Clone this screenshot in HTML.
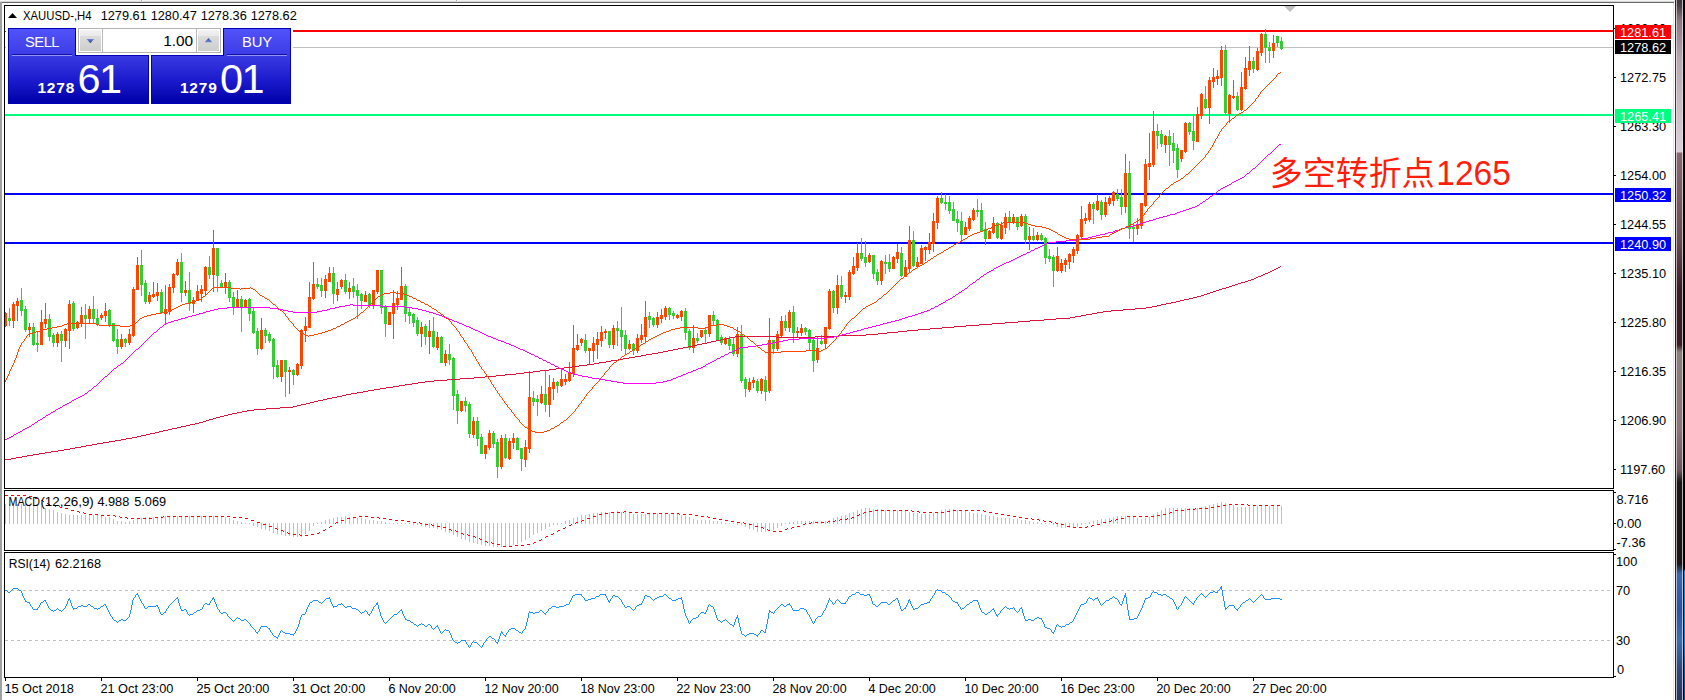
<!DOCTYPE html>
<html lang="zh"><head><meta charset="utf-8"><title>XAUUSD-,H4</title>
<style>html,body{margin:0;padding:0;background:#fff;overflow:hidden}svg{display:block}text{font-family:"Liberation Sans","Noto Sans CJK SC",sans-serif;white-space:pre}</style></head><body>
<svg width="1685" height="700" viewBox="0 0 1685 700">
<defs>
<linearGradient id="gTab" x1="0" y1="0" x2="0" y2="1"><stop offset="0" stop-color="#5252fa"/><stop offset="1" stop-color="#3c3ce6"/></linearGradient>
<linearGradient id="gBox" x1="0" y1="0" x2="0" y2="1"><stop offset="0" stop-color="#3a3ae2"/><stop offset="0.5" stop-color="#1c1cce"/><stop offset="1" stop-color="#0000a8"/></linearGradient>
<linearGradient id="gBtn" x1="0" y1="0" x2="0" y2="1"><stop offset="0" stop-color="#f2f2f2"/><stop offset="0.45" stop-color="#e6e6e6"/><stop offset="0.5" stop-color="#d4d4d4"/><stop offset="1" stop-color="#cdcdcd"/></linearGradient>
<linearGradient id="gFrame" gradientUnits="userSpaceOnUse" x1="0" y1="0" x2="0" y2="700"><stop offset="0.0000" stop-color="#3c363c"/><stop offset="0.0086" stop-color="#4a4046"/><stop offset="0.0286" stop-color="#8a7880"/><stop offset="0.0857" stop-color="#b8a8b0"/><stop offset="0.2171" stop-color="#dcd0d8"/><stop offset="0.2186" stop-color="#886870"/><stop offset="0.3429" stop-color="#6a4a54"/><stop offset="0.4143" stop-color="#3a1c24"/><stop offset="0.4929" stop-color="#3a1c24"/><stop offset="0.5029" stop-color="#8a8078"/><stop offset="0.6143" stop-color="#8c7478"/><stop offset="0.6714" stop-color="#6c585c"/><stop offset="0.6886" stop-color="#1a1618"/><stop offset="0.8057" stop-color="#1a1618"/><stop offset="0.8200" stop-color="#3a68ac"/><stop offset="0.8714" stop-color="#2a52a0"/><stop offset="0.9143" stop-color="#3870b0"/><stop offset="0.9571" stop-color="#2c4878"/><stop offset="1.0000" stop-color="#283860"/></linearGradient>
<linearGradient id="gEdge" gradientUnits="userSpaceOnUse" x1="0" y1="0" x2="0" y2="700"><stop offset="0.8129" stop-color="#000"/><stop offset="0.8157" stop-color="#1e8ce0"/><stop offset="0.92" stop-color="#1e80d0"/><stop offset="0.95" stop-color="#1c5c9c"/><stop offset="1" stop-color="#1c4c84"/></linearGradient>
<linearGradient id="gBtnT" x1="0" y1="0" x2="0" y2="1"><stop offset="0" stop-color="#f3f3f3"/><stop offset="1" stop-color="#e9e9e9"/></linearGradient>
<linearGradient id="gBtnB" x1="0" y1="0" x2="0" y2="1"><stop offset="0" stop-color="#dcdcdc"/><stop offset="1" stop-color="#cecece"/></linearGradient>
<linearGradient id="gArr" x1="0" y1="0" x2="0" y2="1"><stop offset="0" stop-color="#6c84dc"/><stop offset="1" stop-color="#2c3a78"/></linearGradient>
<linearGradient id="gArr2" x1="0" y1="0" x2="0" y2="1"><stop offset="0" stop-color="#3c4c90"/><stop offset="1" stop-color="#6c84dc"/></linearGradient>
<clipPath id="cMain"><rect x="5" y="6" width="1608" height="482"/></clipPath>
<clipPath id="cMacd"><rect x="5" y="491" width="1608" height="59"/></clipPath>
<clipPath id="cRsi"><rect x="5" y="553" width="1608" height="124"/></clipPath>
</defs>
<rect x="0" y="0" width="1685" height="700" fill="#fff" />
<g shape-rendering="crispEdges">
<rect x="0" y="0" width="1675" height="1" fill="#f4f4f4" />
<rect x="0" y="1" width="1675" height="1" fill="#d6d6d6" />
<rect x="0" y="2" width="1674" height="1" fill="#6a6a6a" />
<rect x="141" y="0" width="1" height="1" fill="#a4a4a4" />
<rect x="142" y="0" width="1" height="1" fill="#ffffff" />
<rect x="456" y="0" width="1" height="1" fill="#a4a4a4" />
<rect x="457" y="0" width="1" height="1" fill="#ffffff" />
<rect x="0" y="2" width="2" height="698" fill="#a0a0a0" />
<rect x="1673" y="3" width="1" height="697" fill="#e6e6e6" />
<rect x="1675" y="0" width="10" height="700" fill="url(#gFrame)" />
<rect x="1675" y="0" width="1" height="700" fill="#241c22" opacity="0.85"/>
<rect x="1676" y="0" width="1" height="700" fill="#e8e0e6" opacity="0.7"/>
<rect x="1682" y="0" width="1" height="700" fill="#e8e4ea" opacity="0.75"/>
<rect x="1683" y="0" width="1" height="700" fill="#04060a" />
<rect x="1684" y="0" width="1" height="700" fill="url(#gEdge)" />
</g>
<!--FRAME_DONE-->
<g shape-rendering="crispEdges">
<rect x="4" y="5" width="1610" height="1" fill="#000" />
<rect x="4" y="5" width="1" height="673" fill="#000" />
<rect x="1613" y="5" width="1" height="673" fill="#000" />
<rect x="4" y="488" width="1610" height="1" fill="#000" />
<rect x="4" y="490" width="1610" height="1" fill="#000" />
<rect x="4" y="550" width="1610" height="1" fill="#000" />
<rect x="4" y="552" width="1610" height="1" fill="#000" />
<rect x="4" y="677" width="1610" height="1" fill="#000" />
<rect x="4" y="489" width="1610" height="1" fill="#fff" />
<rect x="4" y="551" width="1610" height="1" fill="#fff" />
</g>
<g shape-rendering="crispEdges">
<rect x="5" y="47" width="1608" height="1" fill="#c0c0c0" />
<rect x="5" y="30" width="1608" height="2" fill="#ff0000" />
<rect x="5" y="114" width="1608" height="2" fill="#00ff7f" />
<rect x="5" y="193" width="1608" height="2" fill="#0000ff" />
<rect x="5" y="242" width="1608" height="2" fill="#0000ff" />
</g>
<g clip-path="url(#cMain)" shape-rendering="crispEdges">
<path d="M9 308h1V326h-1zM8 318h3V321h-3zM21 288h1V316h-1zM20 300h3V311h-3zM25 306h1V332h-1zM24 309h3V330h-3zM33 323h1V346h-1zM32 327h3V345h-3zM37 332h1V352h-1zM36 343h3V345h-3zM49 314h1V341h-1zM48 319h3V337h-3zM53 333h1V347h-1zM52 335h3V343h-3zM61 331h1V362h-1zM60 334h3V341h-3zM73 301h1V331h-1zM72 303h3V329h-3zM85 304h1V339h-1zM84 315h3V319h-3zM93 296h1V324h-1zM92 309h3V319h-3zM97 309h1V326h-1zM96 318h3V324h-3zM109 309h1V327h-1zM108 310h3V326h-3zM113 323h1V342h-1zM112 323h3V341h-3zM117 329h1V354h-1zM116 339h3V347h-3zM125 338h1V347h-1zM124 339h3V343h-3zM141 250h1V296h-1zM140 265h3V285h-3zM145 280h1V304h-1zM144 283h3V302h-3zM161 289h1V314h-1zM160 292h3V313h-3zM181 253h1V302h-1zM180 262h3V293h-3zM189 272h1V311h-1zM188 290h3V304h-3zM209 256h1V279h-1zM208 267h3V275h-3zM217 248h1V292h-1zM216 248h3V276h-3zM221 280h1V288h-1zM220 283h3V288h-3zM229 280h1V302h-1zM228 282h3V298h-3zM233 292h1V315h-1zM232 297h3V308h-3zM241 296h1V332h-1zM240 299h3V307h-3zM249 298h1V321h-1zM248 299h3V314h-3zM253 307h1V334h-1zM252 311h3V333h-3zM257 328h1V355h-1zM256 331h3V349h-3zM265 328h1V343h-1zM264 330h3V336h-3zM269 332h1V343h-1zM268 334h3V341h-3zM273 338h1V379h-1zM272 339h3V367h-3zM277 360h1V378h-1zM276 365h3V377h-3zM285 360h1V397h-1zM284 360h3V372h-3zM293 369h1V385h-1zM292 370h3V375h-3zM317 278h1V289h-1zM316 284h3V287h-3zM321 278h1V297h-1zM320 285h3V291h-3zM333 267h1V304h-1zM332 273h3V294h-3zM345 274h1V294h-1zM344 280h3V292h-3zM353 278h1V298h-1zM352 286h3V292h-3zM357 284h1V319h-1zM356 290h3V296h-3zM361 293h1V309h-1zM360 294h3V301h-3zM369 293h1V308h-1zM368 294h3V306h-3zM381 270h1V314h-1zM380 270h3V308h-3zM385 305h1V337h-1zM384 306h3V324h-3zM405 284h1V322h-1zM404 286h3V314h-3zM409 307h1V324h-1zM408 312h3V316h-3zM413 313h1V327h-1zM412 314h3V323h-3zM417 317h1V336h-1zM416 320h3V334h-3zM425 324h1V345h-1zM424 326h3V337h-3zM433 317h1V348h-1zM432 331h3V347h-3zM441 336h1V363h-1zM440 337h3V363h-3zM449 344h1V365h-1zM448 354h3V360h-3zM453 357h1V410h-1zM452 358h3V396h-3zM457 390h1V424h-1zM456 394h3V411h-3zM465 397h1V412h-1zM464 401h3V406h-3zM469 402h1V438h-1zM468 404h3V434h-3zM477 417h1V446h-1zM476 421h3V439h-3zM481 434h1V454h-1zM480 437h3V454h-3zM493 431h1V448h-1zM492 433h3V444h-3zM497 439h1V478h-1zM496 442h3V467h-3zM505 434h1V459h-1zM504 438h3V458h-3zM517 437h1V450h-1zM516 438h3V450h-3zM521 448h1V471h-1zM520 448h3V459h-3zM533 391h1V406h-1zM532 398h3V402h-3zM537 395h1V416h-1zM536 399h3V402h-3zM545 371h1V412h-1zM544 394h3V405h-3zM557 381h1V393h-1zM556 382h3V386h-3zM585 334h1V353h-1zM584 340h3V351h-3zM609 331h1V348h-1zM608 331h3V345h-3zM617 321h1V346h-1zM616 328h3V331h-3zM621 307h1V351h-1zM620 330h3V337h-3zM625 330h1V354h-1zM624 335h3V349h-3zM633 343h1V355h-1zM632 344h3V351h-3zM649 312h1V328h-1zM648 316h3V320h-3zM653 317h1V327h-1zM652 318h3V325h-3zM669 307h1V320h-1zM668 308h3V315h-3zM673 311h1V319h-1zM672 313h3V316h-3zM685 308h1V340h-1zM684 311h3V333h-3zM689 329h1V350h-1zM688 331h3V348h-3zM697 333h1V343h-1zM696 338h3V341h-3zM705 327h1V343h-1zM704 330h3V334h-3zM713 311h1V326h-1zM712 315h3V321h-3zM717 319h1V341h-1zM716 320h3V340h-3zM721 335h1V345h-1zM720 337h3V343h-3zM729 336h1V350h-1zM728 339h3V346h-3zM733 337h1V356h-1zM732 344h3V354h-3zM741 325h1V383h-1zM740 334h3V381h-3zM745 377h1V397h-1zM744 379h3V389h-3zM757 379h1V393h-1zM756 381h3V391h-3zM765 376h1V401h-1zM764 380h3V392h-3zM773 340h1V354h-1zM772 340h3V349h-3zM785 315h1V331h-1zM784 321h3V328h-3zM793 306h1V343h-1zM792 312h3V333h-3zM805 327h1V335h-1zM804 328h3V332h-3zM809 329h1V350h-1zM808 330h3V343h-3zM813 337h1V372h-1zM812 340h3V361h-3zM821 335h1V345h-1zM820 341h3V344h-3zM833 290h1V313h-1zM832 291h3V308h-3zM841 276h1V299h-1zM840 285h3V297h-3zM861 238h1V261h-1zM860 253h3V259h-3zM865 241h1V267h-1zM864 257h3V263h-3zM873 255h1V279h-1zM872 255h3V274h-3zM877 269h1V285h-1zM876 272h3V281h-3zM885 255h1V274h-1zM884 262h3V264h-3zM889 254h1V272h-1zM888 262h3V269h-3zM901 247h1V277h-1zM900 253h3V276h-3zM913 231h1V267h-1zM912 240h3V266h-3zM941 192h1V204h-1zM940 198h3V203h-3zM945 194h1V210h-1zM944 202h3V204h-3zM949 196h1V214h-1zM948 202h3V211h-3zM953 202h1V221h-1zM952 209h3V221h-3zM957 211h1V232h-1zM956 219h3V223h-3zM961 212h1V242h-1zM960 221h3V235h-3zM977 199h1V217h-1zM976 210h3V212h-3zM981 203h1V232h-1zM980 210h3V231h-3zM985 222h1V245h-1zM984 229h3V239h-3zM997 222h1V239h-1zM996 223h3V238h-3zM1009 211h1V230h-1zM1008 217h3V223h-3zM1017 217h1V230h-1zM1016 217h3V227h-3zM1025 214h1V244h-1zM1024 216h3V240h-3zM1033 228h1V241h-1zM1032 236h3V240h-3zM1041 233h1V241h-1zM1040 235h3V240h-3zM1045 237h1V264h-1zM1044 238h3V258h-3zM1049 249h1V262h-1zM1048 256h3V259h-3zM1053 255h1V287h-1zM1052 257h3V271h-3zM1093 202h1V224h-1zM1092 204h3V209h-3zM1101 200h1V220h-1zM1100 202h3V215h-3zM1117 189h1V201h-1zM1116 194h3V199h-3zM1121 189h1V215h-1zM1120 197h3V207h-3zM1129 161h1V239h-1zM1128 173h3V229h-3zM1133 223h1V242h-1zM1132 227h3V229h-3zM1157 124h1V149h-1zM1156 131h3V136h-3zM1161 130h1V147h-1zM1160 134h3V144h-3zM1169 130h1V166h-1zM1168 136h3V145h-3zM1173 133h1V163h-1zM1172 143h3V151h-3zM1177 144h1V178h-1zM1176 148h3V170h-3zM1189 122h1V135h-1zM1188 123h3V132h-3zM1193 116h1V150h-1zM1192 131h3V141h-3zM1205 86h1V109h-1zM1204 99h3V108h-3zM1225 45h1V115h-1zM1224 50h3V113h-3zM1237 92h1V111h-1zM1236 96h3V110h-3zM1253 57h1V73h-1zM1252 61h3V69h-3zM1265 29h1V63h-1zM1264 34h3V48h-3zM1269 42h1V63h-1zM1268 47h3V51h-3zM1277 36h1V47h-1zM1276 36h3V43h-3zM1281 37h1V50h-1zM1280 41h3V49h-3z" fill="#32cd32"/>
<path d="M5 312h1V327h-1zM4 313h3V326h-3zM13 302h1V328h-1zM12 304h3V321h-3zM17 298h1V321h-1zM16 301h3V306h-3zM29 323h1V337h-1zM28 327h3V330h-3zM41 310h1V345h-1zM40 322h3V345h-3zM45 303h1V328h-1zM44 319h3V324h-3zM57 332h1V347h-1zM56 334h3V343h-3zM65 328h1V347h-1zM64 329h3V341h-3zM69 300h1V349h-1zM68 304h3V331h-3zM77 321h1V329h-1zM76 322h3V328h-3zM81 307h1V327h-1zM80 315h3V324h-3zM89 306h1V324h-1zM88 309h3V319h-3zM101 313h1V320h-1zM100 315h3V318h-3zM105 303h1V322h-1zM104 311h3V316h-3zM121 334h1V349h-1zM120 339h3V347h-3zM129 329h1V345h-1zM128 334h3V343h-3zM133 287h1V337h-1zM132 289h3V336h-3zM137 257h1V290h-1zM136 265h3V290h-3zM149 292h1V304h-1zM148 295h3V302h-3zM153 282h1V298h-1zM152 294h3V297h-3zM157 283h1V301h-1zM156 292h3V296h-3zM165 285h1V325h-1zM164 309h3V314h-3zM169 284h1V315h-1zM168 287h3V312h-3zM173 273h1V293h-1zM172 274h3V288h-3zM177 259h1V276h-1zM176 262h3V275h-3zM185 281h1V296h-1zM184 290h3V293h-3zM193 297h1V313h-1zM192 300h3V304h-3zM197 285h1V301h-1zM196 291h3V301h-3zM201 285h1V302h-1zM200 289h3V294h-3zM205 266h1V296h-1zM204 267h3V291h-3zM213 230h1V292h-1zM212 248h3V275h-3zM225 273h1V294h-1zM224 282h3V288h-3zM237 290h1V308h-1zM236 299h3V308h-3zM245 299h1V308h-1zM244 300h3V308h-3zM261 318h1V350h-1zM260 330h3V349h-3zM281 360h1V382h-1zM280 360h3V377h-3zM289 367h1V394h-1zM288 370h3V372h-3zM297 363h1V376h-1zM296 364h3V375h-3zM301 329h1V369h-1zM300 330h3V366h-3zM305 317h1V342h-1zM304 326h3V331h-3zM309 282h1V328h-1zM308 297h3V328h-3zM313 262h1V300h-1zM312 284h3V299h-3zM325 275h1V298h-1zM324 279h3V291h-3zM329 267h1V282h-1zM328 273h3V282h-3zM337 282h1V301h-1zM336 289h3V295h-3zM341 279h1V289h-1zM340 280h3V287h-3zM349 282h1V299h-1zM348 288h3V292h-3zM365 291h1V302h-1zM364 295h3V302h-3zM373 290h1V309h-1zM372 290h3V306h-3zM377 270h1V294h-1zM376 270h3V292h-3zM389 312h1V325h-1zM388 312h3V325h-3zM393 290h1V339h-1zM392 303h3V314h-3zM397 291h1V310h-1zM396 298h3V305h-3zM401 267h1V300h-1zM400 286h3V300h-3zM421 322h1V347h-1zM420 327h3V334h-3zM429 320h1V354h-1zM428 331h3V337h-3zM437 332h1V350h-1zM436 337h3V348h-3zM445 350h1V366h-1zM444 354h3V363h-3zM461 401h1V412h-1zM460 401h3V411h-3zM473 417h1V438h-1zM472 421h3V435h-3zM485 445h1V459h-1zM484 445h3V454h-3zM489 430h1V450h-1zM488 433h3V448h-3zM501 435h1V469h-1zM500 438h3V467h-3zM509 438h1V460h-1zM508 441h3V459h-3zM513 433h1V449h-1zM512 438h3V443h-3zM525 440h1V467h-1zM524 447h3V460h-3zM529 371h1V453h-1zM528 397h3V449h-3zM541 386h1V404h-1zM540 394h3V403h-3zM549 375h1V417h-1zM548 387h3V405h-3zM553 378h1V400h-1zM552 382h3V389h-3zM561 368h1V387h-1zM560 379h3V386h-3zM565 374h1V385h-1zM564 379h3V382h-3zM569 362h1V382h-1zM568 372h3V381h-3zM573 325h1V377h-1zM572 348h3V374h-3zM577 334h1V351h-1zM576 345h3V350h-3zM581 338h1V346h-1zM580 339h3V343h-3zM589 348h1V365h-1zM588 348h3V351h-3zM593 337h1V362h-1zM592 343h3V351h-3zM597 332h1V359h-1zM596 339h3V345h-3zM601 326h1V347h-1zM600 332h3V341h-3zM605 329h1V339h-1zM604 331h3V333h-3zM613 325h1V349h-1zM612 328h3V345h-3zM629 340h1V350h-1zM628 344h3V349h-3zM637 334h1V353h-1zM636 338h3V351h-3zM641 324h1V343h-1zM640 335h3V340h-3zM645 301h1V342h-1zM644 317h3V337h-3zM657 312h1V328h-1zM656 317h3V325h-3zM661 309h1V323h-1zM660 315h3V319h-3zM665 306h1V320h-1zM664 308h3V317h-3zM677 314h1V319h-1zM676 315h3V318h-3zM681 310h1V321h-1zM680 311h3V317h-3zM693 325h1V353h-1zM692 338h3V348h-3zM701 330h1V338h-1zM700 330h3V337h-3zM709 315h1V337h-1zM708 315h3V334h-3zM725 337h1V345h-1zM724 338h3V344h-3zM737 327h1V357h-1zM736 334h3V354h-3zM749 378h1V392h-1zM748 382h3V390h-3zM753 377h1V388h-1zM752 380h3V383h-3zM761 378h1V394h-1zM760 379h3V391h-3zM769 318h1V393h-1zM768 340h3V391h-3zM777 331h1V351h-1zM776 334h3V349h-3zM781 316h1V338h-1zM780 321h3V336h-3zM789 310h1V332h-1zM788 312h3V328h-3zM797 327h1V338h-1zM796 331h3V333h-3zM801 324h1V336h-1zM800 328h3V333h-3zM817 336h1V363h-1zM816 348h3V360h-3zM825 327h1V348h-1zM824 327h3V344h-3zM829 289h1V330h-1zM828 291h3V329h-3zM837 275h1V314h-1zM836 285h3V308h-3zM845 292h1V303h-1zM844 295h3V297h-3zM849 270h1V300h-1zM848 272h3V297h-3zM853 257h1V275h-1zM852 266h3V274h-3zM857 243h1V271h-1zM856 253h3V268h-3zM869 253h1V263h-1zM868 255h3V262h-3zM881 260h1V285h-1zM880 261h3V281h-3zM893 256h1V269h-1zM892 257h3V269h-3zM897 244h1V263h-1zM896 252h3V259h-3zM905 260h1V277h-1zM904 267h3V277h-3zM909 226h1V272h-1zM908 240h3V269h-3zM917 257h1V268h-1zM916 262h3V267h-3zM921 245h1V264h-1zM920 248h3V264h-3zM925 246h1V261h-1zM924 247h3V250h-3zM929 233h1V254h-1zM928 242h3V250h-3zM933 213h1V252h-1zM932 221h3V244h-3zM937 196h1V229h-1zM936 198h3V223h-3zM965 222h1V235h-1zM964 227h3V235h-3zM969 216h1V231h-1zM968 218h3V229h-3zM973 208h1V221h-1zM972 210h3V220h-3zM989 230h1V239h-1zM988 231h3V239h-3zM993 217h1V234h-1zM992 223h3V233h-3zM1001 222h1V240h-1zM1000 225h3V239h-3zM1005 213h1V234h-1zM1004 217h3V228h-3zM1013 214h1V224h-1zM1012 217h3V223h-3zM1021 214h1V227h-1zM1020 216h3V226h-3zM1029 227h1V250h-1zM1028 236h3V240h-3zM1037 232h1V241h-1zM1036 235h3V240h-3zM1057 247h1V272h-1zM1056 256h3V271h-3zM1061 259h1V273h-1zM1060 263h3V271h-3zM1065 258h1V272h-1zM1064 260h3V265h-3zM1069 253h1V269h-1zM1068 254h3V262h-3zM1073 247h1V263h-1zM1072 249h3V256h-3zM1077 234h1V254h-1zM1076 235h3V251h-3zM1081 206h1V239h-1zM1080 219h3V237h-3zM1085 213h1V224h-1zM1084 218h3V221h-3zM1089 202h1V222h-1zM1088 204h3V220h-3zM1097 194h1V211h-1zM1096 201h3V210h-3zM1105 197h1V217h-1zM1104 202h3V215h-3zM1109 196h1V206h-1zM1108 198h3V204h-3zM1113 191h1V206h-1zM1112 192h3V201h-3zM1125 154h1V213h-1zM1124 173h3V207h-3zM1137 218h1V235h-1zM1136 224h3V229h-3zM1141 203h1V229h-1zM1140 203h3V226h-3zM1145 159h1V207h-1zM1144 164h3V206h-3zM1149 133h1V180h-1zM1148 163h3V167h-3zM1153 111h1V167h-1zM1152 131h3V165h-3zM1165 135h1V153h-1zM1164 136h3V145h-3zM1181 150h1V162h-1zM1180 150h3V159h-3zM1185 122h1V153h-1zM1184 123h3V152h-3zM1197 107h1V142h-1zM1196 114h3V142h-3zM1201 93h1V119h-1zM1200 94h3V116h-3zM1209 77h1V124h-1zM1208 80h3V108h-3zM1213 68h1V88h-1zM1212 77h3V82h-3zM1217 70h1V85h-1zM1216 76h3V79h-3zM1221 46h1V86h-1zM1220 50h3V78h-3zM1229 94h1V123h-1zM1228 95h3V114h-3zM1233 80h1V99h-1zM1232 96h3V98h-3zM1241 72h1V111h-1zM1240 87h3V110h-3zM1245 57h1V90h-1zM1244 68h3V89h-3zM1249 46h1V76h-1zM1248 61h3V70h-3zM1257 48h1V71h-1zM1256 51h3V70h-3zM1261 33h1V56h-1zM1260 34h3V53h-3zM1273 35h1V58h-1zM1272 43h3V51h-3z" fill="#ff4500"/>
<path d="M5 459h1v1h-1zM6 459h1v1h-1zM7 459h1v1h-1zM8 459h1v1h-1zM9 459h1v1h-1zM10 459h1v1h-1zM11 458h1v1h-1zM12 458h1v1h-1zM13 458h1v1h-1zM14 458h1v1h-1zM15 458h1v1h-1zM16 457h1v1h-1zM17 457h1v1h-1zM18 457h1v1h-1zM19 457h1v1h-1zM20 457h1v1h-1zM21 457h1v1h-1zM22 456h1v1h-1zM23 456h1v1h-1zM24 456h1v1h-1zM25 456h1v1h-1zM26 456h1v1h-1zM27 455h1v1h-1zM28 455h1v1h-1zM29 455h1v1h-1zM30 455h1v1h-1zM31 455h1v1h-1zM32 455h1v1h-1zM33 454h1v1h-1zM34 454h1v1h-1zM35 454h1v1h-1zM36 454h1v1h-1zM37 454h1v1h-1zM38 454h1v1h-1zM39 453h1v1h-1zM40 453h1v1h-1zM41 453h1v1h-1zM42 453h1v1h-1zM43 453h1v1h-1zM44 453h1v1h-1zM45 452h1v1h-1zM46 452h1v1h-1zM47 452h1v1h-1zM48 452h1v1h-1zM49 452h1v1h-1zM50 452h1v1h-1zM51 451h1v1h-1zM52 451h1v1h-1zM53 451h1v1h-1zM54 451h1v1h-1zM55 451h1v1h-1zM56 451h1v1h-1zM57 451h1v1h-1zM58 450h1v1h-1zM59 450h1v1h-1zM60 450h1v1h-1zM61 450h1v1h-1zM62 450h1v1h-1zM63 450h1v1h-1zM64 449h1v1h-1zM65 449h1v1h-1zM66 449h1v1h-1zM67 449h1v1h-1zM68 449h1v1h-1zM69 449h1v1h-1zM70 448h1v1h-1zM71 448h1v1h-1zM72 448h1v1h-1zM73 448h1v1h-1zM74 448h1v1h-1zM75 447h1v1h-1zM76 447h1v1h-1zM77 447h1v1h-1zM78 447h1v1h-1zM79 447h1v1h-1zM80 447h1v1h-1zM81 446h1v1h-1zM82 446h1v1h-1zM83 446h1v1h-1zM84 446h1v1h-1zM85 446h1v1h-1zM86 445h1v1h-1zM87 445h1v1h-1zM88 445h1v1h-1zM89 445h1v1h-1zM90 445h1v1h-1zM91 445h1v1h-1zM92 444h1v1h-1zM93 444h1v1h-1zM94 444h1v1h-1zM95 444h1v1h-1zM96 444h1v1h-1zM97 443h1v1h-1zM98 443h1v1h-1zM99 443h1v1h-1zM100 443h1v1h-1zM101 443h1v1h-1zM102 443h1v1h-1zM103 442h1v1h-1zM104 442h1v1h-1zM105 442h1v1h-1zM106 442h1v1h-1zM107 442h1v1h-1zM108 442h1v1h-1zM109 441h1v1h-1zM110 441h1v1h-1zM111 441h1v1h-1zM112 441h1v1h-1zM113 441h1v1h-1zM114 441h1v1h-1zM115 440h1v1h-1zM116 440h1v1h-1zM117 440h1v1h-1zM118 440h1v1h-1zM119 440h1v1h-1zM120 440h1v1h-1zM121 439h1v1h-1zM122 439h1v1h-1zM123 439h1v1h-1zM124 439h1v1h-1zM125 439h1v1h-1zM126 438h1v1h-1zM127 438h1v1h-1zM128 438h1v1h-1zM129 438h1v1h-1zM130 438h1v1h-1zM131 438h1v1h-1zM132 437h1v1h-1zM133 437h1v1h-1zM134 437h1v1h-1zM135 437h1v1h-1zM136 437h1v1h-1zM137 436h1v1h-1zM138 436h1v1h-1zM139 436h1v1h-1zM140 436h1v1h-1zM141 435h1v1h-1zM142 435h1v1h-1zM143 435h1v1h-1zM144 435h1v1h-1zM145 435h1v1h-1zM146 434h1v1h-1zM147 434h1v1h-1zM148 434h1v1h-1zM149 434h1v1h-1zM150 433h1v1h-1zM151 433h1v1h-1zM152 433h1v1h-1zM153 433h1v1h-1zM154 433h1v1h-1zM155 432h1v1h-1zM156 432h1v1h-1zM157 432h1v1h-1zM158 432h1v1h-1zM159 431h1v1h-1zM160 431h1v1h-1zM161 431h1v1h-1zM162 431h1v1h-1zM163 430h1v1h-1zM164 430h1v1h-1zM165 430h1v1h-1zM166 430h1v1h-1zM167 430h1v1h-1zM168 429h1v1h-1zM169 429h1v1h-1zM170 429h1v1h-1zM171 429h1v1h-1zM172 428h1v1h-1zM173 428h1v1h-1zM174 428h1v1h-1zM175 428h1v1h-1zM176 428h1v1h-1zM177 427h1v1h-1zM178 427h1v1h-1zM179 427h1v1h-1zM180 427h1v1h-1zM181 426h1v1h-1zM182 426h1v1h-1zM183 426h1v1h-1zM184 426h1v1h-1zM185 426h1v1h-1zM186 425h1v1h-1zM187 425h1v1h-1zM188 425h1v1h-1zM189 425h1v1h-1zM190 424h1v1h-1zM191 424h1v1h-1zM192 424h1v1h-1zM193 424h1v1h-1zM194 424h1v1h-1zM195 423h1v1h-1zM196 423h1v1h-1zM197 423h1v1h-1zM198 423h1v1h-1zM199 422h1v1h-1zM200 422h1v1h-1zM201 422h1v1h-1zM202 422h1v1h-1zM203 421h1v1h-1zM204 421h1v1h-1zM205 421h1v1h-1zM206 420h1v1h-1zM207 420h1v1h-1zM208 420h1v1h-1zM209 419h1v1h-1zM210 419h1v1h-1zM211 419h1v1h-1zM212 419h1v1h-1zM213 418h1v1h-1zM214 418h1v1h-1zM215 418h1v1h-1zM216 417h1v1h-1zM217 417h1v1h-1zM218 417h1v1h-1zM219 417h1v1h-1zM220 416h1v1h-1zM221 416h1v1h-1zM222 416h1v1h-1zM223 416h1v1h-1zM224 415h1v1h-1zM225 415h1v1h-1zM226 415h1v1h-1zM227 415h1v1h-1zM228 414h1v1h-1zM229 414h1v1h-1zM230 414h1v1h-1zM231 414h1v1h-1zM232 413h1v1h-1zM233 413h1v1h-1zM234 413h1v1h-1zM235 413h1v1h-1zM236 413h1v1h-1zM237 412h1v1h-1zM238 412h1v1h-1zM239 412h1v1h-1zM240 412h1v1h-1zM241 412h1v1h-1zM242 411h1v1h-1zM243 411h1v1h-1zM244 411h1v1h-1zM245 411h1v1h-1zM246 411h1v1h-1zM247 410h1v1h-1zM248 410h1v1h-1zM249 410h1v1h-1zM250 410h1v1h-1zM251 410h1v1h-1zM252 410h1v1h-1zM253 410h1v1h-1zM254 409h1v1h-1zM255 409h1v1h-1zM256 409h1v1h-1zM257 409h1v1h-1zM258 409h1v1h-1zM259 409h1v1h-1zM260 409h1v1h-1zM261 409h1v1h-1zM262 409h1v1h-1zM263 409h1v1h-1zM264 409h1v1h-1zM265 409h1v1h-1zM266 408h1v1h-1zM267 408h1v1h-1zM268 408h1v1h-1zM269 408h1v1h-1zM270 408h1v1h-1zM271 408h1v1h-1zM272 408h1v1h-1zM273 408h1v1h-1zM274 408h1v1h-1zM275 408h1v1h-1zM276 408h1v1h-1zM277 408h1v1h-1zM278 408h1v1h-1zM279 408h1v1h-1zM280 407h1v1h-1zM281 407h1v1h-1zM282 407h1v1h-1zM283 407h1v1h-1zM284 407h1v1h-1zM285 407h1v1h-1zM286 407h1v1h-1zM287 407h1v1h-1zM288 407h1v1h-1zM289 407h1v1h-1zM290 407h1v1h-1zM291 407h1v1h-1zM292 407h1v1h-1zM293 406h1v1h-1zM294 406h1v1h-1zM295 406h1v1h-1zM296 406h1v1h-1zM297 405h1v1h-1zM298 405h1v1h-1zM299 405h1v1h-1zM300 405h1v1h-1zM301 404h1v1h-1zM302 404h1v1h-1zM303 404h1v1h-1zM304 404h1v1h-1zM305 404h1v1h-1zM306 403h1v1h-1zM307 403h1v1h-1zM308 403h1v1h-1zM309 403h1v1h-1zM310 402h1v1h-1zM311 402h1v1h-1zM312 402h1v1h-1zM313 402h1v1h-1zM314 401h1v1h-1zM315 401h1v1h-1zM316 401h1v1h-1zM317 401h1v1h-1zM318 400h1v1h-1zM319 400h1v1h-1zM320 400h1v1h-1zM321 400h1v1h-1zM322 400h1v1h-1zM323 399h1v1h-1zM324 399h1v1h-1zM325 399h1v1h-1zM326 399h1v1h-1zM327 398h1v1h-1zM328 398h1v1h-1zM329 398h1v1h-1zM330 398h1v1h-1zM331 398h1v1h-1zM332 397h1v1h-1zM333 397h1v1h-1zM334 397h1v1h-1zM335 397h1v1h-1zM336 397h1v1h-1zM337 396h1v1h-1zM338 396h1v1h-1zM339 396h1v1h-1zM340 396h1v1h-1zM341 396h1v1h-1zM342 395h1v1h-1zM343 395h1v1h-1zM344 395h1v1h-1zM345 395h1v1h-1zM346 394h1v1h-1zM347 394h1v1h-1zM348 394h1v1h-1zM349 394h1v1h-1zM350 394h1v1h-1zM351 393h1v1h-1zM352 393h1v1h-1zM353 393h1v1h-1zM354 393h1v1h-1zM355 393h1v1h-1zM356 393h1v1h-1zM357 392h1v1h-1zM358 392h1v1h-1zM359 392h1v1h-1zM360 392h1v1h-1zM361 392h1v1h-1zM362 392h1v1h-1zM363 391h1v1h-1zM364 391h1v1h-1zM365 391h1v1h-1zM366 391h1v1h-1zM367 391h1v1h-1zM368 390h1v1h-1zM369 390h1v1h-1zM370 390h1v1h-1zM371 390h1v1h-1zM372 390h1v1h-1zM373 390h1v1h-1zM374 389h1v1h-1zM375 389h1v1h-1zM376 389h1v1h-1zM377 389h1v1h-1zM378 389h1v1h-1zM379 389h1v1h-1zM380 388h1v1h-1zM381 388h1v1h-1zM382 388h1v1h-1zM383 388h1v1h-1zM384 388h1v1h-1zM385 388h1v1h-1zM386 387h1v1h-1zM387 387h1v1h-1zM388 387h1v1h-1zM389 387h1v1h-1zM390 387h1v1h-1zM391 387h1v1h-1zM392 387h1v1h-1zM393 386h1v1h-1zM394 386h1v1h-1zM395 386h1v1h-1zM396 386h1v1h-1zM397 386h1v1h-1zM398 386h1v1h-1zM399 385h1v1h-1zM400 385h1v1h-1zM401 385h1v1h-1zM402 385h1v1h-1zM403 385h1v1h-1zM404 385h1v1h-1zM405 384h1v1h-1zM406 384h1v1h-1zM407 384h1v1h-1zM408 384h1v1h-1zM409 384h1v1h-1zM410 384h1v1h-1zM411 384h1v1h-1zM412 383h1v1h-1zM413 383h1v1h-1zM414 383h1v1h-1zM415 383h1v1h-1zM416 383h1v1h-1zM417 383h1v1h-1zM418 382h1v1h-1zM419 382h1v1h-1zM420 382h1v1h-1zM421 382h1v1h-1zM422 382h1v1h-1zM423 382h1v1h-1zM424 382h1v1h-1zM425 381h1v1h-1zM426 381h1v1h-1zM427 381h1v1h-1zM428 381h1v1h-1zM429 381h1v1h-1zM430 381h1v1h-1zM431 381h1v1h-1zM432 381h1v1h-1zM433 381h1v1h-1zM434 380h1v1h-1zM435 380h1v1h-1zM436 380h1v1h-1zM437 380h1v1h-1zM438 380h1v1h-1zM439 380h1v1h-1zM440 380h1v1h-1zM441 380h1v1h-1zM442 380h1v1h-1zM443 380h1v1h-1zM444 380h1v1h-1zM445 380h1v1h-1zM446 380h1v1h-1zM447 379h1v1h-1zM448 379h1v1h-1zM449 379h1v1h-1zM450 379h1v1h-1zM451 379h1v1h-1zM452 379h1v1h-1zM453 379h1v1h-1zM454 379h1v1h-1zM455 379h1v1h-1zM456 379h1v1h-1zM457 379h1v1h-1zM458 379h1v1h-1zM459 379h1v1h-1zM460 378h1v1h-1zM461 378h1v1h-1zM462 378h1v1h-1zM463 378h1v1h-1zM464 378h1v1h-1zM465 378h1v1h-1zM466 378h1v1h-1zM467 378h1v1h-1zM468 378h1v1h-1zM469 378h1v1h-1zM470 378h1v1h-1zM471 378h1v1h-1zM472 378h1v1h-1zM473 378h1v1h-1zM474 377h1v1h-1zM475 377h1v1h-1zM476 377h1v1h-1zM477 377h1v1h-1zM478 377h1v1h-1zM479 377h1v1h-1zM480 377h1v1h-1zM481 377h1v1h-1zM482 377h1v1h-1zM483 377h1v1h-1zM484 377h1v1h-1zM485 376h1v1h-1zM486 376h1v1h-1zM487 376h1v1h-1zM488 376h1v1h-1zM489 376h1v1h-1zM490 376h1v1h-1zM491 376h1v1h-1zM492 376h1v1h-1zM493 376h1v1h-1zM494 376h1v1h-1zM495 376h1v1h-1zM496 375h1v1h-1zM497 375h1v1h-1zM498 375h1v1h-1zM499 375h1v1h-1zM500 375h1v1h-1zM501 375h1v1h-1zM502 375h1v1h-1zM503 375h1v1h-1zM504 375h1v1h-1zM505 374h1v1h-1zM506 374h1v1h-1zM507 374h1v1h-1zM508 374h1v1h-1zM509 374h1v1h-1zM510 374h1v1h-1zM511 374h1v1h-1zM512 374h1v1h-1zM513 374h1v1h-1zM514 374h1v1h-1zM515 374h1v1h-1zM516 373h1v1h-1zM517 373h1v1h-1zM518 373h1v1h-1zM519 373h1v1h-1zM520 373h1v1h-1zM521 373h1v1h-1zM522 373h1v1h-1zM523 373h1v1h-1zM524 372h1v1h-1zM525 372h1v1h-1zM526 372h1v1h-1zM527 372h1v1h-1zM528 372h1v1h-1zM529 372h1v1h-1zM530 372h1v1h-1zM531 372h1v1h-1zM532 372h1v1h-1zM533 371h1v1h-1zM534 371h1v1h-1zM535 371h1v1h-1zM536 371h1v1h-1zM537 371h1v1h-1zM538 371h1v1h-1zM539 371h1v1h-1zM540 370h1v1h-1zM541 370h1v1h-1zM542 370h1v1h-1zM543 370h1v1h-1zM544 370h1v1h-1zM545 370h1v1h-1zM546 370h1v1h-1zM547 370h1v1h-1zM548 370h1v1h-1zM549 369h1v1h-1zM550 369h1v1h-1zM551 369h1v1h-1zM552 369h1v1h-1zM553 369h1v1h-1zM554 369h1v1h-1zM555 369h1v1h-1zM556 368h1v1h-1zM557 368h1v1h-1zM558 368h1v1h-1zM559 368h1v1h-1zM560 368h1v1h-1zM561 368h1v1h-1zM562 368h1v1h-1zM563 368h1v1h-1zM564 367h1v1h-1zM565 367h1v1h-1zM566 367h1v1h-1zM567 367h1v1h-1zM568 367h1v1h-1zM569 367h1v1h-1zM570 367h1v1h-1zM571 367h1v1h-1zM572 366h1v1h-1zM573 366h1v1h-1zM574 366h1v1h-1zM575 366h1v1h-1zM576 366h1v1h-1zM577 366h1v1h-1zM578 366h1v1h-1zM579 365h1v1h-1zM580 365h1v1h-1zM581 365h1v1h-1zM582 365h1v1h-1zM583 365h1v1h-1zM584 365h1v1h-1zM585 365h1v1h-1zM586 365h1v1h-1zM587 364h1v1h-1zM588 364h1v1h-1zM589 364h1v1h-1zM590 364h1v1h-1zM591 364h1v1h-1zM592 364h1v1h-1zM593 364h1v1h-1zM594 363h1v1h-1zM595 363h1v1h-1zM596 363h1v1h-1zM597 363h1v1h-1zM598 363h1v1h-1zM599 362h1v1h-1zM600 362h1v1h-1zM601 362h1v1h-1zM602 362h1v1h-1zM603 362h1v1h-1zM604 362h1v1h-1zM605 362h1v1h-1zM606 361h1v1h-1zM607 361h1v1h-1zM608 361h1v1h-1zM609 361h1v1h-1zM610 361h1v1h-1zM611 360h1v1h-1zM612 360h1v1h-1zM613 360h1v1h-1zM614 360h1v1h-1zM615 360h1v1h-1zM616 360h1v1h-1zM617 360h1v1h-1zM618 359h1v1h-1zM619 359h1v1h-1zM620 359h1v1h-1zM621 359h1v1h-1zM622 359h1v1h-1zM623 358h1v1h-1zM624 358h1v1h-1zM625 358h1v1h-1zM626 358h1v1h-1zM627 358h1v1h-1zM628 358h1v1h-1zM629 357h1v1h-1zM630 357h1v1h-1zM631 357h1v1h-1zM632 357h1v1h-1zM633 357h1v1h-1zM634 357h1v1h-1zM635 356h1v1h-1zM636 356h1v1h-1zM637 356h1v1h-1zM638 356h1v1h-1zM639 356h1v1h-1zM640 356h1v1h-1zM641 355h1v1h-1zM642 355h1v1h-1zM643 355h1v1h-1zM644 355h1v1h-1zM645 355h1v1h-1zM646 354h1v1h-1zM647 354h1v1h-1zM648 354h1v1h-1zM649 354h1v1h-1zM650 354h1v1h-1zM651 354h1v1h-1zM652 353h1v1h-1zM653 353h1v1h-1zM654 353h1v1h-1zM655 353h1v1h-1zM656 353h1v1h-1zM657 353h1v1h-1zM658 352h1v1h-1zM659 352h1v1h-1zM660 352h1v1h-1zM661 352h1v1h-1zM662 352h1v1h-1zM663 351h1v1h-1zM664 351h1v1h-1zM665 351h1v1h-1zM666 351h1v1h-1zM667 351h1v1h-1zM668 350h1v1h-1zM669 350h1v1h-1zM670 350h1v1h-1zM671 350h1v1h-1zM672 350h1v1h-1zM673 349h1v1h-1zM674 349h1v1h-1zM675 349h1v1h-1zM676 349h1v1h-1zM677 349h1v1h-1zM678 348h1v1h-1zM679 348h1v1h-1zM680 348h1v1h-1zM681 348h1v1h-1zM682 348h1v1h-1zM683 347h1v1h-1zM684 347h1v1h-1zM685 347h1v1h-1zM686 347h1v1h-1zM687 347h1v1h-1zM688 346h1v1h-1zM689 346h1v1h-1zM690 346h1v1h-1zM691 346h1v1h-1zM692 346h1v1h-1zM693 345h1v1h-1zM694 345h1v1h-1zM695 345h1v1h-1zM696 345h1v1h-1zM697 344h1v1h-1zM698 344h1v1h-1zM699 344h1v1h-1zM700 344h1v1h-1zM701 344h1v1h-1zM702 343h1v1h-1zM703 343h1v1h-1zM704 343h1v1h-1zM705 343h1v1h-1zM706 343h1v1h-1zM707 342h1v1h-1zM708 342h1v1h-1zM709 342h1v1h-1zM710 342h1v1h-1zM711 341h1v1h-1zM712 341h1v1h-1zM713 341h1v1h-1zM714 341h1v1h-1zM715 341h1v1h-1zM716 340h1v1h-1zM717 340h1v1h-1zM718 340h1v1h-1zM719 340h1v1h-1zM720 340h1v1h-1zM721 339h1v1h-1zM722 339h1v1h-1zM723 339h1v1h-1zM724 339h1v1h-1zM725 339h1v1h-1zM726 338h1v1h-1zM727 338h1v1h-1zM728 338h1v1h-1zM729 338h1v1h-1zM730 337h1v1h-1zM731 337h1v1h-1zM732 337h1v1h-1zM733 337h1v1h-1zM734 337h1v1h-1zM735 336h1v1h-1zM736 336h1v1h-1zM737 336h1v1h-1zM738 336h1v1h-1zM739 336h1v1h-1zM740 336h1v1h-1zM741 336h1v1h-1zM742 336h1v1h-1zM743 336h1v1h-1zM744 336h1v1h-1zM745 336h1v1h-1zM746 336h1v1h-1zM747 336h1v1h-1zM748 336h1v1h-1zM749 336h1v1h-1zM750 336h1v1h-1zM751 336h1v1h-1zM752 336h1v1h-1zM753 336h1v1h-1zM754 336h1v1h-1zM755 336h1v1h-1zM756 336h1v1h-1zM757 336h1v1h-1zM758 336h1v1h-1zM759 336h1v1h-1zM760 336h1v1h-1zM761 336h1v1h-1zM762 336h1v1h-1zM763 336h1v1h-1zM764 336h1v1h-1zM765 336h1v1h-1zM766 336h1v1h-1zM767 336h1v1h-1zM768 336h1v1h-1zM769 336h1v1h-1zM770 336h1v1h-1zM771 336h1v1h-1zM772 336h1v1h-1zM773 336h1v1h-1zM774 336h1v1h-1zM775 336h1v1h-1zM776 337h1v1h-1zM777 337h1v1h-1zM778 337h1v1h-1zM779 337h1v1h-1zM780 337h1v1h-1zM781 337h1v1h-1zM782 337h1v1h-1zM783 337h1v1h-1zM784 337h1v1h-1zM785 337h1v1h-1zM786 337h1v1h-1zM787 337h1v1h-1zM788 337h1v1h-1zM789 337h1v1h-1zM790 337h1v1h-1zM791 337h1v1h-1zM792 337h1v1h-1zM793 337h1v1h-1zM794 337h1v1h-1zM795 337h1v1h-1zM796 337h1v1h-1zM797 337h1v1h-1zM798 337h1v1h-1zM799 337h1v1h-1zM800 337h1v1h-1zM801 337h1v1h-1zM802 337h1v1h-1zM803 337h1v1h-1zM804 337h1v1h-1zM805 337h1v1h-1zM806 337h1v1h-1zM807 337h1v1h-1zM808 337h1v1h-1zM809 337h1v1h-1zM810 337h1v1h-1zM811 337h1v1h-1zM812 337h1v1h-1zM813 337h1v1h-1zM814 337h1v1h-1zM815 336h1v1h-1zM816 336h1v1h-1zM817 336h1v1h-1zM818 336h1v1h-1zM819 336h1v1h-1zM820 336h1v1h-1zM821 336h1v1h-1zM822 336h1v1h-1zM823 336h1v1h-1zM824 336h1v1h-1zM825 336h1v1h-1zM826 336h1v1h-1zM827 336h1v1h-1zM828 336h1v1h-1zM829 336h1v1h-1zM830 336h1v1h-1zM831 336h1v1h-1zM832 336h1v1h-1zM833 336h1v1h-1zM834 336h1v1h-1zM835 336h1v1h-1zM836 336h1v1h-1zM837 336h1v1h-1zM838 335h1v1h-1zM839 335h1v1h-1zM840 335h1v1h-1zM841 335h1v1h-1zM842 335h1v1h-1zM843 335h1v1h-1zM844 335h1v1h-1zM845 335h1v1h-1zM846 335h1v1h-1zM847 335h1v1h-1zM848 335h1v1h-1zM849 335h1v1h-1zM850 335h1v1h-1zM851 335h1v1h-1zM852 335h1v1h-1zM853 335h1v1h-1zM854 335h1v1h-1zM855 335h1v1h-1zM856 335h1v1h-1zM857 335h1v1h-1zM858 335h1v1h-1zM859 335h1v1h-1zM860 335h1v1h-1zM861 335h1v1h-1zM862 335h1v1h-1zM863 335h1v1h-1zM864 335h1v1h-1zM865 335h1v1h-1zM866 334h1v1h-1zM867 334h1v1h-1zM868 334h1v1h-1zM869 334h1v1h-1zM870 334h1v1h-1zM871 334h1v1h-1zM872 334h1v1h-1zM873 334h1v1h-1zM874 334h1v1h-1zM875 334h1v1h-1zM876 334h1v1h-1zM877 334h1v1h-1zM878 333h1v1h-1zM879 333h1v1h-1zM880 333h1v1h-1zM881 333h1v1h-1zM882 333h1v1h-1zM883 333h1v1h-1zM884 333h1v1h-1zM885 333h1v1h-1zM886 333h1v1h-1zM887 332h1v1h-1zM888 332h1v1h-1zM889 332h1v1h-1zM890 332h1v1h-1zM891 332h1v1h-1zM892 332h1v1h-1zM893 332h1v1h-1zM894 332h1v1h-1zM895 332h1v1h-1zM896 332h1v1h-1zM897 332h1v1h-1zM898 331h1v1h-1zM899 331h1v1h-1zM900 331h1v1h-1zM901 331h1v1h-1zM902 331h1v1h-1zM903 331h1v1h-1zM904 331h1v1h-1zM905 331h1v1h-1zM906 331h1v1h-1zM907 330h1v1h-1zM908 330h1v1h-1zM909 330h1v1h-1zM910 330h1v1h-1zM911 330h1v1h-1zM912 330h1v1h-1zM913 330h1v1h-1zM914 330h1v1h-1zM915 330h1v1h-1zM916 330h1v1h-1zM917 330h1v1h-1zM918 329h1v1h-1zM919 329h1v1h-1zM920 329h1v1h-1zM921 329h1v1h-1zM922 329h1v1h-1zM923 329h1v1h-1zM924 329h1v1h-1zM925 329h1v1h-1zM926 329h1v1h-1zM927 329h1v1h-1zM928 329h1v1h-1zM929 329h1v1h-1zM930 328h1v1h-1zM931 328h1v1h-1zM932 328h1v1h-1zM933 328h1v1h-1zM934 328h1v1h-1zM935 328h1v1h-1zM936 328h1v1h-1zM937 328h1v1h-1zM938 328h1v1h-1zM939 328h1v1h-1zM940 328h1v1h-1zM941 328h1v1h-1zM942 327h1v1h-1zM943 327h1v1h-1zM944 327h1v1h-1zM945 327h1v1h-1zM946 327h1v1h-1zM947 327h1v1h-1zM948 327h1v1h-1zM949 327h1v1h-1zM950 327h1v1h-1zM951 327h1v1h-1zM952 327h1v1h-1zM953 327h1v1h-1zM954 326h1v1h-1zM955 326h1v1h-1zM956 326h1v1h-1zM957 326h1v1h-1zM958 326h1v1h-1zM959 326h1v1h-1zM960 326h1v1h-1zM961 326h1v1h-1zM962 326h1v1h-1zM963 326h1v1h-1zM964 326h1v1h-1zM965 326h1v1h-1zM966 325h1v1h-1zM967 325h1v1h-1zM968 325h1v1h-1zM969 325h1v1h-1zM970 325h1v1h-1zM971 325h1v1h-1zM972 325h1v1h-1zM973 325h1v1h-1zM974 325h1v1h-1zM975 325h1v1h-1zM976 325h1v1h-1zM977 325h1v1h-1zM978 325h1v1h-1zM979 324h1v1h-1zM980 324h1v1h-1zM981 324h1v1h-1zM982 324h1v1h-1zM983 324h1v1h-1zM984 324h1v1h-1zM985 324h1v1h-1zM986 324h1v1h-1zM987 324h1v1h-1zM988 324h1v1h-1zM989 324h1v1h-1zM990 324h1v1h-1zM991 324h1v1h-1zM992 323h1v1h-1zM993 323h1v1h-1zM994 323h1v1h-1zM995 323h1v1h-1zM996 323h1v1h-1zM997 323h1v1h-1zM998 323h1v1h-1zM999 323h1v1h-1zM1000 323h1v1h-1zM1001 323h1v1h-1zM1002 323h1v1h-1zM1003 323h1v1h-1zM1004 323h1v1h-1zM1005 322h1v1h-1zM1006 322h1v1h-1zM1007 322h1v1h-1zM1008 322h1v1h-1zM1009 322h1v1h-1zM1010 322h1v1h-1zM1011 322h1v1h-1zM1012 322h1v1h-1zM1013 322h1v1h-1zM1014 322h1v1h-1zM1015 322h1v1h-1zM1016 322h1v1h-1zM1017 322h1v1h-1zM1018 321h1v1h-1zM1019 321h1v1h-1zM1020 321h1v1h-1zM1021 321h1v1h-1zM1022 321h1v1h-1zM1023 321h1v1h-1zM1024 321h1v1h-1zM1025 321h1v1h-1zM1026 321h1v1h-1zM1027 321h1v1h-1zM1028 321h1v1h-1zM1029 321h1v1h-1zM1030 320h1v1h-1zM1031 320h1v1h-1zM1032 320h1v1h-1zM1033 320h1v1h-1zM1034 320h1v1h-1zM1035 320h1v1h-1zM1036 320h1v1h-1zM1037 320h1v1h-1zM1038 320h1v1h-1zM1039 320h1v1h-1zM1040 320h1v1h-1zM1041 320h1v1h-1zM1042 320h1v1h-1zM1043 320h1v1h-1zM1044 319h1v1h-1zM1045 319h1v1h-1zM1046 319h1v1h-1zM1047 319h1v1h-1zM1048 319h1v1h-1zM1049 319h1v1h-1zM1050 319h1v1h-1zM1051 319h1v1h-1zM1052 319h1v1h-1zM1053 319h1v1h-1zM1054 319h1v1h-1zM1055 319h1v1h-1zM1056 318h1v1h-1zM1057 318h1v1h-1zM1058 318h1v1h-1zM1059 318h1v1h-1zM1060 318h1v1h-1zM1061 318h1v1h-1zM1062 318h1v1h-1zM1063 318h1v1h-1zM1064 318h1v1h-1zM1065 318h1v1h-1zM1066 318h1v1h-1zM1067 318h1v1h-1zM1068 318h1v1h-1zM1069 318h1v1h-1zM1070 317h1v1h-1zM1071 317h1v1h-1zM1072 317h1v1h-1zM1073 317h1v1h-1zM1074 317h1v1h-1zM1075 316h1v1h-1zM1076 316h1v1h-1zM1077 316h1v1h-1zM1078 316h1v1h-1zM1079 316h1v1h-1zM1080 316h1v1h-1zM1081 315h1v1h-1zM1082 315h1v1h-1zM1083 315h1v1h-1zM1084 315h1v1h-1zM1085 315h1v1h-1zM1086 314h1v1h-1zM1087 314h1v1h-1zM1088 314h1v1h-1zM1089 314h1v1h-1zM1090 314h1v1h-1zM1091 314h1v1h-1zM1092 313h1v1h-1zM1093 313h1v1h-1zM1094 313h1v1h-1zM1095 313h1v1h-1zM1096 313h1v1h-1zM1097 312h1v1h-1zM1098 312h1v1h-1zM1099 312h1v1h-1zM1100 312h1v1h-1zM1101 312h1v1h-1zM1102 312h1v1h-1zM1103 311h1v1h-1zM1104 311h1v1h-1zM1105 311h1v1h-1zM1106 311h1v1h-1zM1107 311h1v1h-1zM1108 311h1v1h-1zM1109 311h1v1h-1zM1110 311h1v1h-1zM1111 310h1v1h-1zM1112 310h1v1h-1zM1113 310h1v1h-1zM1114 310h1v1h-1zM1115 310h1v1h-1zM1116 310h1v1h-1zM1117 310h1v1h-1zM1118 310h1v1h-1zM1119 310h1v1h-1zM1120 310h1v1h-1zM1121 310h1v1h-1zM1122 310h1v1h-1zM1123 309h1v1h-1zM1124 309h1v1h-1zM1125 309h1v1h-1zM1126 309h1v1h-1zM1127 309h1v1h-1zM1128 309h1v1h-1zM1129 309h1v1h-1zM1130 309h1v1h-1zM1131 309h1v1h-1zM1132 309h1v1h-1zM1133 309h1v1h-1zM1134 309h1v1h-1zM1135 308h1v1h-1zM1136 308h1v1h-1zM1137 308h1v1h-1zM1138 308h1v1h-1zM1139 308h1v1h-1zM1140 308h1v1h-1zM1141 308h1v1h-1zM1142 308h1v1h-1zM1143 308h1v1h-1zM1144 308h1v1h-1zM1145 308h1v1h-1zM1146 307h1v1h-1zM1147 307h1v1h-1zM1148 307h1v1h-1zM1149 307h1v1h-1zM1150 307h1v1h-1zM1151 307h1v1h-1zM1152 306h1v1h-1zM1153 306h1v1h-1zM1154 306h1v1h-1zM1155 306h1v1h-1zM1156 306h1v1h-1zM1157 305h1v1h-1zM1158 305h1v1h-1zM1159 305h1v1h-1zM1160 305h1v1h-1zM1161 304h1v1h-1zM1162 304h1v1h-1zM1163 304h1v1h-1zM1164 304h1v1h-1zM1165 304h1v1h-1zM1166 303h1v1h-1zM1167 303h1v1h-1zM1168 303h1v1h-1zM1169 303h1v1h-1zM1170 303h1v1h-1zM1171 302h1v1h-1zM1172 302h1v1h-1zM1173 302h1v1h-1zM1174 302h1v1h-1zM1175 302h1v1h-1zM1176 301h1v1h-1zM1177 301h1v1h-1zM1178 301h1v1h-1zM1179 301h1v1h-1zM1180 300h1v1h-1zM1181 300h1v1h-1zM1182 300h1v1h-1zM1183 300h1v1h-1zM1184 299h1v1h-1zM1185 299h1v1h-1zM1186 299h1v1h-1zM1187 299h1v1h-1zM1188 299h1v1h-1zM1189 298h1v1h-1zM1190 298h1v1h-1zM1191 298h1v1h-1zM1192 298h1v1h-1zM1193 297h1v1h-1zM1194 297h1v1h-1zM1195 297h1v1h-1zM1196 297h1v1h-1zM1197 296h1v1h-1zM1198 296h1v1h-1zM1199 296h1v1h-1zM1200 296h1v1h-1zM1201 295h1v1h-1zM1202 295h1v1h-1zM1203 295h1v1h-1zM1204 294h1v1h-1zM1205 294h1v1h-1zM1206 294h1v1h-1zM1207 293h1v1h-1zM1208 293h1v1h-1zM1209 293h1v1h-1zM1210 292h1v1h-1zM1211 292h1v1h-1zM1212 292h1v1h-1zM1213 291h1v1h-1zM1214 291h1v1h-1zM1215 291h1v1h-1zM1216 290h1v1h-1zM1217 290h1v1h-1zM1218 290h1v1h-1zM1219 289h1v1h-1zM1220 289h1v1h-1zM1221 289h1v1h-1zM1222 288h1v1h-1zM1223 288h1v1h-1zM1224 288h1v1h-1zM1225 288h1v1h-1zM1226 287h1v1h-1zM1227 287h1v1h-1zM1228 287h1v1h-1zM1229 286h1v1h-1zM1230 286h1v1h-1zM1231 286h1v1h-1zM1232 285h1v1h-1zM1233 285h1v1h-1zM1234 285h1v1h-1zM1235 284h1v1h-1zM1236 284h1v1h-1zM1237 284h1v1h-1zM1238 283h1v1h-1zM1239 283h1v1h-1zM1240 283h1v1h-1zM1241 282h1v1h-1zM1242 282h1v1h-1zM1243 282h1v1h-1zM1244 282h1v1h-1zM1245 281h1v1h-1zM1246 281h1v1h-1zM1247 281h1v1h-1zM1248 280h1v1h-1zM1249 280h1v1h-1zM1250 280h1v1h-1zM1251 279h1v1h-1zM1252 279h1v1h-1zM1253 279h1v1h-1zM1254 278h1v1h-1zM1255 278h1v1h-1zM1256 277h1v1h-1zM1257 277h1v1h-1zM1258 276h1v1h-1zM1259 276h1v1h-1zM1260 276h1v1h-1zM1261 275h1v1h-1zM1262 275h1v1h-1zM1263 274h1v1h-1zM1264 274h1v1h-1zM1265 273h1v1h-1zM1266 273h1v1h-1zM1267 273h1v1h-1zM1268 272h1v1h-1zM1269 272h1v1h-1zM1270 271h1v1h-1zM1271 271h1v1h-1zM1272 270h1v1h-1zM1273 270h1v1h-1zM1274 269h1v1h-1zM1275 269h1v1h-1zM1276 268h1v1h-1zM1277 268h1v1h-1zM1278 267h1v1h-1zM1279 267h1v1h-1zM1280 266h1v1h-1z" fill="#dc143c" />
<path d="M5 439h1v1h-1zM6 439h1v1h-1zM7 438h1v1h-1zM8 438h1v1h-1zM9 437h1v1h-1zM10 437h1v1h-1zM11 436h1v1h-1zM12 436h1v1h-1zM13 435h1v1h-1zM14 434h1v1h-1zM15 434h1v1h-1zM16 433h1v1h-1zM17 433h1v1h-1zM18 432h1v1h-1zM19 432h1v1h-1zM20 431h1v1h-1zM21 431h1v1h-1zM22 430h1v1h-1zM23 429h1v1h-1zM24 429h1v1h-1zM25 428h1v1h-1zM26 428h1v1h-1zM27 427h1v1h-1zM28 427h1v1h-1zM29 426h1v1h-1zM30 426h1v1h-1zM31 425h1v1h-1zM32 424h1v1h-1zM33 424h1v1h-1zM34 423h1v1h-1zM35 422h1v1h-1zM36 422h1v1h-1zM37 421h1v1h-1zM38 420h1v1h-1zM39 420h1v1h-1zM40 419h1v1h-1zM41 419h1v1h-1zM42 418h1v1h-1zM43 417h1v1h-1zM44 417h1v1h-1zM45 416h1v1h-1zM46 415h1v1h-1zM47 415h1v1h-1zM48 414h1v1h-1zM49 414h1v1h-1zM50 413h1v1h-1zM51 412h1v1h-1zM52 412h1v1h-1zM53 411h1v1h-1zM54 411h1v1h-1zM55 410h1v1h-1zM56 409h1v1h-1zM57 409h1v1h-1zM58 408h1v1h-1zM59 408h1v1h-1zM60 407h1v1h-1zM61 407h1v1h-1zM62 406h1v1h-1zM63 405h1v1h-1zM64 405h1v1h-1zM65 404h1v1h-1zM66 404h1v1h-1zM67 403h1v1h-1zM68 403h1v1h-1zM69 402h1v1h-1zM70 402h1v1h-1zM71 401h1v1h-1zM72 400h1v1h-1zM73 400h1v1h-1zM74 399h1v1h-1zM75 399h1v1h-1zM76 398h1v1h-1zM77 398h1v1h-1zM78 397h1v1h-1zM79 397h1v1h-1zM80 396h1v1h-1zM81 396h1v1h-1zM82 395h1v1h-1zM83 395h1v1h-1zM84 394h1v1h-1zM85 393h1v1h-1zM86 393h1v1h-1zM87 392h1v1h-1zM88 391h1v1h-1zM89 390h1v1h-1zM90 390h1v1h-1zM91 389h1v1h-1zM92 388h1v1h-1zM93 387h1v1h-1zM94 386h1v1h-1zM95 386h1v1h-1zM96 385h1v1h-1zM97 384h1v1h-1zM98 383h1v1h-1zM99 382h1v1h-1zM100 381h1v1h-1zM101 380h1v1h-1zM102 379h1v1h-1zM103 378h1v1h-1zM104 377h1v1h-1zM105 376h1v1h-1zM106 376h1v1h-1zM107 375h1v1h-1zM108 374h1v1h-1zM109 373h1v1h-1zM110 372h1v1h-1zM111 371h1v1h-1zM112 370h1v1h-1zM113 369h1v1h-1zM114 368h1v1h-1zM115 368h1v1h-1zM116 367h1v1h-1zM117 366h1v1h-1zM118 365h1v1h-1zM119 365h1v1h-1zM120 364h1v1h-1zM121 363h1v1h-1zM122 363h1v1h-1zM123 362h1v1h-1zM124 361h1v1h-1zM125 360h1v1h-1zM126 359h1v1h-1zM127 358h1v1h-1zM128 357h1v1h-1zM129 356h1v1h-1zM130 355h1v1h-1zM131 354h1v1h-1zM132 353h1v1h-1zM133 352h1v1h-1zM134 351h1v1h-1zM135 350h1v1h-1zM136 349h1v1h-1zM137 349h1v1h-1zM138 348h1v1h-1zM139 347h1v1h-1zM140 346h1v1h-1zM141 345h1v1h-1zM142 344h1v1h-1zM143 343h1v1h-1zM144 342h1v1h-1zM145 341h1v1h-1zM146 340h1v1h-1zM147 339h1v1h-1zM148 338h1v1h-1zM149 337h1v1h-1zM150 336h1v1h-1zM151 335h1v1h-1zM152 334h1v1h-1zM153 333h1v1h-1zM154 332h1v1h-1zM155 332h1v1h-1zM156 331h1v1h-1zM157 330h1v1h-1zM158 329h1v1h-1zM159 328h1v1h-1zM160 327h1v1h-1zM161 327h1v1h-1zM162 326h1v1h-1zM163 325h1v1h-1zM164 324h1v1h-1zM165 324h1v1h-1zM166 323h1v1h-1zM167 323h1v1h-1zM168 322h1v1h-1zM169 322h1v1h-1zM170 322h1v1h-1zM171 321h1v1h-1zM172 321h1v1h-1zM173 321h1v1h-1zM174 320h1v1h-1zM175 320h1v1h-1zM176 320h1v1h-1zM177 320h1v1h-1zM178 319h1v1h-1zM179 319h1v1h-1zM180 319h1v1h-1zM181 318h1v1h-1zM182 318h1v1h-1zM183 318h1v1h-1zM184 318h1v1h-1zM185 317h1v1h-1zM186 317h1v1h-1zM187 317h1v1h-1zM188 316h1v1h-1zM189 316h1v1h-1zM190 316h1v1h-1zM191 316h1v1h-1zM192 315h1v1h-1zM193 315h1v1h-1zM194 315h1v1h-1zM195 315h1v1h-1zM196 314h1v1h-1zM197 314h1v1h-1zM198 314h1v1h-1zM199 313h1v1h-1zM200 313h1v1h-1zM201 313h1v1h-1zM202 313h1v1h-1zM203 312h1v1h-1zM204 312h1v1h-1zM205 312h1v1h-1zM206 311h1v1h-1zM207 311h1v1h-1zM208 311h1v1h-1zM209 311h1v1h-1zM210 310h1v1h-1zM211 310h1v1h-1zM212 310h1v1h-1zM213 310h1v1h-1zM214 309h1v1h-1zM215 309h1v1h-1zM216 309h1v1h-1zM217 309h1v1h-1zM218 308h1v1h-1zM219 308h1v1h-1zM220 308h1v1h-1zM221 308h1v1h-1zM222 308h1v1h-1zM223 308h1v1h-1zM224 308h1v1h-1zM225 308h1v1h-1zM226 308h1v1h-1zM227 307h1v1h-1zM228 307h1v1h-1zM229 307h1v1h-1zM230 307h1v1h-1zM231 307h1v1h-1zM232 307h1v1h-1zM233 307h1v1h-1zM234 307h1v1h-1zM235 307h1v1h-1zM236 307h1v1h-1zM237 307h1v1h-1zM238 307h1v1h-1zM239 307h1v1h-1zM240 307h1v1h-1zM241 307h1v1h-1zM242 307h1v1h-1zM243 307h1v1h-1zM244 307h1v1h-1zM245 307h1v1h-1zM246 307h1v1h-1zM247 307h1v1h-1zM248 307h1v1h-1zM249 307h1v1h-1zM250 307h1v1h-1zM251 307h1v1h-1zM252 307h1v1h-1zM253 307h1v1h-1zM254 307h1v1h-1zM255 307h1v1h-1zM256 307h1v1h-1zM257 307h1v1h-1zM258 307h1v1h-1zM259 307h1v1h-1zM260 307h1v1h-1zM261 307h1v1h-1zM262 307h1v1h-1zM263 307h1v1h-1zM264 307h1v1h-1zM265 307h1v1h-1zM266 307h1v1h-1zM267 307h1v1h-1zM268 307h1v1h-1zM269 307h1v1h-1zM270 308h1v1h-1zM271 308h1v1h-1zM272 308h1v1h-1zM273 308h1v1h-1zM274 308h1v1h-1zM275 308h1v1h-1zM276 308h1v1h-1zM277 308h1v1h-1zM278 309h1v1h-1zM279 309h1v1h-1zM280 309h1v1h-1zM281 309h1v1h-1zM282 309h1v1h-1zM283 310h1v1h-1zM284 310h1v1h-1zM285 310h1v1h-1zM286 310h1v1h-1zM287 310h1v1h-1zM288 311h1v1h-1zM289 311h1v1h-1zM290 311h1v1h-1zM291 311h1v1h-1zM292 311h1v1h-1zM293 312h1v1h-1zM294 312h1v1h-1zM295 312h1v1h-1zM296 312h1v1h-1zM297 312h1v1h-1zM298 312h1v1h-1zM299 312h1v1h-1zM300 312h1v1h-1zM301 312h1v1h-1zM302 312h1v1h-1zM303 312h1v1h-1zM304 312h1v1h-1zM305 312h1v1h-1zM306 312h1v1h-1zM307 312h1v1h-1zM308 312h1v1h-1zM309 312h1v1h-1zM310 312h1v1h-1zM311 312h1v1h-1zM312 312h1v1h-1zM313 312h1v1h-1zM314 312h1v1h-1zM315 312h1v1h-1zM316 312h1v1h-1zM317 311h1v1h-1zM318 311h1v1h-1zM319 311h1v1h-1zM320 311h1v1h-1zM321 311h1v1h-1zM322 310h1v1h-1zM323 310h1v1h-1zM324 310h1v1h-1zM325 310h1v1h-1zM326 310h1v1h-1zM327 309h1v1h-1zM328 309h1v1h-1zM329 309h1v1h-1zM330 308h1v1h-1zM331 308h1v1h-1zM332 308h1v1h-1zM333 308h1v1h-1zM334 308h1v1h-1zM335 307h1v1h-1zM336 307h1v1h-1zM337 307h1v1h-1zM338 307h1v1h-1zM339 306h1v1h-1zM340 306h1v1h-1zM341 306h1v1h-1zM342 306h1v1h-1zM343 306h1v1h-1zM344 306h1v1h-1zM345 305h1v1h-1zM346 305h1v1h-1zM347 305h1v1h-1zM348 305h1v1h-1zM349 305h1v1h-1zM350 304h1v1h-1zM351 304h1v1h-1zM352 304h1v1h-1zM353 305h1v1h-1zM354 305h1v1h-1zM355 305h1v1h-1zM356 305h1v1h-1zM357 305h1v1h-1zM358 305h1v1h-1zM359 305h1v1h-1zM360 305h1v1h-1zM361 305h1v1h-1zM362 305h1v1h-1zM363 305h1v1h-1zM364 305h1v1h-1zM365 305h1v1h-1zM366 305h1v1h-1zM367 305h1v1h-1zM368 305h1v1h-1zM369 305h1v1h-1zM370 305h1v1h-1zM371 305h1v1h-1zM372 305h1v1h-1zM373 305h1v1h-1zM374 305h1v1h-1zM375 305h1v1h-1zM376 305h1v1h-1zM377 305h1v1h-1zM378 305h1v1h-1zM379 305h1v1h-1zM380 305h1v1h-1zM381 306h1v1h-1zM382 306h1v1h-1zM383 306h1v1h-1zM384 306h1v1h-1zM385 306h1v1h-1zM386 306h1v1h-1zM387 306h1v1h-1zM388 306h1v1h-1zM389 306h1v1h-1zM390 306h1v1h-1zM391 306h1v1h-1zM392 306h1v1h-1zM393 306h1v1h-1zM394 306h1v1h-1zM395 306h1v1h-1zM396 306h1v1h-1zM397 306h1v1h-1zM398 306h1v1h-1zM399 306h1v1h-1zM400 306h1v1h-1zM401 306h1v1h-1zM402 306h1v1h-1zM403 306h1v1h-1zM404 306h1v1h-1zM405 307h1v1h-1zM406 307h1v1h-1zM407 307h1v1h-1zM408 307h1v1h-1zM409 307h1v1h-1zM410 307h1v1h-1zM411 307h1v1h-1zM412 308h1v1h-1zM413 308h1v1h-1zM414 308h1v1h-1zM415 308h1v1h-1zM416 308h1v1h-1zM417 308h1v1h-1zM418 309h1v1h-1zM419 309h1v1h-1zM420 309h1v1h-1zM421 309h1v1h-1zM422 310h1v1h-1zM423 310h1v1h-1zM424 310h1v1h-1zM425 310h1v1h-1zM426 311h1v1h-1zM427 311h1v1h-1zM428 311h1v1h-1zM429 312h1v1h-1zM430 312h1v1h-1zM431 312h1v1h-1zM432 312h1v1h-1zM433 313h1v1h-1zM434 313h1v1h-1zM435 313h1v1h-1zM436 314h1v1h-1zM437 314h1v1h-1zM438 314h1v1h-1zM439 315h1v1h-1zM440 315h1v1h-1zM441 315h1v1h-1zM442 316h1v1h-1zM443 316h1v1h-1zM444 317h1v1h-1zM445 317h1v1h-1zM446 317h1v1h-1zM447 318h1v1h-1zM448 318h1v1h-1zM449 319h1v1h-1zM450 319h1v1h-1zM451 319h1v1h-1zM452 320h1v1h-1zM453 320h1v1h-1zM454 321h1v1h-1zM455 321h1v1h-1zM456 321h1v1h-1zM457 322h1v1h-1zM458 322h1v1h-1zM459 323h1v1h-1zM460 323h1v1h-1zM461 323h1v1h-1zM462 324h1v1h-1zM463 324h1v1h-1zM464 325h1v1h-1zM465 325h1v1h-1zM466 326h1v1h-1zM467 326h1v1h-1zM468 326h1v1h-1zM469 327h1v1h-1zM470 327h1v1h-1zM471 328h1v1h-1zM472 328h1v1h-1zM473 329h1v1h-1zM474 329h1v1h-1zM475 330h1v1h-1zM476 330h1v1h-1zM477 330h1v1h-1zM478 331h1v1h-1zM479 331h1v1h-1zM480 332h1v1h-1zM481 332h1v1h-1zM482 333h1v1h-1zM483 333h1v1h-1zM484 334h1v1h-1zM485 334h1v1h-1zM486 335h1v1h-1zM487 335h1v1h-1zM488 336h1v1h-1zM489 336h1v1h-1zM490 336h1v1h-1zM491 337h1v1h-1zM492 337h1v1h-1zM493 338h1v1h-1zM494 338h1v1h-1zM495 338h1v1h-1zM496 339h1v1h-1zM497 339h1v1h-1zM498 340h1v1h-1zM499 340h1v1h-1zM500 340h1v1h-1zM501 341h1v1h-1zM502 341h1v1h-1zM503 341h1v1h-1zM504 342h1v1h-1zM505 342h1v1h-1zM506 343h1v1h-1zM507 343h1v1h-1zM508 343h1v1h-1zM509 344h1v1h-1zM510 344h1v1h-1zM511 345h1v1h-1zM512 345h1v1h-1zM513 345h1v1h-1zM514 346h1v1h-1zM515 346h1v1h-1zM516 347h1v1h-1zM517 347h1v1h-1zM518 348h1v1h-1zM519 348h1v1h-1zM520 349h1v1h-1zM521 349h1v1h-1zM522 349h1v1h-1zM523 350h1v1h-1zM524 350h1v1h-1zM525 351h1v1h-1zM526 351h1v1h-1zM527 352h1v1h-1zM528 352h1v1h-1zM529 353h1v1h-1zM530 353h1v1h-1zM531 354h1v1h-1zM532 354h1v1h-1zM533 354h1v1h-1zM534 355h1v1h-1zM535 356h1v1h-1zM536 356h1v1h-1zM537 356h1v1h-1zM538 357h1v1h-1zM539 358h1v1h-1zM540 358h1v1h-1zM541 358h1v1h-1zM542 359h1v1h-1zM543 360h1v1h-1zM544 360h1v1h-1zM545 360h1v1h-1zM546 361h1v1h-1zM547 362h1v1h-1zM548 362h1v1h-1zM549 362h1v1h-1zM550 363h1v1h-1zM551 364h1v1h-1zM552 364h1v1h-1zM553 364h1v1h-1zM554 365h1v1h-1zM555 366h1v1h-1zM556 366h1v1h-1zM557 366h1v1h-1zM558 367h1v1h-1zM559 368h1v1h-1zM560 368h1v1h-1zM561 368h1v1h-1zM562 369h1v1h-1zM563 369h1v1h-1zM564 370h1v1h-1zM565 370h1v1h-1zM566 371h1v1h-1zM567 371h1v1h-1zM568 372h1v1h-1zM569 372h1v1h-1zM570 372h1v1h-1zM571 373h1v1h-1zM572 373h1v1h-1zM573 373h1v1h-1zM574 374h1v1h-1zM575 374h1v1h-1zM576 374h1v1h-1zM577 374h1v1h-1zM578 375h1v1h-1zM579 375h1v1h-1zM580 375h1v1h-1zM581 375h1v1h-1zM582 376h1v1h-1zM583 376h1v1h-1zM584 376h1v1h-1zM585 376h1v1h-1zM586 376h1v1h-1zM587 376h1v1h-1zM588 377h1v1h-1zM589 377h1v1h-1zM590 377h1v1h-1zM591 377h1v1h-1zM592 378h1v1h-1zM593 378h1v1h-1zM594 378h1v1h-1zM595 378h1v1h-1zM596 378h1v1h-1zM597 378h1v1h-1zM598 378h1v1h-1zM599 379h1v1h-1zM600 379h1v1h-1zM601 379h1v1h-1zM602 379h1v1h-1zM603 379h1v1h-1zM604 379h1v1h-1zM605 380h1v1h-1zM606 380h1v1h-1zM607 380h1v1h-1zM608 380h1v1h-1zM609 380h1v1h-1zM610 380h1v1h-1zM611 381h1v1h-1zM612 381h1v1h-1zM613 381h1v1h-1zM614 381h1v1h-1zM615 381h1v1h-1zM616 381h1v1h-1zM617 382h1v1h-1zM618 382h1v1h-1zM619 382h1v1h-1zM620 382h1v1h-1zM621 382h1v1h-1zM622 382h1v1h-1zM623 383h1v1h-1zM624 383h1v1h-1zM625 383h1v1h-1zM626 383h1v1h-1zM627 383h1v1h-1zM628 383h1v1h-1zM629 383h1v1h-1zM630 383h1v1h-1zM631 383h1v1h-1zM632 383h1v1h-1zM633 383h1v1h-1zM634 383h1v1h-1zM635 383h1v1h-1zM636 383h1v1h-1zM637 383h1v1h-1zM638 383h1v1h-1zM639 383h1v1h-1zM640 383h1v1h-1zM641 383h1v1h-1zM642 383h1v1h-1zM643 383h1v1h-1zM644 383h1v1h-1zM645 383h1v1h-1zM646 383h1v1h-1zM647 383h1v1h-1zM648 383h1v1h-1zM649 383h1v1h-1zM650 383h1v1h-1zM651 383h1v1h-1zM652 383h1v1h-1zM653 383h1v1h-1zM654 383h1v1h-1zM655 383h1v1h-1zM656 382h1v1h-1zM657 382h1v1h-1zM658 382h1v1h-1zM659 382h1v1h-1zM660 382h1v1h-1zM661 382h1v1h-1zM662 382h1v1h-1zM663 381h1v1h-1zM664 381h1v1h-1zM665 381h1v1h-1zM666 381h1v1h-1zM667 380h1v1h-1zM668 380h1v1h-1zM669 380h1v1h-1zM670 380h1v1h-1zM671 379h1v1h-1zM672 379h1v1h-1zM673 378h1v1h-1zM674 378h1v1h-1zM675 378h1v1h-1zM676 377h1v1h-1zM677 377h1v1h-1zM678 376h1v1h-1zM679 376h1v1h-1zM680 376h1v1h-1zM681 375h1v1h-1zM682 375h1v1h-1zM683 374h1v1h-1zM684 374h1v1h-1zM685 374h1v1h-1zM686 373h1v1h-1zM687 373h1v1h-1zM688 372h1v1h-1zM689 372h1v1h-1zM690 372h1v1h-1zM691 371h1v1h-1zM692 371h1v1h-1zM693 370h1v1h-1zM694 370h1v1h-1zM695 370h1v1h-1zM696 369h1v1h-1zM697 369h1v1h-1zM698 368h1v1h-1zM699 368h1v1h-1zM700 368h1v1h-1zM701 367h1v1h-1zM702 367h1v1h-1zM703 366h1v1h-1zM704 366h1v1h-1zM705 365h1v1h-1zM706 364h1v1h-1zM707 364h1v1h-1zM708 363h1v1h-1zM709 363h1v1h-1zM710 362h1v1h-1zM711 362h1v1h-1zM712 361h1v1h-1zM713 361h1v1h-1zM714 360h1v1h-1zM715 360h1v1h-1zM716 359h1v1h-1zM717 358h1v1h-1zM718 358h1v1h-1zM719 358h1v1h-1zM720 357h1v1h-1zM721 356h1v1h-1zM722 356h1v1h-1zM723 356h1v1h-1zM724 355h1v1h-1zM725 354h1v1h-1zM726 354h1v1h-1zM727 354h1v1h-1zM728 353h1v1h-1zM729 352h1v1h-1zM730 352h1v1h-1zM731 352h1v1h-1zM732 351h1v1h-1zM733 351h1v1h-1zM734 350h1v1h-1zM735 350h1v1h-1zM736 349h1v1h-1zM737 349h1v1h-1zM738 348h1v1h-1zM739 348h1v1h-1zM740 347h1v1h-1zM741 347h1v1h-1zM742 347h1v1h-1zM743 347h1v1h-1zM744 347h1v1h-1zM745 347h1v1h-1zM746 347h1v1h-1zM747 347h1v1h-1zM748 346h1v1h-1zM749 346h1v1h-1zM750 346h1v1h-1zM751 346h1v1h-1zM752 346h1v1h-1zM753 346h1v1h-1zM754 346h1v1h-1zM755 346h1v1h-1zM756 345h1v1h-1zM757 345h1v1h-1zM758 345h1v1h-1zM759 345h1v1h-1zM760 345h1v1h-1zM761 345h1v1h-1zM762 344h1v1h-1zM763 344h1v1h-1zM764 344h1v1h-1zM765 344h1v1h-1zM766 344h1v1h-1zM767 343h1v1h-1zM768 343h1v1h-1zM769 343h1v1h-1zM770 343h1v1h-1zM771 343h1v1h-1zM772 343h1v1h-1zM773 342h1v1h-1zM774 342h1v1h-1zM775 342h1v1h-1zM776 342h1v1h-1zM777 342h1v1h-1zM778 341h1v1h-1zM779 341h1v1h-1zM780 341h1v1h-1zM781 341h1v1h-1zM782 341h1v1h-1zM783 340h1v1h-1zM784 340h1v1h-1zM785 340h1v1h-1zM786 340h1v1h-1zM787 340h1v1h-1zM788 339h1v1h-1zM789 339h1v1h-1zM790 339h1v1h-1zM791 339h1v1h-1zM792 339h1v1h-1zM793 339h1v1h-1zM794 339h1v1h-1zM795 339h1v1h-1zM796 339h1v1h-1zM797 339h1v1h-1zM798 339h1v1h-1zM799 338h1v1h-1zM800 338h1v1h-1zM801 338h1v1h-1zM802 338h1v1h-1zM803 338h1v1h-1zM804 338h1v1h-1zM805 338h1v1h-1zM806 338h1v1h-1zM807 338h1v1h-1zM808 338h1v1h-1zM809 338h1v1h-1zM810 338h1v1h-1zM811 338h1v1h-1zM812 338h1v1h-1zM813 338h1v1h-1zM814 338h1v1h-1zM815 338h1v1h-1zM816 338h1v1h-1zM817 338h1v1h-1zM818 338h1v1h-1zM819 338h1v1h-1zM820 338h1v1h-1zM821 338h1v1h-1zM822 338h1v1h-1zM823 338h1v1h-1zM824 338h1v1h-1zM825 338h1v1h-1zM826 338h1v1h-1zM827 337h1v1h-1zM828 337h1v1h-1zM829 337h1v1h-1zM830 337h1v1h-1zM831 337h1v1h-1zM832 337h1v1h-1zM833 337h1v1h-1zM834 336h1v1h-1zM835 336h1v1h-1zM836 336h1v1h-1zM837 336h1v1h-1zM838 336h1v1h-1zM839 335h1v1h-1zM840 335h1v1h-1zM841 335h1v1h-1zM842 334h1v1h-1zM843 334h1v1h-1zM844 334h1v1h-1zM845 334h1v1h-1zM846 333h1v1h-1zM847 333h1v1h-1zM848 333h1v1h-1zM849 333h1v1h-1zM850 332h1v1h-1zM851 332h1v1h-1zM852 332h1v1h-1zM853 331h1v1h-1zM854 331h1v1h-1zM855 331h1v1h-1zM856 331h1v1h-1zM857 330h1v1h-1zM858 330h1v1h-1zM859 330h1v1h-1zM860 330h1v1h-1zM861 329h1v1h-1zM862 329h1v1h-1zM863 329h1v1h-1zM864 328h1v1h-1zM865 328h1v1h-1zM866 328h1v1h-1zM867 328h1v1h-1zM868 327h1v1h-1zM869 327h1v1h-1zM870 327h1v1h-1zM871 327h1v1h-1zM872 326h1v1h-1zM873 326h1v1h-1zM874 326h1v1h-1zM875 326h1v1h-1zM876 325h1v1h-1zM877 325h1v1h-1zM878 325h1v1h-1zM879 325h1v1h-1zM880 324h1v1h-1zM881 324h1v1h-1zM882 324h1v1h-1zM883 323h1v1h-1zM884 323h1v1h-1zM885 323h1v1h-1zM886 323h1v1h-1zM887 322h1v1h-1zM888 322h1v1h-1zM889 322h1v1h-1zM890 322h1v1h-1zM891 321h1v1h-1zM892 321h1v1h-1zM893 321h1v1h-1zM894 321h1v1h-1zM895 320h1v1h-1zM896 320h1v1h-1zM897 320h1v1h-1zM898 320h1v1h-1zM899 319h1v1h-1zM900 319h1v1h-1zM901 319h1v1h-1zM902 318h1v1h-1zM903 318h1v1h-1zM904 318h1v1h-1zM905 317h1v1h-1zM906 317h1v1h-1zM907 317h1v1h-1zM908 316h1v1h-1zM909 316h1v1h-1zM910 316h1v1h-1zM911 316h1v1h-1zM912 315h1v1h-1zM913 315h1v1h-1zM914 315h1v1h-1zM915 314h1v1h-1zM916 314h1v1h-1zM917 314h1v1h-1zM918 313h1v1h-1zM919 313h1v1h-1zM920 313h1v1h-1zM921 312h1v1h-1zM922 312h1v1h-1zM923 312h1v1h-1zM924 311h1v1h-1zM925 311h1v1h-1zM926 311h1v1h-1zM927 310h1v1h-1zM928 310h1v1h-1zM929 310h1v1h-1zM930 309h1v1h-1zM931 308h1v1h-1zM932 308h1v1h-1zM933 308h1v1h-1zM934 307h1v1h-1zM935 306h1v1h-1zM936 306h1v1h-1zM937 306h1v1h-1zM938 305h1v1h-1zM939 304h1v1h-1zM940 304h1v1h-1zM941 303h1v1h-1zM942 303h1v1h-1zM943 302h1v1h-1zM944 302h1v1h-1zM945 301h1v1h-1zM946 300h1v1h-1zM947 300h1v1h-1zM948 299h1v1h-1zM949 299h1v1h-1zM950 298h1v1h-1zM951 298h1v1h-1zM952 297h1v1h-1zM953 296h1v1h-1zM954 296h1v1h-1zM955 295h1v1h-1zM956 294h1v1h-1zM957 294h1v1h-1zM958 293h1v1h-1zM959 292h1v1h-1zM960 292h1v1h-1zM961 291h1v1h-1zM962 290h1v1h-1zM963 290h1v1h-1zM964 289h1v1h-1zM965 288h1v1h-1zM966 288h1v1h-1zM967 287h1v1h-1zM968 286h1v1h-1zM969 285h1v1h-1zM970 284h1v1h-1zM971 284h1v1h-1zM972 283h1v1h-1zM973 282h1v1h-1zM974 282h1v1h-1zM975 281h1v1h-1zM976 280h1v1h-1zM977 279h1v1h-1zM978 279h1v1h-1zM979 278h1v1h-1zM980 277h1v1h-1zM981 276h1v1h-1zM982 276h1v1h-1zM983 275h1v1h-1zM984 274h1v1h-1zM985 274h1v1h-1zM986 273h1v1h-1zM987 272h1v1h-1zM988 272h1v1h-1zM989 271h1v1h-1zM990 271h1v1h-1zM991 270h1v1h-1zM992 270h1v1h-1zM993 269h1v1h-1zM994 268h1v1h-1zM995 268h1v1h-1zM996 267h1v1h-1zM997 267h1v1h-1zM998 266h1v1h-1zM999 266h1v1h-1zM1000 265h1v1h-1zM1001 265h1v1h-1zM1002 264h1v1h-1zM1003 264h1v1h-1zM1004 263h1v1h-1zM1005 263h1v1h-1zM1006 262h1v1h-1zM1007 262h1v1h-1zM1008 262h1v1h-1zM1009 261h1v1h-1zM1010 261h1v1h-1zM1011 260h1v1h-1zM1012 260h1v1h-1zM1013 259h1v1h-1zM1014 259h1v1h-1zM1015 258h1v1h-1zM1016 258h1v1h-1zM1017 257h1v1h-1zM1018 257h1v1h-1zM1019 256h1v1h-1zM1020 256h1v1h-1zM1021 255h1v1h-1zM1022 255h1v1h-1zM1023 254h1v1h-1zM1024 254h1v1h-1zM1025 254h1v1h-1zM1026 253h1v1h-1zM1027 252h1v1h-1zM1028 252h1v1h-1zM1029 252h1v1h-1zM1030 251h1v1h-1zM1031 250h1v1h-1zM1032 250h1v1h-1zM1033 250h1v1h-1zM1034 249h1v1h-1zM1035 248h1v1h-1zM1036 248h1v1h-1zM1037 248h1v1h-1zM1038 247h1v1h-1zM1039 247h1v1h-1zM1040 246h1v1h-1zM1041 246h1v1h-1zM1042 245h1v1h-1zM1043 245h1v1h-1zM1044 244h1v1h-1zM1045 244h1v1h-1zM1046 243h1v1h-1zM1047 243h1v1h-1zM1048 242h1v1h-1zM1049 242h1v1h-1zM1050 242h1v1h-1zM1051 242h1v1h-1zM1052 242h1v1h-1zM1053 242h1v1h-1zM1054 242h1v1h-1zM1055 242h1v1h-1zM1056 241h1v1h-1zM1057 241h1v1h-1zM1058 241h1v1h-1zM1059 241h1v1h-1zM1060 241h1v1h-1zM1061 241h1v1h-1zM1062 241h1v1h-1zM1063 241h1v1h-1zM1064 241h1v1h-1zM1065 241h1v1h-1zM1066 240h1v1h-1zM1067 240h1v1h-1zM1068 240h1v1h-1zM1069 240h1v1h-1zM1070 240h1v1h-1zM1071 240h1v1h-1zM1072 240h1v1h-1zM1073 240h1v1h-1zM1074 240h1v1h-1zM1075 240h1v1h-1zM1076 239h1v1h-1zM1077 239h1v1h-1zM1078 239h1v1h-1zM1079 239h1v1h-1zM1080 239h1v1h-1zM1081 239h1v1h-1zM1082 238h1v1h-1zM1083 238h1v1h-1zM1084 238h1v1h-1zM1085 238h1v1h-1zM1086 238h1v1h-1zM1087 238h1v1h-1zM1088 237h1v1h-1zM1089 237h1v1h-1zM1090 237h1v1h-1zM1091 237h1v1h-1zM1092 236h1v1h-1zM1093 236h1v1h-1zM1094 236h1v1h-1zM1095 236h1v1h-1zM1096 235h1v1h-1zM1097 235h1v1h-1zM1098 235h1v1h-1zM1099 235h1v1h-1zM1100 234h1v1h-1zM1101 234h1v1h-1zM1102 234h1v1h-1zM1103 234h1v1h-1zM1104 234h1v1h-1zM1105 233h1v1h-1zM1106 233h1v1h-1zM1107 233h1v1h-1zM1108 232h1v1h-1zM1109 232h1v1h-1zM1110 232h1v1h-1zM1111 232h1v1h-1zM1112 232h1v1h-1zM1113 231h1v1h-1zM1114 231h1v1h-1zM1115 230h1v1h-1zM1116 230h1v1h-1zM1117 230h1v1h-1zM1118 230h1v1h-1zM1119 229h1v1h-1zM1120 229h1v1h-1zM1121 228h1v1h-1zM1122 228h1v1h-1zM1123 228h1v1h-1zM1124 228h1v1h-1zM1125 227h1v1h-1zM1126 227h1v1h-1zM1127 227h1v1h-1zM1128 226h1v1h-1zM1129 226h1v1h-1zM1130 226h1v1h-1zM1131 226h1v1h-1zM1132 226h1v1h-1zM1133 225h1v1h-1zM1134 225h1v1h-1zM1135 225h1v1h-1zM1136 224h1v1h-1zM1137 224h1v1h-1zM1138 224h1v1h-1zM1139 224h1v1h-1zM1140 223h1v1h-1zM1141 223h1v1h-1zM1142 223h1v1h-1zM1143 222h1v1h-1zM1144 222h1v1h-1zM1145 222h1v1h-1zM1146 221h1v1h-1zM1147 221h1v1h-1zM1148 221h1v1h-1zM1149 220h1v1h-1zM1150 220h1v1h-1zM1151 220h1v1h-1zM1152 220h1v1h-1zM1153 219h1v1h-1zM1154 219h1v1h-1zM1155 219h1v1h-1zM1156 218h1v1h-1zM1157 218h1v1h-1zM1158 218h1v1h-1zM1159 217h1v1h-1zM1160 217h1v1h-1zM1161 217h1v1h-1zM1162 217h1v1h-1zM1163 216h1v1h-1zM1164 216h1v1h-1zM1165 216h1v1h-1zM1166 216h1v1h-1zM1167 215h1v1h-1zM1168 215h1v1h-1zM1169 215h1v1h-1zM1170 214h1v1h-1zM1171 214h1v1h-1zM1172 214h1v1h-1zM1173 214h1v1h-1zM1174 214h1v1h-1zM1175 213h1v1h-1zM1176 213h1v1h-1zM1177 212h1v1h-1zM1178 212h1v1h-1zM1179 212h1v1h-1zM1180 211h1v1h-1zM1181 211h1v1h-1zM1182 211h1v1h-1zM1183 210h1v1h-1zM1184 210h1v1h-1zM1185 210h1v1h-1zM1186 209h1v1h-1zM1187 209h1v1h-1zM1188 209h1v1h-1zM1189 208h1v1h-1zM1190 208h1v1h-1zM1191 208h1v1h-1zM1192 207h1v1h-1zM1193 207h1v1h-1zM1194 207h1v1h-1zM1195 206h1v1h-1zM1196 206h1v1h-1zM1197 205h1v1h-1zM1198 205h1v1h-1zM1199 204h1v1h-1zM1200 203h1v1h-1zM1201 203h1v1h-1zM1202 202h1v1h-1zM1203 201h1v1h-1zM1204 201h1v1h-1zM1205 200h1v1h-1zM1206 199h1v1h-1zM1207 199h1v1h-1zM1208 198h1v1h-1zM1209 197h1v1h-1zM1210 196h1v1h-1zM1211 196h1v1h-1zM1212 195h1v1h-1zM1213 194h1v1h-1zM1214 194h1v1h-1zM1215 193h1v1h-1zM1216 192h1v1h-1zM1217 191h1v1h-1zM1218 190h1v1h-1zM1219 190h1v1h-1zM1220 189h1v1h-1zM1221 188h1v1h-1zM1222 188h1v1h-1zM1223 187h1v1h-1zM1224 187h1v1h-1zM1225 186h1v1h-1zM1226 186h1v1h-1zM1227 185h1v1h-1zM1228 185h1v1h-1zM1229 184h1v1h-1zM1230 184h1v1h-1zM1231 183h1v1h-1zM1232 182h1v1h-1zM1233 182h1v1h-1zM1234 181h1v1h-1zM1235 181h1v1h-1zM1236 180h1v1h-1zM1237 180h1v1h-1zM1238 179h1v1h-1zM1239 179h1v1h-1zM1240 178h1v1h-1zM1241 178h1v1h-1zM1242 177h1v1h-1zM1243 177h1v1h-1zM1244 176h1v1h-1zM1245 175h1v1h-1zM1246 174h1v1h-1zM1247 173h1v1h-1zM1248 173h1v1h-1zM1249 172h1v1h-1zM1250 171h1v1h-1zM1251 170h1v1h-1zM1252 169h1v1h-1zM1253 168h1v1h-1zM1254 168h1v1h-1zM1255 167h1v1h-1zM1256 166h1v1h-1zM1257 165h1v1h-1zM1258 164h1v1h-1zM1259 163h1v1h-1zM1260 162h1v1h-1zM1261 161h1v1h-1zM1262 160h1v1h-1zM1263 159h1v1h-1zM1264 158h1v1h-1zM1265 157h1v1h-1zM1266 156h1v1h-1zM1267 155h1v1h-1zM1268 154h1v1h-1zM1269 154h1v1h-1zM1270 153h1v1h-1zM1271 152h1v1h-1zM1272 151h1v1h-1zM1273 150h1v1h-1zM1274 149h1v1h-1zM1275 148h1v1h-1zM1276 147h1v1h-1zM1277 146h1v1h-1zM1278 145h1v1h-1zM1279 144h1v1h-1zM1280 144h1v1h-1z" fill="#ff00ff" />
<path d="M5 380h1v2h-1zM6 378h1v2h-1zM7 376h1v2h-1zM8 374h1v2h-1zM9 371h1v3h-1zM10 369h1v2h-1zM11 367h1v2h-1zM12 365h1v2h-1zM13 363h1v2h-1zM14 360h1v3h-1zM15 358h1v2h-1zM16 355h1v3h-1zM17 352h1v3h-1zM18 349h1v3h-1zM19 347h1v2h-1zM20 345h1v2h-1zM21 343h1v2h-1zM22 342h1v1h-1zM23 341h1v1h-1zM24 339h1v2h-1zM25 338h1v1h-1zM26 336h1v2h-1zM27 335h1v1h-1zM28 334h1v1h-1zM29 334h1v1h-1zM30 333h1v1h-1zM31 333h1v1h-1zM32 333h1v1h-1zM33 332h1v1h-1zM34 332h1v1h-1zM35 332h1v1h-1zM36 331h1v1h-1zM37 331h1v1h-1zM38 331h1v1h-1zM39 331h1v1h-1zM40 330h1v1h-1zM41 330h1v1h-1zM42 330h1v1h-1zM43 329h1v1h-1zM44 329h1v1h-1zM45 329h1v1h-1zM46 329h1v1h-1zM47 328h1v1h-1zM48 328h1v1h-1zM49 328h1v1h-1zM50 328h1v1h-1zM51 328h1v1h-1zM52 327h1v1h-1zM53 327h1v1h-1zM54 327h1v1h-1zM55 327h1v1h-1zM56 327h1v1h-1zM57 326h1v1h-1zM58 326h1v1h-1zM59 326h1v1h-1zM60 326h1v1h-1zM61 326h1v1h-1zM62 325h1v1h-1zM63 325h1v1h-1zM64 324h1v1h-1zM65 324h1v1h-1zM66 324h1v1h-1zM67 323h1v1h-1zM68 323h1v1h-1zM69 323h1v1h-1zM70 323h1v1h-1zM71 323h1v1h-1zM72 323h1v1h-1zM73 323h1v1h-1zM74 323h1v1h-1zM75 323h1v1h-1zM76 323h1v1h-1zM77 323h1v1h-1zM78 323h1v1h-1zM79 323h1v1h-1zM80 323h1v1h-1zM81 323h1v1h-1zM82 323h1v1h-1zM83 323h1v1h-1zM84 323h1v1h-1zM85 323h1v1h-1zM86 323h1v1h-1zM87 323h1v1h-1zM88 323h1v1h-1zM89 323h1v1h-1zM90 323h1v1h-1zM91 323h1v1h-1zM92 323h1v1h-1zM93 323h1v1h-1zM94 323h1v1h-1zM95 323h1v1h-1zM96 324h1v1h-1zM97 324h1v1h-1zM98 324h1v1h-1zM99 325h1v1h-1zM100 325h1v1h-1zM101 325h1v1h-1zM102 325h1v1h-1zM103 325h1v1h-1zM104 325h1v1h-1zM105 325h1v1h-1zM106 325h1v1h-1zM107 325h1v1h-1zM108 325h1v1h-1zM109 325h1v1h-1zM110 325h1v1h-1zM111 325h1v1h-1zM112 325h1v1h-1zM113 325h1v1h-1zM114 325h1v1h-1zM115 325h1v1h-1zM116 325h1v1h-1zM117 325h1v1h-1zM118 325h1v1h-1zM119 325h1v1h-1zM120 326h1v1h-1zM121 326h1v1h-1zM122 326h1v1h-1zM123 326h1v1h-1zM124 326h1v1h-1zM125 326h1v1h-1zM126 326h1v1h-1zM127 326h1v1h-1zM128 326h1v1h-1zM129 326h1v1h-1zM130 325h1v1h-1zM131 325h1v1h-1zM132 325h1v1h-1zM133 324h1v1h-1zM134 324h1v1h-1zM135 323h1v1h-1zM136 322h1v1h-1zM137 321h1v1h-1zM138 320h1v1h-1zM139 319h1v1h-1zM140 318h1v1h-1zM141 318h1v1h-1zM142 317h1v1h-1zM143 317h1v1h-1zM144 316h1v1h-1zM145 316h1v1h-1zM146 316h1v1h-1zM147 315h1v1h-1zM148 315h1v1h-1zM149 315h1v1h-1zM150 315h1v1h-1zM151 314h1v1h-1zM152 314h1v1h-1zM153 314h1v1h-1zM154 314h1v1h-1zM155 314h1v1h-1zM156 313h1v1h-1zM157 313h1v1h-1zM158 313h1v1h-1zM159 313h1v1h-1zM160 313h1v1h-1zM161 312h1v1h-1zM162 312h1v1h-1zM163 312h1v1h-1zM164 312h1v1h-1zM165 312h1v1h-1zM166 312h1v1h-1zM167 312h1v1h-1zM168 311h1v1h-1zM169 311h1v1h-1zM170 310h1v1h-1zM171 310h1v1h-1zM172 309h1v1h-1zM173 309h1v1h-1zM174 308h1v1h-1zM175 308h1v1h-1zM176 307h1v1h-1zM177 307h1v1h-1zM178 306h1v1h-1zM179 306h1v1h-1zM180 305h1v1h-1zM181 305h1v1h-1zM182 304h1v1h-1zM183 304h1v1h-1zM184 304h1v1h-1zM185 303h1v1h-1zM186 303h1v1h-1zM187 303h1v1h-1zM188 303h1v1h-1zM189 303h1v1h-1zM190 302h1v1h-1zM191 302h1v1h-1zM192 302h1v1h-1zM193 302h1v1h-1zM194 301h1v1h-1zM195 301h1v1h-1zM196 300h1v1h-1zM197 300h1v1h-1zM198 300h1v1h-1zM199 299h1v1h-1zM200 299h1v1h-1zM201 298h1v1h-1zM202 297h1v1h-1zM203 296h1v1h-1zM204 296h1v1h-1zM205 295h1v1h-1zM206 294h1v1h-1zM207 293h1v1h-1zM208 292h1v1h-1zM209 291h1v1h-1zM210 290h1v1h-1zM211 289h1v1h-1zM212 288h1v1h-1zM213 287h1v1h-1zM214 287h1v1h-1zM215 287h1v1h-1zM216 287h1v1h-1zM217 287h1v1h-1zM218 287h1v1h-1zM219 287h1v1h-1zM220 287h1v1h-1zM221 287h1v1h-1zM222 287h1v1h-1zM223 287h1v1h-1zM224 287h1v1h-1zM225 287h1v1h-1zM226 287h1v1h-1zM227 287h1v1h-1zM228 287h1v1h-1zM229 287h1v1h-1zM230 287h1v1h-1zM231 288h1v1h-1zM232 288h1v1h-1zM233 288h1v1h-1zM234 288h1v1h-1zM235 288h1v1h-1zM236 288h1v1h-1zM237 288h1v1h-1zM238 288h1v1h-1zM239 288h1v1h-1zM240 289h1v1h-1zM241 288h1v1h-1zM242 288h1v1h-1zM243 288h1v1h-1zM244 288h1v1h-1zM245 288h1v1h-1zM246 288h1v1h-1zM247 288h1v1h-1zM248 288h1v1h-1zM249 288h1v1h-1zM250 287h1v1h-1zM251 288h1v1h-1zM252 288h1v1h-1zM253 289h1v1h-1zM254 289h1v1h-1zM255 290h1v1h-1zM256 291h1v1h-1zM257 292h1v1h-1zM258 293h1v1h-1zM259 294h1v1h-1zM260 295h1v1h-1zM261 295h1v1h-1zM262 296h1v1h-1zM263 296h1v1h-1zM264 297h1v1h-1zM265 298h1v1h-1zM266 298h1v1h-1zM267 299h1v1h-1zM268 299h1v1h-1zM269 300h1v1h-1zM270 301h1v1h-1zM271 302h1v1h-1zM272 303h1v1h-1zM273 304h1v1h-1zM274 304h1v1h-1zM275 305h1v1h-1zM276 306h1v1h-1zM277 307h1v1h-1zM278 308h1v1h-1zM279 309h1v1h-1zM280 310h1v1h-1zM281 310h1v1h-1zM282 311h1v1h-1zM283 312h1v1h-1zM284 313h1v1h-1zM285 314h1v2h-1zM286 316h1v1h-1zM287 317h1v1h-1zM288 318h1v2h-1zM289 320h1v1h-1zM290 321h1v1h-1zM291 322h1v1h-1zM292 323h1v1h-1zM293 324h1v2h-1zM294 326h1v1h-1zM295 327h1v1h-1zM296 328h1v1h-1zM297 329h1v1h-1zM298 330h1v1h-1zM299 331h1v1h-1zM300 331h1v1h-1zM301 332h1v1h-1zM302 333h1v1h-1zM303 333h1v1h-1zM304 334h1v1h-1zM305 334h1v1h-1zM306 335h1v1h-1zM307 335h1v1h-1zM308 336h1v1h-1zM309 335h1v1h-1zM310 335h1v1h-1zM311 335h1v1h-1zM312 335h1v1h-1zM313 335h1v1h-1zM314 334h1v1h-1zM315 334h1v1h-1zM316 334h1v1h-1zM317 334h1v1h-1zM318 333h1v1h-1zM319 333h1v1h-1zM320 333h1v1h-1zM321 333h1v1h-1zM322 332h1v1h-1zM323 332h1v1h-1zM324 332h1v1h-1zM325 331h1v1h-1zM326 331h1v1h-1zM327 331h1v1h-1zM328 330h1v1h-1zM329 330h1v1h-1zM330 330h1v1h-1zM331 329h1v1h-1zM332 329h1v1h-1zM333 328h1v1h-1zM334 328h1v1h-1zM335 328h1v1h-1zM336 327h1v1h-1zM337 326h1v1h-1zM338 326h1v1h-1zM339 326h1v1h-1zM340 325h1v1h-1zM341 324h1v1h-1zM342 324h1v1h-1zM343 324h1v1h-1zM344 323h1v1h-1zM345 322h1v1h-1zM346 322h1v1h-1zM347 321h1v1h-1zM348 321h1v1h-1zM349 320h1v1h-1zM350 320h1v1h-1zM351 319h1v1h-1zM352 319h1v1h-1zM353 318h1v1h-1zM354 318h1v1h-1zM355 317h1v1h-1zM356 316h1v1h-1zM357 316h1v1h-1zM358 315h1v1h-1zM359 314h1v1h-1zM360 313h1v1h-1zM361 312h1v1h-1zM362 312h1v1h-1zM363 311h1v1h-1zM364 310h1v1h-1zM365 309h1v1h-1zM366 308h1v1h-1zM367 307h1v1h-1zM368 306h1v1h-1zM369 305h1v1h-1zM370 304h1v1h-1zM371 303h1v1h-1zM372 302h1v1h-1zM373 301h1v1h-1zM374 300h1v1h-1zM375 299h1v1h-1zM376 298h1v1h-1zM377 297h1v1h-1zM378 296h1v1h-1zM379 296h1v1h-1zM380 295h1v1h-1zM381 295h1v1h-1zM382 294h1v1h-1zM383 294h1v1h-1zM384 293h1v1h-1zM385 293h1v1h-1zM386 293h1v1h-1zM387 293h1v1h-1zM388 293h1v1h-1zM389 293h1v1h-1zM390 292h1v1h-1zM391 292h1v1h-1zM392 292h1v1h-1zM393 292h1v1h-1zM394 292h1v1h-1zM395 292h1v1h-1zM396 293h1v1h-1zM397 293h1v1h-1zM398 293h1v1h-1zM399 293h1v1h-1zM400 293h1v1h-1zM401 293h1v1h-1zM402 293h1v1h-1zM403 293h1v1h-1zM404 294h1v1h-1zM405 294h1v1h-1zM406 294h1v1h-1zM407 295h1v1h-1zM408 295h1v1h-1zM409 296h1v1h-1zM410 296h1v1h-1zM411 296h1v1h-1zM412 297h1v1h-1zM413 298h1v1h-1zM414 298h1v1h-1zM415 298h1v1h-1zM416 299h1v1h-1zM417 300h1v1h-1zM418 300h1v1h-1zM419 300h1v1h-1zM420 301h1v1h-1zM421 302h1v1h-1zM422 302h1v1h-1zM423 302h1v1h-1zM424 303h1v1h-1zM425 304h1v1h-1zM426 304h1v1h-1zM427 304h1v1h-1zM428 305h1v1h-1zM429 306h1v1h-1zM430 306h1v1h-1zM431 307h1v1h-1zM432 308h1v1h-1zM433 308h1v1h-1zM434 309h1v1h-1zM435 309h1v1h-1zM436 310h1v1h-1zM437 311h1v1h-1zM438 312h1v1h-1zM439 312h1v1h-1zM440 313h1v1h-1zM441 314h1v1h-1zM442 314h1v1h-1zM443 315h1v1h-1zM444 316h1v1h-1zM445 317h1v1h-1zM446 318h1v1h-1zM447 318h1v1h-1zM448 319h1v1h-1zM449 320h1v1h-1zM450 321h1v1h-1zM451 322h1v2h-1zM452 324h1v1h-1zM453 325h1v1h-1zM454 326h1v1h-1zM455 327h1v1h-1zM456 328h1v2h-1zM457 330h1v1h-1zM458 331h1v1h-1zM459 332h1v2h-1zM460 334h1v2h-1zM461 336h1v1h-1zM462 337h1v1h-1zM463 338h1v2h-1zM464 340h1v2h-1zM465 342h1v1h-1zM466 343h1v1h-1zM467 344h1v2h-1zM468 346h1v2h-1zM469 348h1v1h-1zM470 349h1v1h-1zM471 350h1v2h-1zM472 352h1v2h-1zM473 354h1v2h-1zM474 356h1v1h-1zM475 357h1v2h-1zM476 359h1v2h-1zM477 361h1v1h-1zM478 362h1v2h-1zM479 364h1v2h-1zM480 366h1v1h-1zM481 367h1v2h-1zM482 369h1v1h-1zM483 370h1v1h-1zM484 371h1v2h-1zM485 373h1v1h-1zM486 374h1v2h-1zM487 376h1v1h-1zM488 377h1v2h-1zM489 379h1v1h-1zM490 380h1v2h-1zM491 382h1v2h-1zM492 384h1v1h-1zM493 385h1v2h-1zM494 387h1v1h-1zM495 388h1v2h-1zM496 390h1v1h-1zM497 391h1v2h-1zM498 393h1v1h-1zM499 394h1v2h-1zM500 396h1v1h-1zM501 397h1v1h-1zM502 398h1v2h-1zM503 400h1v1h-1zM504 401h1v2h-1zM505 403h1v1h-1zM506 404h1v1h-1zM507 405h1v2h-1zM508 407h1v1h-1zM509 408h1v1h-1zM510 409h1v1h-1zM511 410h1v2h-1zM512 412h1v1h-1zM513 413h1v1h-1zM514 414h1v2h-1zM515 416h1v1h-1zM516 417h1v1h-1zM517 418h1v1h-1zM518 419h1v1h-1zM519 420h1v2h-1zM520 422h1v1h-1zM521 423h1v1h-1zM522 424h1v1h-1zM523 425h1v1h-1zM524 426h1v1h-1zM525 427h1v1h-1zM526 427h1v1h-1zM527 428h1v1h-1zM528 429h1v1h-1zM529 429h1v1h-1zM530 430h1v1h-1zM531 430h1v1h-1zM532 431h1v1h-1zM533 431h1v1h-1zM534 431h1v1h-1zM535 432h1v1h-1zM536 432h1v1h-1zM537 432h1v1h-1zM538 432h1v1h-1zM539 432h1v1h-1zM540 432h1v1h-1zM541 432h1v1h-1zM542 432h1v1h-1zM543 432h1v1h-1zM544 431h1v1h-1zM545 431h1v1h-1zM546 431h1v1h-1zM547 430h1v1h-1zM548 430h1v1h-1zM549 430h1v1h-1zM550 429h1v1h-1zM551 428h1v1h-1zM552 428h1v1h-1zM553 428h1v1h-1zM554 427h1v1h-1zM555 426h1v1h-1zM556 426h1v1h-1zM557 425h1v1h-1zM558 425h1v1h-1zM559 424h1v1h-1zM560 423h1v1h-1zM561 422h1v1h-1zM562 422h1v1h-1zM563 421h1v1h-1zM564 420h1v1h-1zM565 420h1v1h-1zM566 419h1v1h-1zM567 418h1v1h-1zM568 417h1v1h-1zM569 416h1v1h-1zM570 415h1v1h-1zM571 414h1v1h-1zM572 413h1v1h-1zM573 412h1v1h-1zM574 411h1v1h-1zM575 409h1v2h-1zM576 408h1v1h-1zM577 407h1v1h-1zM578 405h1v2h-1zM579 404h1v1h-1zM580 403h1v1h-1zM581 401h1v2h-1zM582 400h1v1h-1zM583 399h1v1h-1zM584 397h1v2h-1zM585 396h1v1h-1zM586 394h1v2h-1zM587 393h1v1h-1zM588 392h1v1h-1zM589 391h1v1h-1zM590 390h1v1h-1zM591 389h1v1h-1zM592 387h1v2h-1zM593 386h1v1h-1zM594 385h1v1h-1zM595 384h1v1h-1zM596 383h1v1h-1zM597 382h1v1h-1zM598 381h1v1h-1zM599 379h1v2h-1zM600 378h1v1h-1zM601 377h1v1h-1zM602 376h1v1h-1zM603 375h1v1h-1zM604 373h1v2h-1zM605 372h1v1h-1zM606 371h1v1h-1zM607 370h1v1h-1zM608 369h1v1h-1zM609 367h1v2h-1zM610 366h1v1h-1zM611 365h1v1h-1zM612 364h1v1h-1zM613 363h1v1h-1zM614 362h1v1h-1zM615 362h1v1h-1zM616 361h1v1h-1zM617 360h1v1h-1zM618 360h1v1h-1zM619 359h1v1h-1zM620 358h1v1h-1zM621 357h1v1h-1zM622 356h1v1h-1zM623 356h1v1h-1zM624 355h1v1h-1zM625 354h1v1h-1zM626 354h1v1h-1zM627 353h1v1h-1zM628 353h1v1h-1zM629 352h1v1h-1zM630 351h1v1h-1zM631 351h1v1h-1zM632 350h1v1h-1zM633 349h1v1h-1zM634 349h1v1h-1zM635 348h1v1h-1zM636 348h1v1h-1zM637 347h1v1h-1zM638 346h1v1h-1zM639 346h1v1h-1zM640 345h1v1h-1zM641 344h1v1h-1zM642 344h1v1h-1zM643 343h1v1h-1zM644 343h1v1h-1zM645 342h1v1h-1zM646 341h1v1h-1zM647 341h1v1h-1zM648 340h1v1h-1zM649 339h1v1h-1zM650 339h1v1h-1zM651 338h1v1h-1zM652 338h1v1h-1zM653 337h1v1h-1zM654 337h1v1h-1zM655 336h1v1h-1zM656 336h1v1h-1zM657 335h1v1h-1zM658 335h1v1h-1zM659 334h1v1h-1zM660 334h1v1h-1zM661 333h1v1h-1zM662 333h1v1h-1zM663 332h1v1h-1zM664 332h1v1h-1zM665 332h1v1h-1zM666 331h1v1h-1zM667 331h1v1h-1zM668 331h1v1h-1zM669 330h1v1h-1zM670 330h1v1h-1zM671 329h1v1h-1zM672 329h1v1h-1zM673 329h1v1h-1zM674 329h1v1h-1zM675 328h1v1h-1zM676 328h1v1h-1zM677 328h1v1h-1zM678 328h1v1h-1zM679 328h1v1h-1zM680 327h1v1h-1zM681 327h1v1h-1zM682 327h1v1h-1zM683 327h1v1h-1zM684 327h1v1h-1zM685 327h1v1h-1zM686 327h1v1h-1zM687 327h1v1h-1zM688 327h1v1h-1zM689 327h1v1h-1zM690 327h1v1h-1zM691 327h1v1h-1zM692 327h1v1h-1zM693 327h1v1h-1zM694 327h1v1h-1zM695 327h1v1h-1zM696 327h1v1h-1zM697 327h1v1h-1zM698 328h1v1h-1zM699 328h1v1h-1zM700 328h1v1h-1zM701 328h1v1h-1zM702 328h1v1h-1zM703 328h1v1h-1zM704 328h1v1h-1zM705 327h1v1h-1zM706 327h1v1h-1zM707 327h1v1h-1zM708 326h1v1h-1zM709 326h1v1h-1zM710 326h1v1h-1zM711 325h1v1h-1zM712 325h1v1h-1zM713 325h1v1h-1zM714 325h1v1h-1zM715 325h1v1h-1zM716 325h1v1h-1zM717 324h1v1h-1zM718 324h1v1h-1zM719 324h1v1h-1zM720 324h1v1h-1zM721 324h1v1h-1zM722 324h1v1h-1zM723 324h1v1h-1zM724 325h1v1h-1zM725 325h1v1h-1zM726 325h1v1h-1zM727 326h1v1h-1zM728 326h1v1h-1zM729 326h1v1h-1zM730 327h1v1h-1zM731 327h1v1h-1zM732 327h1v1h-1zM733 328h1v1h-1zM734 329h1v1h-1zM735 329h1v1h-1zM736 330h1v1h-1zM737 330h1v1h-1zM738 331h1v1h-1zM739 331h1v1h-1zM740 332h1v1h-1zM741 333h1v1h-1zM742 334h1v1h-1zM743 334h1v1h-1zM744 335h1v1h-1zM745 336h1v1h-1zM746 336h1v1h-1zM747 337h1v1h-1zM748 338h1v1h-1zM749 339h1v1h-1zM750 340h1v1h-1zM751 341h1v1h-1zM752 341h1v1h-1zM753 342h1v1h-1zM754 343h1v1h-1zM755 344h1v1h-1zM756 345h1v1h-1zM757 346h1v1h-1zM758 347h1v1h-1zM759 347h1v1h-1zM760 348h1v1h-1zM761 349h1v1h-1zM762 350h1v1h-1zM763 350h1v1h-1zM764 351h1v1h-1zM765 352h1v1h-1zM766 352h1v1h-1zM767 352h1v1h-1zM768 352h1v1h-1zM769 352h1v1h-1zM770 352h1v1h-1zM771 352h1v1h-1zM772 352h1v1h-1zM773 352h1v1h-1zM774 352h1v1h-1zM775 352h1v1h-1zM776 352h1v1h-1zM777 352h1v1h-1zM778 352h1v1h-1zM779 352h1v1h-1zM780 352h1v1h-1zM781 351h1v1h-1zM782 351h1v1h-1zM783 351h1v1h-1zM784 351h1v1h-1zM785 351h1v1h-1zM786 351h1v1h-1zM787 351h1v1h-1zM788 351h1v1h-1zM789 351h1v1h-1zM790 351h1v1h-1zM791 351h1v1h-1zM792 351h1v1h-1zM793 351h1v1h-1zM794 351h1v1h-1zM795 351h1v1h-1zM796 351h1v1h-1zM797 351h1v1h-1zM798 351h1v1h-1zM799 351h1v1h-1zM800 351h1v1h-1zM801 351h1v1h-1zM802 351h1v1h-1zM803 351h1v1h-1zM804 351h1v1h-1zM805 351h1v1h-1zM806 350h1v1h-1zM807 350h1v1h-1zM808 350h1v1h-1zM809 350h1v1h-1zM810 350h1v1h-1zM811 350h1v1h-1zM812 350h1v1h-1zM813 350h1v1h-1zM814 350h1v1h-1zM815 350h1v1h-1zM816 350h1v1h-1zM817 350h1v1h-1zM818 350h1v1h-1zM819 351h1v1h-1zM820 351h1v1h-1zM821 350h1v1h-1zM822 350h1v1h-1zM823 349h1v1h-1zM824 349h1v1h-1zM825 348h1v1h-1zM826 348h1v1h-1zM827 347h1v1h-1zM828 346h1v1h-1zM829 345h1v1h-1zM830 344h1v1h-1zM831 343h1v1h-1zM832 342h1v1h-1zM833 341h1v1h-1zM834 340h1v1h-1zM835 339h1v1h-1zM836 337h1v2h-1zM837 336h1v1h-1zM838 335h1v1h-1zM839 334h1v1h-1zM840 333h1v1h-1zM841 331h1v2h-1zM842 330h1v1h-1zM843 329h1v1h-1zM844 327h1v2h-1zM845 326h1v1h-1zM846 324h1v2h-1zM847 323h1v1h-1zM848 322h1v1h-1zM849 321h1v1h-1zM850 320h1v1h-1zM851 319h1v1h-1zM852 318h1v1h-1zM853 318h1v1h-1zM854 317h1v1h-1zM855 316h1v1h-1zM856 315h1v1h-1zM857 314h1v1h-1zM858 313h1v1h-1zM859 312h1v1h-1zM860 311h1v1h-1zM861 310h1v1h-1zM862 309h1v1h-1zM863 308h1v1h-1zM864 308h1v1h-1zM865 307h1v1h-1zM866 306h1v1h-1zM867 306h1v1h-1zM868 305h1v1h-1zM869 305h1v1h-1zM870 304h1v1h-1zM871 304h1v1h-1zM872 303h1v1h-1zM873 303h1v1h-1zM874 302h1v1h-1zM875 302h1v1h-1zM876 301h1v1h-1zM877 300h1v1h-1zM878 299h1v1h-1zM879 298h1v1h-1zM880 298h1v1h-1zM881 297h1v1h-1zM882 296h1v1h-1zM883 295h1v1h-1zM884 294h1v1h-1zM885 294h1v1h-1zM886 293h1v1h-1zM887 292h1v1h-1zM888 291h1v1h-1zM889 290h1v1h-1zM890 289h1v1h-1zM891 288h1v1h-1zM892 287h1v1h-1zM893 286h1v1h-1zM894 285h1v1h-1zM895 284h1v1h-1zM896 283h1v1h-1zM897 282h1v1h-1zM898 281h1v1h-1zM899 280h1v1h-1zM900 279h1v1h-1zM901 278h1v1h-1zM902 278h1v1h-1zM903 277h1v1h-1zM904 276h1v1h-1zM905 275h1v1h-1zM906 274h1v1h-1zM907 274h1v1h-1zM908 273h1v1h-1zM909 272h1v1h-1zM910 272h1v1h-1zM911 271h1v1h-1zM912 270h1v1h-1zM913 269h1v1h-1zM914 269h1v1h-1zM915 268h1v1h-1zM916 268h1v1h-1zM917 267h1v1h-1zM918 266h1v1h-1zM919 266h1v1h-1zM920 265h1v1h-1zM921 265h1v1h-1zM922 264h1v1h-1zM923 264h1v1h-1zM924 263h1v1h-1zM925 262h1v1h-1zM926 262h1v1h-1zM927 261h1v1h-1zM928 260h1v1h-1zM929 260h1v1h-1zM930 259h1v1h-1zM931 258h1v1h-1zM932 258h1v1h-1zM933 257h1v1h-1zM934 256h1v1h-1zM935 256h1v1h-1zM936 255h1v1h-1zM937 254h1v1h-1zM938 254h1v1h-1zM939 253h1v1h-1zM940 253h1v1h-1zM941 252h1v1h-1zM942 252h1v1h-1zM943 251h1v1h-1zM944 250h1v1h-1zM945 250h1v1h-1zM946 249h1v1h-1zM947 249h1v1h-1zM948 248h1v1h-1zM949 247h1v1h-1zM950 247h1v1h-1zM951 246h1v1h-1zM952 246h1v1h-1zM953 245h1v1h-1zM954 244h1v1h-1zM955 244h1v1h-1zM956 243h1v1h-1zM957 243h1v1h-1zM958 242h1v1h-1zM959 242h1v1h-1zM960 241h1v1h-1zM961 240h1v1h-1zM962 240h1v1h-1zM963 239h1v1h-1zM964 239h1v1h-1zM965 238h1v1h-1zM966 238h1v1h-1zM967 237h1v1h-1zM968 236h1v1h-1zM969 236h1v1h-1zM970 235h1v1h-1zM971 235h1v1h-1zM972 234h1v1h-1zM973 234h1v1h-1zM974 233h1v1h-1zM975 233h1v1h-1zM976 233h1v1h-1zM977 232h1v1h-1zM978 232h1v1h-1zM979 232h1v1h-1zM980 231h1v1h-1zM981 231h1v1h-1zM982 231h1v1h-1zM983 230h1v1h-1zM984 230h1v1h-1zM985 230h1v1h-1zM986 229h1v1h-1zM987 229h1v1h-1zM988 228h1v1h-1zM989 228h1v1h-1zM990 228h1v1h-1zM991 227h1v1h-1zM992 227h1v1h-1zM993 226h1v1h-1zM994 226h1v1h-1zM995 225h1v1h-1zM996 225h1v1h-1zM997 225h1v1h-1zM998 224h1v1h-1zM999 224h1v1h-1zM1000 224h1v1h-1zM1001 223h1v1h-1zM1002 223h1v1h-1zM1003 222h1v1h-1zM1004 222h1v1h-1zM1005 222h1v1h-1zM1006 222h1v1h-1zM1007 222h1v1h-1zM1008 222h1v1h-1zM1009 222h1v1h-1zM1010 222h1v1h-1zM1011 222h1v1h-1zM1012 222h1v1h-1zM1013 222h1v1h-1zM1014 222h1v1h-1zM1015 222h1v1h-1zM1016 222h1v1h-1zM1017 222h1v1h-1zM1018 222h1v1h-1zM1019 222h1v1h-1zM1020 222h1v1h-1zM1021 222h1v1h-1zM1022 222h1v1h-1zM1023 222h1v1h-1zM1024 222h1v1h-1zM1025 223h1v1h-1zM1026 223h1v1h-1zM1027 223h1v1h-1zM1028 224h1v1h-1zM1029 224h1v1h-1zM1030 224h1v1h-1zM1031 225h1v1h-1zM1032 225h1v1h-1zM1033 225h1v1h-1zM1034 225h1v1h-1zM1035 226h1v1h-1zM1036 226h1v1h-1zM1037 226h1v1h-1zM1038 226h1v1h-1zM1039 226h1v1h-1zM1040 226h1v1h-1zM1041 226h1v1h-1zM1042 227h1v1h-1zM1043 227h1v1h-1zM1044 227h1v1h-1zM1045 227h1v1h-1zM1046 228h1v1h-1zM1047 228h1v1h-1zM1048 228h1v1h-1zM1049 229h1v1h-1zM1050 229h1v1h-1zM1051 230h1v1h-1zM1052 230h1v1h-1zM1053 231h1v1h-1zM1054 231h1v1h-1zM1055 232h1v1h-1zM1056 232h1v1h-1zM1057 233h1v1h-1zM1058 234h1v1h-1zM1059 234h1v1h-1zM1060 235h1v1h-1zM1061 235h1v1h-1zM1062 236h1v1h-1zM1063 236h1v1h-1zM1064 237h1v1h-1zM1065 237h1v1h-1zM1066 238h1v1h-1zM1067 238h1v1h-1zM1068 238h1v1h-1zM1069 239h1v1h-1zM1070 239h1v1h-1zM1071 239h1v1h-1zM1072 239h1v1h-1zM1073 239h1v1h-1zM1074 239h1v1h-1zM1075 239h1v1h-1zM1076 240h1v1h-1zM1077 240h1v1h-1zM1078 239h1v1h-1zM1079 239h1v1h-1zM1080 239h1v1h-1zM1081 239h1v1h-1zM1082 239h1v1h-1zM1083 239h1v1h-1zM1084 239h1v1h-1zM1085 239h1v1h-1zM1086 239h1v1h-1zM1087 239h1v1h-1zM1088 239h1v1h-1zM1089 239h1v1h-1zM1090 238h1v1h-1zM1091 238h1v1h-1zM1092 238h1v1h-1zM1093 238h1v1h-1zM1094 238h1v1h-1zM1095 238h1v1h-1zM1096 237h1v1h-1zM1097 237h1v1h-1zM1098 237h1v1h-1zM1099 237h1v1h-1zM1100 237h1v1h-1zM1101 237h1v1h-1zM1102 236h1v1h-1zM1103 236h1v1h-1zM1104 236h1v1h-1zM1105 236h1v1h-1zM1106 236h1v1h-1zM1107 236h1v1h-1zM1108 236h1v1h-1zM1109 235h1v1h-1zM1110 234h1v1h-1zM1111 234h1v1h-1zM1112 233h1v1h-1zM1113 233h1v1h-1zM1114 232h1v1h-1zM1115 232h1v1h-1zM1116 231h1v1h-1zM1117 231h1v1h-1zM1118 230h1v1h-1zM1119 230h1v1h-1zM1120 229h1v1h-1zM1121 229h1v1h-1zM1122 228h1v1h-1zM1123 228h1v1h-1zM1124 228h1v1h-1zM1125 227h1v1h-1zM1126 226h1v1h-1zM1127 226h1v1h-1zM1128 226h1v1h-1zM1129 225h1v1h-1zM1130 224h1v1h-1zM1131 224h1v1h-1zM1132 224h1v1h-1zM1133 223h1v1h-1zM1134 222h1v1h-1zM1135 222h1v1h-1zM1136 221h1v1h-1zM1137 220h1v1h-1zM1138 220h1v1h-1zM1139 219h1v1h-1zM1140 218h1v1h-1zM1141 217h1v1h-1zM1142 216h1v1h-1zM1143 215h1v1h-1zM1144 213h1v2h-1zM1145 212h1v1h-1zM1146 211h1v1h-1zM1147 209h1v2h-1zM1148 208h1v1h-1zM1149 207h1v1h-1zM1150 206h1v1h-1zM1151 205h1v1h-1zM1152 204h1v1h-1zM1153 202h1v2h-1zM1154 201h1v1h-1zM1155 200h1v1h-1zM1156 199h1v1h-1zM1157 198h1v1h-1zM1158 197h1v1h-1zM1159 195h1v2h-1zM1160 194h1v1h-1zM1161 193h1v1h-1zM1162 192h1v1h-1zM1163 191h1v1h-1zM1164 190h1v1h-1zM1165 189h1v1h-1zM1166 188h1v1h-1zM1167 188h1v1h-1zM1168 187h1v1h-1zM1169 186h1v1h-1zM1170 185h1v1h-1zM1171 184h1v1h-1zM1172 184h1v1h-1zM1173 183h1v1h-1zM1174 182h1v1h-1zM1175 182h1v1h-1zM1176 181h1v1h-1zM1177 181h1v1h-1zM1178 180h1v1h-1zM1179 180h1v1h-1zM1180 179h1v1h-1zM1181 178h1v1h-1zM1182 178h1v1h-1zM1183 177h1v1h-1zM1184 176h1v1h-1zM1185 175h1v1h-1zM1186 174h1v1h-1zM1187 174h1v1h-1zM1188 173h1v1h-1zM1189 172h1v1h-1zM1190 171h1v1h-1zM1191 170h1v1h-1zM1192 169h1v1h-1zM1193 168h1v1h-1zM1194 167h1v1h-1zM1195 166h1v1h-1zM1196 165h1v1h-1zM1197 164h1v1h-1zM1198 163h1v1h-1zM1199 162h1v1h-1zM1200 161h1v1h-1zM1201 160h1v1h-1zM1202 159h1v1h-1zM1203 158h1v1h-1zM1204 157h1v1h-1zM1205 155h1v2h-1zM1206 154h1v1h-1zM1207 153h1v1h-1zM1208 151h1v2h-1zM1209 150h1v1h-1zM1210 148h1v2h-1zM1211 147h1v1h-1zM1212 145h1v2h-1zM1213 143h1v2h-1zM1214 141h1v2h-1zM1215 139h1v2h-1zM1216 138h1v1h-1zM1217 136h1v2h-1zM1218 134h1v2h-1zM1219 132h1v2h-1zM1220 131h1v1h-1zM1221 129h1v2h-1zM1222 128h1v1h-1zM1223 127h1v1h-1zM1224 126h1v1h-1zM1225 125h1v1h-1zM1226 123h1v2h-1zM1227 122h1v1h-1zM1228 121h1v1h-1zM1229 120h1v1h-1zM1230 120h1v1h-1zM1231 119h1v1h-1zM1232 118h1v1h-1zM1233 118h1v1h-1zM1234 117h1v1h-1zM1235 116h1v1h-1zM1236 115h1v1h-1zM1237 115h1v1h-1zM1238 114h1v1h-1zM1239 113h1v1h-1zM1240 113h1v1h-1zM1241 112h1v1h-1zM1242 112h1v1h-1zM1243 111h1v1h-1zM1244 110h1v1h-1zM1245 110h1v1h-1zM1246 109h1v1h-1zM1247 108h1v1h-1zM1248 107h1v1h-1zM1249 106h1v1h-1zM1250 105h1v1h-1zM1251 104h1v1h-1zM1252 103h1v1h-1zM1253 102h1v1h-1zM1254 101h1v1h-1zM1255 99h1v2h-1zM1256 98h1v1h-1zM1257 97h1v1h-1zM1258 95h1v2h-1zM1259 94h1v1h-1zM1260 92h1v2h-1zM1261 91h1v1h-1zM1262 90h1v1h-1zM1263 89h1v1h-1zM1264 88h1v1h-1zM1265 87h1v1h-1zM1266 86h1v1h-1zM1267 85h1v1h-1zM1268 84h1v1h-1zM1269 83h1v1h-1zM1270 82h1v1h-1zM1271 81h1v1h-1zM1272 80h1v1h-1zM1273 79h1v1h-1zM1274 78h1v1h-1zM1275 77h1v1h-1zM1276 75h1v2h-1zM1277 74h1v1h-1zM1278 73h1v1h-1zM1279 73h1v1h-1zM1280 72h1v1h-1z" fill="#ff4500" />
</g>
<g clip-path="url(#cMacd)" shape-rendering="crispEdges">
<path d="M5 504h1V524h-1zM9 504h1V524h-1zM13 504h1V524h-1zM17 504h1V524h-1zM21 504h1V524h-1zM25 504h1V524h-1zM29 505h1V524h-1zM33 505h1V524h-1zM37 505h1V524h-1zM41 506h1V524h-1zM45 508h1V524h-1zM49 509h1V524h-1zM53 510h1V524h-1zM57 512h1V524h-1zM61 513h1V524h-1zM65 514h1V524h-1zM69 515h1V524h-1zM73 515h1V524h-1zM77 515h1V524h-1zM81 515h1V524h-1zM85 515h1V524h-1zM89 515h1V524h-1zM93 515h1V524h-1zM97 515h1V524h-1zM101 516h1V524h-1zM105 517h1V524h-1zM109 517h1V524h-1zM113 519h1V524h-1zM117 521h1V524h-1zM121 521h1V524h-1zM125 522h1V524h-1zM129 521h1V524h-1zM133 520h1V524h-1zM137 518h1V524h-1zM141 518h1V524h-1zM145 517h1V524h-1zM149 517h1V524h-1zM153 517h1V524h-1zM157 517h1V524h-1zM161 516h1V524h-1zM165 516h1V524h-1zM169 516h1V524h-1zM173 516h1V524h-1zM177 516h1V524h-1zM181 516h1V524h-1zM185 516h1V524h-1zM189 516h1V524h-1zM193 516h1V524h-1zM197 516h1V524h-1zM201 516h1V524h-1zM205 516h1V524h-1zM209 516h1V524h-1zM213 516h1V524h-1zM217 516h1V524h-1zM221 517h1V524h-1zM225 517h1V524h-1zM229 518h1V524h-1zM233 520h1V524h-1zM237 521h1V524h-1zM241 522h1V524h-1zM245 523h1v1h-1zM249 523h1v1h-1zM253 523h1V526h-1zM257 523h1V527h-1zM261 523h1V529h-1zM265 523h1V530h-1zM269 523h1V531h-1zM273 523h1V533h-1zM277 523h1V534h-1zM281 523h1V535h-1zM285 523h1V536h-1zM289 523h1V536h-1zM293 523h1V537h-1zM297 523h1V537h-1zM301 523h1V537h-1zM305 523h1V534h-1zM309 523h1V531h-1zM313 523h1V526h-1zM317 523h1v1h-1zM321 522h1V524h-1zM325 520h1V524h-1zM329 519h1V524h-1zM333 518h1V524h-1zM337 517h1V524h-1zM341 517h1V524h-1zM345 516h1V524h-1zM349 517h1V524h-1zM353 517h1V524h-1zM357 518h1V524h-1zM361 518h1V524h-1zM365 519h1V524h-1zM369 520h1V524h-1zM373 520h1V524h-1zM377 521h1V524h-1zM381 521h1V524h-1zM385 522h1V524h-1zM389 523h1v1h-1zM393 523h1v1h-1zM397 523h1v1h-1zM401 523h1v1h-1zM405 523h1v1h-1zM409 523h1v1h-1zM413 523h1V525h-1zM417 523h1V525h-1zM421 523h1V526h-1zM425 523h1V527h-1zM429 523h1V528h-1zM433 523h1V528h-1zM437 523h1V529h-1zM441 523h1V530h-1zM445 523h1V532h-1zM449 523h1V533h-1zM453 523h1V535h-1zM457 523h1V537h-1zM461 523h1V539h-1zM465 523h1V540h-1zM469 523h1V542h-1zM473 523h1V543h-1zM477 523h1V544h-1zM481 523h1V545h-1zM485 523h1V546h-1zM489 523h1V546h-1zM493 523h1V547h-1zM497 523h1V547h-1zM501 523h1V547h-1zM505 523h1V547h-1zM509 523h1V546h-1zM513 523h1V545h-1zM517 523h1V544h-1zM521 523h1V542h-1zM525 523h1V540h-1zM529 523h1V538h-1zM533 523h1V535h-1zM537 523h1V533h-1zM541 523h1V531h-1zM545 523h1V529h-1zM549 523h1V527h-1zM553 523h1V525h-1zM557 523h1V525h-1zM561 523h1v1h-1zM565 521h1V524h-1zM569 520h1V524h-1zM573 518h1V524h-1zM577 517h1V524h-1zM581 515h1V524h-1zM585 515h1V524h-1zM589 514h1V524h-1zM593 513h1V524h-1zM597 513h1V524h-1zM601 512h1V524h-1zM605 512h1V524h-1zM609 512h1V524h-1zM613 512h1V524h-1zM617 511h1V524h-1zM621 512h1V524h-1zM625 512h1V524h-1zM629 513h1V524h-1zM633 514h1V524h-1zM637 514h1V524h-1zM641 514h1V524h-1zM645 514h1V524h-1zM649 514h1V524h-1zM653 513h1V524h-1zM657 513h1V524h-1zM661 513h1V524h-1zM665 513h1V524h-1zM669 514h1V524h-1zM673 514h1V524h-1zM677 514h1V524h-1zM681 515h1V524h-1zM685 516h1V524h-1zM689 517h1V524h-1zM693 519h1V524h-1zM697 520h1V524h-1zM701 520h1V524h-1zM705 520h1V524h-1zM709 520h1V524h-1zM713 521h1V524h-1zM717 521h1V524h-1zM721 522h1V524h-1zM725 523h1v1h-1zM729 523h1v1h-1zM733 523h1v1h-1zM737 523h1V525h-1zM741 523h1V525h-1zM745 523h1V527h-1zM749 523h1V529h-1zM753 523h1V530h-1zM757 523h1V532h-1zM761 523h1V532h-1zM765 523h1V532h-1zM769 523h1V531h-1zM773 523h1V530h-1zM777 523h1V528h-1zM781 523h1V526h-1zM785 523h1v1h-1zM789 522h1V524h-1zM793 522h1V524h-1zM797 521h1V524h-1zM801 521h1V524h-1zM805 521h1V524h-1zM809 521h1V524h-1zM813 521h1V524h-1zM817 522h1V524h-1zM821 521h1V524h-1zM825 521h1V524h-1zM829 520h1V524h-1zM833 518h1V524h-1zM837 517h1V524h-1zM841 516h1V524h-1zM845 515h1V524h-1zM849 513h1V524h-1zM853 512h1V524h-1zM857 510h1V524h-1zM861 509h1V524h-1zM865 508h1V524h-1zM869 508h1V524h-1zM873 509h1V524h-1zM877 509h1V524h-1zM881 509h1V524h-1zM885 510h1V524h-1zM889 510h1V524h-1zM893 510h1V524h-1zM897 510h1V524h-1zM901 511h1V524h-1zM905 511h1V524h-1zM909 512h1V524h-1zM913 513h1V524h-1zM917 513h1V524h-1zM921 514h1V524h-1zM925 514h1V524h-1zM929 514h1V524h-1zM933 513h1V524h-1zM937 512h1V524h-1zM941 510h1V524h-1zM945 509h1V524h-1zM949 509h1V524h-1zM953 509h1V524h-1zM957 510h1V524h-1zM961 511h1V524h-1zM965 511h1V524h-1zM969 512h1V524h-1zM973 513h1V524h-1zM977 513h1V524h-1zM981 514h1V524h-1zM985 515h1V524h-1zM989 516h1V524h-1zM993 516h1V524h-1zM997 517h1V524h-1zM1001 518h1V524h-1zM1005 518h1V524h-1zM1009 518h1V524h-1zM1013 519h1V524h-1zM1017 519h1V524h-1zM1021 520h1V524h-1zM1025 520h1V524h-1zM1029 521h1V524h-1zM1033 522h1V524h-1zM1037 522h1V524h-1zM1041 523h1v1h-1zM1045 523h1v1h-1zM1049 523h1v1h-1zM1053 523h1V525h-1zM1057 523h1V527h-1zM1061 523h1V528h-1zM1065 523h1V528h-1zM1069 523h1V528h-1zM1073 523h1V528h-1zM1077 523h1V527h-1zM1081 523h1V525h-1zM1085 523h1v1h-1zM1089 522h1V524h-1zM1093 521h1V524h-1zM1097 520h1V524h-1zM1101 519h1V524h-1zM1105 519h1V524h-1zM1109 518h1V524h-1zM1113 517h1V524h-1zM1117 516h1V524h-1zM1121 516h1V524h-1zM1125 516h1V524h-1zM1129 516h1V524h-1zM1133 517h1V524h-1zM1137 518h1V524h-1zM1141 519h1V524h-1zM1145 518h1V524h-1zM1149 517h1V524h-1zM1153 514h1V524h-1zM1157 512h1V524h-1zM1161 510h1V524h-1zM1165 508h1V524h-1zM1169 508h1V524h-1zM1173 508h1V524h-1zM1177 508h1V524h-1zM1181 508h1V524h-1zM1185 508h1V524h-1zM1189 508h1V524h-1zM1193 508h1V524h-1zM1197 508h1V524h-1zM1201 507h1V524h-1zM1205 506h1V524h-1zM1209 505h1V524h-1zM1213 504h1V524h-1zM1217 503h1V524h-1zM1221 502h1V524h-1zM1225 503h1V524h-1zM1229 504h1V524h-1zM1233 505h1V524h-1zM1237 507h1V524h-1zM1241 507h1V524h-1zM1245 507h1V524h-1zM1249 507h1V524h-1zM1253 506h1V524h-1zM1257 506h1V524h-1zM1261 506h1V524h-1zM1265 506h1V524h-1zM1269 506h1V524h-1zM1273 506h1V524h-1zM1277 506h1V524h-1zM1281 506h1V524h-1z" fill="#c0c0c0"/>
<path d="M5 495h1v1h-1zM6 495h1v1h-1zM7 495h1v1h-1zM11 495h1v1h-1zM12 495h1v1h-1zM13 495h1v1h-1zM17 495h1v1h-1zM18 495h1v1h-1zM19 495h1v1h-1zM23 495h1v1h-1zM24 495h1v1h-1zM25 495h1v1h-1zM29 496h1v1h-1zM30 496h1v1h-1zM31 496h1v1h-1zM35 498h1v1h-1zM36 498h1v1h-1zM37 498h1v1h-1zM41 500h1v1h-1zM42 500h1v1h-1zM43 501h1v1h-1zM47 503h1v1h-1zM48 504h1v1h-1zM49 504h1v1h-1zM53 505h1v1h-1zM54 505h1v1h-1zM55 506h1v1h-1zM59 506h1v1h-1zM60 507h1v1h-1zM61 507h1v1h-1zM65 508h1v1h-1zM66 508h1v1h-1zM67 508h1v1h-1zM71 510h1v1h-1zM72 510h1v1h-1zM73 510h1v1h-1zM77 511h1v1h-1zM78 511h1v1h-1zM79 512h1v1h-1zM83 512h1v1h-1zM84 513h1v1h-1zM85 513h1v1h-1zM89 514h1v1h-1zM90 514h1v1h-1zM91 514h1v1h-1zM95 514h1v1h-1zM96 514h1v1h-1zM97 514h1v1h-1zM101 515h1v1h-1zM102 515h1v1h-1zM103 515h1v1h-1zM107 515h1v1h-1zM108 515h1v1h-1zM109 515h1v1h-1zM113 515h1v1h-1zM114 515h1v1h-1zM115 516h1v1h-1zM119 516h1v1h-1zM120 517h1v1h-1zM121 517h1v1h-1zM125 517h1v1h-1zM126 517h1v1h-1zM127 518h1v1h-1zM131 518h1v1h-1zM132 518h1v1h-1zM133 518h1v1h-1zM137 518h1v1h-1zM138 518h1v1h-1zM139 518h1v1h-1zM143 518h1v1h-1zM144 518h1v1h-1zM145 518h1v1h-1zM149 518h1v1h-1zM150 518h1v1h-1zM151 518h1v1h-1zM155 517h1v1h-1zM156 517h1v1h-1zM157 517h1v1h-1zM161 517h1v1h-1zM162 517h1v1h-1zM163 516h1v1h-1zM167 516h1v1h-1zM168 516h1v1h-1zM169 516h1v1h-1zM173 516h1v1h-1zM174 516h1v1h-1zM175 516h1v1h-1zM179 516h1v1h-1zM180 516h1v1h-1zM181 516h1v1h-1zM185 516h1v1h-1zM186 516h1v1h-1zM187 516h1v1h-1zM191 516h1v1h-1zM192 516h1v1h-1zM193 516h1v1h-1zM197 516h1v1h-1zM198 516h1v1h-1zM199 516h1v1h-1zM203 516h1v1h-1zM204 516h1v1h-1zM205 516h1v1h-1zM209 516h1v1h-1zM210 516h1v1h-1zM211 516h1v1h-1zM215 516h1v1h-1zM216 516h1v1h-1zM217 516h1v1h-1zM221 516h1v1h-1zM222 516h1v1h-1zM223 516h1v1h-1zM227 516h1v1h-1zM228 516h1v1h-1zM229 516h1v1h-1zM233 517h1v1h-1zM234 517h1v1h-1zM235 517h1v1h-1zM239 517h1v1h-1zM240 517h1v1h-1zM241 517h1v1h-1zM245 518h1v1h-1zM246 518h1v1h-1zM247 518h1v1h-1zM251 520h1v1h-1zM252 520h1v1h-1zM253 520h1v1h-1zM257 522h1v1h-1zM258 522h1v1h-1zM259 522h1v1h-1zM263 524h1v1h-1zM264 524h1v1h-1zM265 524h1v1h-1zM269 526h1v1h-1zM270 526h1v1h-1zM271 526h1v1h-1zM275 528h1v1h-1zM276 528h1v1h-1zM277 529h1v1h-1zM281 530h1v1h-1zM282 530h1v1h-1zM283 531h1v1h-1zM287 532h1v1h-1zM288 533h1v1h-1zM289 533h1v1h-1zM293 534h1v1h-1zM294 534h1v1h-1zM295 534h1v1h-1zM299 534h1v1h-1zM300 535h1v1h-1zM301 535h1v1h-1zM305 535h1v1h-1zM306 535h1v1h-1zM307 535h1v1h-1zM311 534h1v1h-1zM312 534h1v1h-1zM313 534h1v1h-1zM317 533h1v1h-1zM318 533h1v1h-1zM319 532h1v1h-1zM323 530h1v1h-1zM324 530h1v1h-1zM325 529h1v1h-1zM329 527h1v1h-1zM330 526h1v1h-1zM331 526h1v1h-1zM335 523h1v1h-1zM336 522h1v1h-1zM337 522h1v1h-1zM341 520h1v1h-1zM342 520h1v1h-1zM343 520h1v1h-1zM347 518h1v1h-1zM348 518h1v1h-1zM349 518h1v1h-1zM353 517h1v1h-1zM354 517h1v1h-1zM355 517h1v1h-1zM359 516h1v1h-1zM360 516h1v1h-1zM361 516h1v1h-1zM365 516h1v1h-1zM366 516h1v1h-1zM367 516h1v1h-1zM371 517h1v1h-1zM372 517h1v1h-1zM373 517h1v1h-1zM377 517h1v1h-1zM378 517h1v1h-1zM379 518h1v1h-1zM383 518h1v1h-1zM384 518h1v1h-1zM385 518h1v1h-1zM389 519h1v1h-1zM390 519h1v1h-1zM391 519h1v1h-1zM395 520h1v1h-1zM396 520h1v1h-1zM397 520h1v1h-1zM401 520h1v1h-1zM402 520h1v1h-1zM403 520h1v1h-1zM407 521h1v1h-1zM408 521h1v1h-1zM409 521h1v1h-1zM413 522h1v1h-1zM414 522h1v1h-1zM415 522h1v1h-1zM419 522h1v1h-1zM420 523h1v1h-1zM421 523h1v1h-1zM425 524h1v1h-1zM426 524h1v1h-1zM427 524h1v1h-1zM431 524h1v1h-1zM432 525h1v1h-1zM433 525h1v1h-1zM437 526h1v1h-1zM438 526h1v1h-1zM439 526h1v1h-1zM443 527h1v1h-1zM444 527h1v1h-1zM445 527h1v1h-1zM449 529h1v1h-1zM450 529h1v1h-1zM451 530h1v1h-1zM455 530h1v1h-1zM456 531h1v1h-1zM457 531h1v1h-1zM461 533h1v1h-1zM462 533h1v1h-1zM463 534h1v1h-1zM467 534h1v1h-1zM468 535h1v1h-1zM469 535h1v1h-1zM473 536h1v1h-1zM474 536h1v1h-1zM475 537h1v1h-1zM479 538h1v1h-1zM480 539h1v1h-1zM481 539h1v1h-1zM485 541h1v1h-1zM486 541h1v1h-1zM487 542h1v1h-1zM491 542h1v1h-1zM492 543h1v1h-1zM493 543h1v1h-1zM497 544h1v1h-1zM498 544h1v1h-1zM499 544h1v1h-1zM503 546h1v1h-1zM504 546h1v1h-1zM505 546h1v1h-1zM509 546h1v1h-1zM510 546h1v1h-1zM511 546h1v1h-1zM515 545h1v1h-1zM516 545h1v1h-1zM517 545h1v1h-1zM521 545h1v1h-1zM522 545h1v1h-1zM523 545h1v1h-1zM527 544h1v1h-1zM528 544h1v1h-1zM529 544h1v1h-1zM533 543h1v1h-1zM534 542h1v1h-1zM535 542h1v1h-1zM539 540h1v1h-1zM540 540h1v1h-1zM541 539h1v1h-1zM545 537h1v1h-1zM546 536h1v1h-1zM547 536h1v1h-1zM551 534h1v1h-1zM552 534h1v1h-1zM553 533h1v1h-1zM557 531h1v1h-1zM558 530h1v1h-1zM559 530h1v1h-1zM563 528h1v1h-1zM564 528h1v1h-1zM565 527h1v1h-1zM569 525h1v1h-1zM570 525h1v1h-1zM571 524h1v1h-1zM575 523h1v1h-1zM576 522h1v1h-1zM577 522h1v1h-1zM581 521h1v1h-1zM582 520h1v1h-1zM583 520h1v1h-1zM587 518h1v1h-1zM588 518h1v1h-1zM589 518h1v1h-1zM593 516h1v1h-1zM594 516h1v1h-1zM595 516h1v1h-1zM599 514h1v1h-1zM600 514h1v1h-1zM601 514h1v1h-1zM605 513h1v1h-1zM606 513h1v1h-1zM607 513h1v1h-1zM611 512h1v1h-1zM612 512h1v1h-1zM613 512h1v1h-1zM617 512h1v1h-1zM618 512h1v1h-1zM619 512h1v1h-1zM623 512h1v1h-1zM624 511h1v1h-1zM625 511h1v1h-1zM629 512h1v1h-1zM630 512h1v1h-1zM631 512h1v1h-1zM635 512h1v1h-1zM636 512h1v1h-1zM637 512h1v1h-1zM641 512h1v1h-1zM642 512h1v1h-1zM643 512h1v1h-1zM647 513h1v1h-1zM648 513h1v1h-1zM649 513h1v1h-1zM653 513h1v1h-1zM654 513h1v1h-1zM655 513h1v1h-1zM659 513h1v1h-1zM660 513h1v1h-1zM661 513h1v1h-1zM665 513h1v1h-1zM666 513h1v1h-1zM667 513h1v1h-1zM671 513h1v1h-1zM672 513h1v1h-1zM673 513h1v1h-1zM677 513h1v1h-1zM678 513h1v1h-1zM679 514h1v1h-1zM683 514h1v1h-1zM684 514h1v1h-1zM685 514h1v1h-1zM689 514h1v1h-1zM690 514h1v1h-1zM691 514h1v1h-1zM695 515h1v1h-1zM696 515h1v1h-1zM697 515h1v1h-1zM701 516h1v1h-1zM702 516h1v1h-1zM703 516h1v1h-1zM707 516h1v1h-1zM708 517h1v1h-1zM709 517h1v1h-1zM713 518h1v1h-1zM714 518h1v1h-1zM715 518h1v1h-1zM719 519h1v1h-1zM720 519h1v1h-1zM721 519h1v1h-1zM725 520h1v1h-1zM726 520h1v1h-1zM727 520h1v1h-1zM731 521h1v1h-1zM732 521h1v1h-1zM733 521h1v1h-1zM737 522h1v1h-1zM738 522h1v1h-1zM739 522h1v1h-1zM743 522h1v1h-1zM744 523h1v1h-1zM745 523h1v1h-1zM749 524h1v1h-1zM750 524h1v1h-1zM751 524h1v1h-1zM755 526h1v1h-1zM756 526h1v1h-1zM757 526h1v1h-1zM761 527h1v1h-1zM762 527h1v1h-1zM763 528h1v1h-1zM767 529h1v1h-1zM768 530h1v1h-1zM769 530h1v1h-1zM773 531h1v1h-1zM774 531h1v1h-1zM775 531h1v1h-1zM779 531h1v1h-1zM780 531h1v1h-1zM781 531h1v1h-1zM785 529h1v1h-1zM786 529h1v1h-1zM787 528h1v1h-1zM791 528h1v1h-1zM792 527h1v1h-1zM793 527h1v1h-1zM797 526h1v1h-1zM798 526h1v1h-1zM799 526h1v1h-1zM803 524h1v1h-1zM804 524h1v1h-1zM805 523h1v1h-1zM809 523h1v1h-1zM810 523h1v1h-1zM811 522h1v1h-1zM815 522h1v1h-1zM816 522h1v1h-1zM817 522h1v1h-1zM821 522h1v1h-1zM822 522h1v1h-1zM823 522h1v1h-1zM827 522h1v1h-1zM828 521h1v1h-1zM829 521h1v1h-1zM833 521h1v1h-1zM834 521h1v1h-1zM835 520h1v1h-1zM839 520h1v1h-1zM840 519h1v1h-1zM841 519h1v1h-1zM845 519h1v1h-1zM846 519h1v1h-1zM847 518h1v1h-1zM851 518h1v1h-1zM852 517h1v1h-1zM853 517h1v1h-1zM857 515h1v1h-1zM858 515h1v1h-1zM859 514h1v1h-1zM863 513h1v1h-1zM864 512h1v1h-1zM865 512h1v1h-1zM869 511h1v1h-1zM870 511h1v1h-1zM871 511h1v1h-1zM875 510h1v1h-1zM876 510h1v1h-1zM877 510h1v1h-1zM881 510h1v1h-1zM882 510h1v1h-1zM883 510h1v1h-1zM887 510h1v1h-1zM888 510h1v1h-1zM889 510h1v1h-1zM893 510h1v1h-1zM894 510h1v1h-1zM895 510h1v1h-1zM899 510h1v1h-1zM900 510h1v1h-1zM901 510h1v1h-1zM905 510h1v1h-1zM906 510h1v1h-1zM907 510h1v1h-1zM911 510h1v1h-1zM912 511h1v1h-1zM913 511h1v1h-1zM917 511h1v1h-1zM918 511h1v1h-1zM919 512h1v1h-1zM923 512h1v1h-1zM924 512h1v1h-1zM925 512h1v1h-1zM929 512h1v1h-1zM930 512h1v1h-1zM931 512h1v1h-1zM935 512h1v1h-1zM936 512h1v1h-1zM937 512h1v1h-1zM941 512h1v1h-1zM942 512h1v1h-1zM943 512h1v1h-1zM947 511h1v1h-1zM948 511h1v1h-1zM949 511h1v1h-1zM953 510h1v1h-1zM954 510h1v1h-1zM955 510h1v1h-1zM959 510h1v1h-1zM960 510h1v1h-1zM961 510h1v1h-1zM965 510h1v1h-1zM966 510h1v1h-1zM967 510h1v1h-1zM971 510h1v1h-1zM972 510h1v1h-1zM973 510h1v1h-1zM977 510h1v1h-1zM978 510h1v1h-1zM979 510h1v1h-1zM983 510h1v1h-1zM984 511h1v1h-1zM985 511h1v1h-1zM989 512h1v1h-1zM990 512h1v1h-1zM991 512h1v1h-1zM995 513h1v1h-1zM996 513h1v1h-1zM997 513h1v1h-1zM1001 514h1v1h-1zM1002 514h1v1h-1zM1003 514h1v1h-1zM1007 515h1v1h-1zM1008 515h1v1h-1zM1009 515h1v1h-1zM1013 516h1v1h-1zM1014 516h1v1h-1zM1015 516h1v1h-1zM1019 517h1v1h-1zM1020 517h1v1h-1zM1021 517h1v1h-1zM1025 518h1v1h-1zM1026 518h1v1h-1zM1027 518h1v1h-1zM1031 518h1v1h-1zM1032 519h1v1h-1zM1033 519h1v1h-1zM1037 519h1v1h-1zM1038 519h1v1h-1zM1039 520h1v1h-1zM1043 520h1v1h-1zM1044 521h1v1h-1zM1045 521h1v1h-1zM1049 521h1v1h-1zM1050 521h1v1h-1zM1051 522h1v1h-1zM1055 522h1v1h-1zM1056 523h1v1h-1zM1057 523h1v1h-1zM1061 524h1v1h-1zM1062 524h1v1h-1zM1063 524h1v1h-1zM1067 526h1v1h-1zM1068 526h1v1h-1zM1069 526h1v1h-1zM1073 527h1v1h-1zM1074 527h1v1h-1zM1075 527h1v1h-1zM1079 527h1v1h-1zM1080 527h1v1h-1zM1081 527h1v1h-1zM1085 527h1v1h-1zM1086 527h1v1h-1zM1087 526h1v1h-1zM1091 526h1v1h-1zM1092 525h1v1h-1zM1093 525h1v1h-1zM1097 524h1v1h-1zM1098 524h1v1h-1zM1099 524h1v1h-1zM1103 522h1v1h-1zM1104 522h1v1h-1zM1105 522h1v1h-1zM1109 521h1v1h-1zM1110 521h1v1h-1zM1111 520h1v1h-1zM1115 520h1v1h-1zM1116 519h1v1h-1zM1117 519h1v1h-1zM1121 518h1v1h-1zM1122 518h1v1h-1zM1123 518h1v1h-1zM1127 516h1v1h-1zM1128 516h1v1h-1zM1129 516h1v1h-1zM1133 516h1v1h-1zM1134 516h1v1h-1zM1135 516h1v1h-1zM1139 516h1v1h-1zM1140 516h1v1h-1zM1141 516h1v1h-1zM1145 516h1v1h-1zM1146 516h1v1h-1zM1147 516h1v1h-1zM1151 516h1v1h-1zM1152 516h1v1h-1zM1153 516h1v1h-1zM1157 515h1v1h-1zM1158 515h1v1h-1zM1159 515h1v1h-1zM1163 514h1v1h-1zM1164 514h1v1h-1zM1165 514h1v1h-1zM1169 513h1v1h-1zM1170 512h1v1h-1zM1171 512h1v1h-1zM1175 510h1v1h-1zM1176 510h1v1h-1zM1177 510h1v1h-1zM1181 510h1v1h-1zM1182 510h1v1h-1zM1183 510h1v1h-1zM1187 509h1v1h-1zM1188 509h1v1h-1zM1189 509h1v1h-1zM1193 509h1v1h-1zM1194 509h1v1h-1zM1195 508h1v1h-1zM1199 508h1v1h-1zM1200 508h1v1h-1zM1201 508h1v1h-1zM1205 508h1v1h-1zM1206 508h1v1h-1zM1207 508h1v1h-1zM1211 507h1v1h-1zM1212 507h1v1h-1zM1213 507h1v1h-1zM1217 506h1v1h-1zM1218 506h1v1h-1zM1219 506h1v1h-1zM1223 505h1v1h-1zM1224 505h1v1h-1zM1225 505h1v1h-1zM1229 504h1v1h-1zM1230 504h1v1h-1zM1231 504h1v1h-1zM1235 504h1v1h-1zM1236 504h1v1h-1zM1237 504h1v1h-1zM1241 504h1v1h-1zM1242 504h1v1h-1zM1243 504h1v1h-1zM1247 504h1v1h-1zM1248 505h1v1h-1zM1249 505h1v1h-1zM1253 505h1v1h-1zM1254 505h1v1h-1zM1255 505h1v1h-1zM1259 505h1v1h-1zM1260 505h1v1h-1zM1261 505h1v1h-1zM1265 505h1v1h-1zM1266 505h1v1h-1zM1267 505h1v1h-1zM1271 505h1v1h-1zM1272 505h1v1h-1zM1273 505h1v1h-1zM1277 505h1v1h-1zM1278 505h1v1h-1zM1279 505h1v1h-1z" fill="#ff0000"/>
</g>
<g clip-path="url(#cRsi)" shape-rendering="crispEdges">
<path d="M5 590.5H1613M5 640.5H1613" stroke="#c0c0c0" stroke-width="1" stroke-dasharray="3 3" fill="none"/>
<path d="M5 590h1v1h-1zM6 590h1v1h-1zM7 591h1v1h-1zM8 592h1v1h-1zM9 592h1v1h-1zM10 591h1v1h-1zM11 590h1v1h-1zM12 589h1v1h-1zM13 588h1v1h-1zM14 588h1v1h-1zM15 588h1v1h-1zM16 588h1v1h-1zM17 588h1v1h-1zM18 589h1v1h-1zM19 590h1v1h-1zM20 590h1v1h-1zM21 591h1v2h-1zM22 593h1v3h-1zM23 596h1v2h-1zM24 598h1v2h-1zM25 600h1v2h-1zM26 601h1v1h-1zM27 602h1v1h-1zM28 602h1v1h-1zM29 602h1v2h-1zM30 604h1v2h-1zM31 606h1v1h-1zM32 607h1v2h-1zM33 609h1v1h-1zM34 609h1v1h-1zM35 609h1v1h-1zM36 609h1v1h-1zM37 608h1v2h-1zM38 607h1v1h-1zM39 605h1v2h-1zM40 603h1v2h-1zM41 602h1v1h-1zM42 602h1v1h-1zM43 601h1v1h-1zM44 600h1v1h-1zM45 600h1v2h-1zM46 602h1v2h-1zM47 604h1v2h-1zM48 606h1v2h-1zM49 608h1v1h-1zM50 609h1v1h-1zM51 610h1v1h-1zM52 610h1v1h-1zM53 611h1v1h-1zM54 610h1v1h-1zM55 610h1v1h-1zM56 609h1v1h-1zM57 608h1v1h-1zM58 609h1v1h-1zM59 610h1v1h-1zM60 610h1v1h-1zM61 611h1v1h-1zM62 610h1v1h-1zM63 609h1v1h-1zM64 608h1v1h-1zM65 606h1v2h-1zM66 604h1v2h-1zM67 601h1v3h-1zM68 599h1v2h-1zM69 598h1v2h-1zM70 600h1v3h-1zM71 603h1v3h-1zM72 606h1v2h-1zM73 608h1v2h-1zM74 608h1v1h-1zM75 608h1v1h-1zM76 608h1v1h-1zM77 607h1v1h-1zM78 606h1v1h-1zM79 606h1v1h-1zM80 606h1v1h-1zM81 605h1v1h-1zM82 605h1v1h-1zM83 606h1v1h-1zM84 606h1v1h-1zM85 606h1v1h-1zM86 606h1v1h-1zM87 605h1v1h-1zM88 604h1v1h-1zM89 604h1v1h-1zM90 605h1v1h-1zM91 606h1v1h-1zM92 606h1v1h-1zM93 607h1v1h-1zM94 608h1v1h-1zM95 608h1v1h-1zM96 608h1v1h-1zM97 609h1v1h-1zM98 608h1v1h-1zM99 608h1v1h-1zM100 607h1v1h-1zM101 606h1v1h-1zM102 606h1v1h-1zM103 605h1v1h-1zM104 604h1v1h-1zM105 604h1v2h-1zM106 606h1v2h-1zM107 608h1v2h-1zM108 610h1v2h-1zM109 612h1v2h-1zM110 614h1v2h-1zM111 616h1v1h-1zM112 617h1v2h-1zM113 619h1v1h-1zM114 620h1v1h-1zM115 620h1v1h-1zM116 621h1v1h-1zM117 622h1v1h-1zM118 621h1v1h-1zM119 620h1v1h-1zM120 620h1v1h-1zM121 619h1v1h-1zM122 619h1v1h-1zM123 620h1v1h-1zM124 620h1v1h-1zM125 620h1v1h-1zM126 619h1v1h-1zM127 618h1v1h-1zM128 617h1v1h-1zM129 614h1v3h-1zM130 610h1v4h-1zM131 605h1v5h-1zM132 600h1v5h-1zM133 598h1v2h-1zM134 597h1v1h-1zM135 595h1v2h-1zM136 594h1v1h-1zM137 593h1v2h-1zM138 595h1v2h-1zM139 597h1v2h-1zM140 599h1v2h-1zM141 601h1v2h-1zM142 603h1v1h-1zM143 604h1v2h-1zM144 606h1v2h-1zM145 608h1v1h-1zM146 608h1v1h-1zM147 607h1v1h-1zM148 606h1v1h-1zM149 606h1v1h-1zM150 606h1v1h-1zM151 606h1v1h-1zM152 606h1v1h-1zM153 606h1v1h-1zM154 606h1v1h-1zM155 606h1v1h-1zM156 605h1v1h-1zM157 605h1v2h-1zM158 607h1v2h-1zM159 609h1v3h-1zM160 612h1v2h-1zM161 614h1v1h-1zM162 614h1v1h-1zM163 613h1v1h-1zM164 612h1v1h-1zM165 611h1v2h-1zM166 609h1v2h-1zM167 608h1v1h-1zM168 606h1v2h-1zM169 605h1v1h-1zM170 604h1v1h-1zM171 603h1v1h-1zM172 602h1v1h-1zM173 601h1v1h-1zM174 600h1v1h-1zM175 599h1v1h-1zM176 598h1v1h-1zM177 597h1v2h-1zM178 599h1v4h-1zM179 603h1v3h-1zM180 606h1v3h-1zM181 609h1v2h-1zM182 610h1v1h-1zM183 610h1v1h-1zM184 609h1v1h-1zM185 609h1v1h-1zM186 610h1v2h-1zM187 612h1v2h-1zM188 614h1v1h-1zM189 615h1v1h-1zM190 614h1v1h-1zM191 614h1v1h-1zM192 614h1v1h-1zM193 613h1v1h-1zM194 612h1v1h-1zM195 612h1v1h-1zM196 611h1v1h-1zM197 610h1v1h-1zM198 610h1v1h-1zM199 610h1v1h-1zM200 609h1v1h-1zM201 609h1v1h-1zM202 607h1v2h-1zM203 605h1v2h-1zM204 604h1v1h-1zM205 603h1v1h-1zM206 603h1v1h-1zM207 604h1v1h-1zM208 604h1v1h-1zM209 603h1v2h-1zM210 601h1v2h-1zM211 600h1v1h-1zM212 598h1v2h-1zM213 597h1v2h-1zM214 599h1v3h-1zM215 602h1v2h-1zM216 604h1v3h-1zM217 607h1v2h-1zM218 609h1v1h-1zM219 610h1v2h-1zM220 612h1v1h-1zM221 613h1v1h-1zM222 613h1v1h-1zM223 612h1v1h-1zM224 612h1v1h-1zM225 612h1v1h-1zM226 613h1v1h-1zM227 614h1v2h-1zM228 616h1v1h-1zM229 617h1v1h-1zM230 618h1v1h-1zM231 619h1v1h-1zM232 620h1v1h-1zM233 621h1v1h-1zM234 620h1v1h-1zM235 619h1v1h-1zM236 618h1v1h-1zM237 617h1v1h-1zM238 618h1v1h-1zM239 618h1v1h-1zM240 619h1v1h-1zM241 620h1v1h-1zM242 620h1v1h-1zM243 620h1v1h-1zM244 619h1v1h-1zM245 619h1v1h-1zM246 620h1v1h-1zM247 621h1v1h-1zM248 622h1v1h-1zM249 623h1v1h-1zM250 624h1v2h-1zM251 626h1v1h-1zM252 627h1v1h-1zM253 628h1v1h-1zM254 629h1v1h-1zM255 630h1v2h-1zM256 632h1v1h-1zM257 632h1v2h-1zM258 631h1v1h-1zM259 629h1v2h-1zM260 627h1v2h-1zM261 626h1v1h-1zM262 626h1v1h-1zM263 626h1v1h-1zM264 626h1v1h-1zM265 626h1v1h-1zM266 626h1v1h-1zM267 627h1v1h-1zM268 628h1v1h-1zM269 628h1v2h-1zM270 630h1v2h-1zM271 632h1v1h-1zM272 633h1v2h-1zM273 635h1v1h-1zM274 636h1v1h-1zM275 636h1v1h-1zM276 637h1v1h-1zM277 637h1v2h-1zM278 635h1v2h-1zM279 633h1v2h-1zM280 631h1v2h-1zM281 630h1v1h-1zM282 631h1v1h-1zM283 632h1v1h-1zM284 632h1v1h-1zM285 633h1v1h-1zM286 633h1v1h-1zM287 633h1v1h-1zM288 633h1v1h-1zM289 633h1v1h-1zM290 634h1v1h-1zM291 634h1v1h-1zM292 634h1v1h-1zM293 634h1v2h-1zM294 633h1v1h-1zM295 631h1v2h-1zM296 629h1v2h-1zM297 627h1v2h-1zM298 624h1v3h-1zM299 620h1v4h-1zM300 617h1v3h-1zM301 615h1v2h-1zM302 614h1v1h-1zM303 614h1v1h-1zM304 614h1v1h-1zM305 612h1v2h-1zM306 609h1v3h-1zM307 607h1v2h-1zM308 605h1v2h-1zM309 603h1v2h-1zM310 602h1v1h-1zM311 602h1v1h-1zM312 601h1v1h-1zM313 600h1v1h-1zM314 600h1v1h-1zM315 600h1v1h-1zM316 600h1v1h-1zM317 600h1v1h-1zM318 601h1v1h-1zM319 602h1v1h-1zM320 602h1v1h-1zM321 603h1v1h-1zM322 602h1v1h-1zM323 601h1v1h-1zM324 600h1v1h-1zM325 599h1v1h-1zM326 598h1v1h-1zM327 598h1v1h-1zM328 598h1v1h-1zM329 597h1v2h-1zM330 599h1v3h-1zM331 602h1v2h-1zM332 604h1v2h-1zM333 606h1v2h-1zM334 606h1v1h-1zM335 606h1v1h-1zM336 606h1v1h-1zM337 605h1v1h-1zM338 604h1v1h-1zM339 604h1v1h-1zM340 604h1v1h-1zM341 603h1v1h-1zM342 604h1v1h-1zM343 605h1v1h-1zM344 606h1v1h-1zM345 607h1v1h-1zM346 607h1v1h-1zM347 606h1v1h-1zM348 606h1v1h-1zM349 606h1v1h-1zM350 606h1v1h-1zM351 607h1v1h-1zM352 608h1v1h-1zM353 608h1v1h-1zM354 608h1v1h-1zM355 608h1v1h-1zM356 609h1v1h-1zM357 609h1v1h-1zM358 610h1v1h-1zM359 611h1v1h-1zM360 612h1v1h-1zM361 613h1v1h-1zM362 612h1v1h-1zM363 612h1v1h-1zM364 611h1v1h-1zM365 610h1v1h-1zM366 611h1v1h-1zM367 612h1v2h-1zM368 614h1v1h-1zM369 614h1v2h-1zM370 613h1v1h-1zM371 611h1v2h-1zM372 609h1v2h-1zM373 607h1v2h-1zM374 606h1v1h-1zM375 605h1v1h-1zM376 603h1v2h-1zM377 602h1v3h-1zM378 605h1v4h-1zM379 609h1v3h-1zM380 612h1v4h-1zM381 616h1v2h-1zM382 618h1v2h-1zM383 620h1v2h-1zM384 622h1v1h-1zM385 623h1v1h-1zM386 622h1v1h-1zM387 621h1v1h-1zM388 620h1v1h-1zM389 619h1v1h-1zM390 618h1v1h-1zM391 617h1v1h-1zM392 616h1v1h-1zM393 615h1v1h-1zM394 614h1v1h-1zM395 614h1v1h-1zM396 614h1v1h-1zM397 613h1v1h-1zM398 612h1v1h-1zM399 611h1v1h-1zM400 610h1v1h-1zM401 609h1v2h-1zM402 611h1v3h-1zM403 614h1v2h-1zM404 616h1v2h-1zM405 618h1v2h-1zM406 619h1v1h-1zM407 620h1v1h-1zM408 620h1v1h-1zM409 620h1v1h-1zM410 621h1v1h-1zM411 622h1v1h-1zM412 622h1v1h-1zM413 623h1v1h-1zM414 624h1v1h-1zM415 624h1v1h-1zM416 625h1v1h-1zM417 626h1v1h-1zM418 625h1v1h-1zM419 624h1v1h-1zM420 624h1v1h-1zM421 623h1v1h-1zM422 624h1v1h-1zM423 624h1v1h-1zM424 625h1v1h-1zM425 626h1v1h-1zM426 626h1v1h-1zM427 625h1v1h-1zM428 624h1v1h-1zM429 624h1v1h-1zM430 625h1v1h-1zM431 626h1v2h-1zM432 628h1v1h-1zM433 629h1v1h-1zM434 628h1v1h-1zM435 627h1v1h-1zM436 626h1v1h-1zM437 625h1v2h-1zM438 627h1v2h-1zM439 629h1v2h-1zM440 631h1v2h-1zM441 633h1v1h-1zM442 632h1v1h-1zM443 631h1v1h-1zM444 630h1v1h-1zM445 629h1v1h-1zM446 630h1v1h-1zM447 630h1v1h-1zM448 630h1v1h-1zM449 631h1v2h-1zM450 633h1v2h-1zM451 635h1v3h-1zM452 638h1v2h-1zM453 640h1v1h-1zM454 641h1v1h-1zM455 642h1v1h-1zM456 642h1v1h-1zM457 643h1v1h-1zM458 642h1v1h-1zM459 642h1v1h-1zM460 641h1v1h-1zM461 640h1v1h-1zM462 640h1v1h-1zM463 640h1v1h-1zM464 640h1v1h-1zM465 640h1v2h-1zM466 642h1v2h-1zM467 644h1v1h-1zM468 645h1v2h-1zM469 647h1v1h-1zM470 645h1v2h-1zM471 643h1v2h-1zM472 642h1v1h-1zM473 641h1v1h-1zM474 642h1v1h-1zM475 642h1v1h-1zM476 642h1v1h-1zM477 643h1v1h-1zM478 644h1v1h-1zM479 645h1v1h-1zM480 646h1v1h-1zM481 647h1v1h-1zM482 645h1v2h-1zM483 643h1v2h-1zM484 642h1v1h-1zM485 641h1v1h-1zM486 639h1v2h-1zM487 638h1v1h-1zM488 637h1v1h-1zM489 636h1v1h-1zM490 636h1v1h-1zM491 637h1v1h-1zM492 638h1v1h-1zM493 638h1v1h-1zM494 639h1v1h-1zM495 640h1v2h-1zM496 642h1v1h-1zM497 642h1v2h-1zM498 639h1v3h-1zM499 636h1v3h-1zM500 633h1v3h-1zM501 631h1v2h-1zM502 632h1v2h-1zM503 634h1v1h-1zM504 635h1v1h-1zM505 635h1v2h-1zM506 633h1v2h-1zM507 632h1v1h-1zM508 630h1v2h-1zM509 629h1v1h-1zM510 629h1v1h-1zM511 628h1v1h-1zM512 628h1v1h-1zM513 628h1v1h-1zM514 628h1v1h-1zM515 629h1v1h-1zM516 630h1v1h-1zM517 630h1v1h-1zM518 631h1v1h-1zM519 632h1v1h-1zM520 632h1v1h-1zM521 633h1v1h-1zM522 631h1v2h-1zM523 630h1v1h-1zM524 629h1v1h-1zM525 626h1v3h-1zM526 622h1v4h-1zM527 618h1v4h-1zM528 613h1v5h-1zM529 611h1v2h-1zM530 612h1v1h-1zM531 612h1v1h-1zM532 612h1v1h-1zM533 613h1v1h-1zM534 613h1v1h-1zM535 612h1v1h-1zM536 612h1v1h-1zM537 612h1v1h-1zM538 612h1v1h-1zM539 611h1v1h-1zM540 610h1v1h-1zM541 610h1v1h-1zM542 611h1v1h-1zM543 612h1v1h-1zM544 613h1v1h-1zM545 613h1v2h-1zM546 612h1v1h-1zM547 611h1v1h-1zM548 609h1v2h-1zM549 608h1v1h-1zM550 608h1v1h-1zM551 607h1v1h-1zM552 606h1v1h-1zM553 606h1v1h-1zM554 606h1v1h-1zM555 606h1v1h-1zM556 607h1v1h-1zM557 607h1v1h-1zM558 607h1v1h-1zM559 606h1v1h-1zM560 606h1v1h-1zM561 606h1v1h-1zM562 606h1v1h-1zM563 606h1v1h-1zM564 605h1v1h-1zM565 605h1v1h-1zM566 604h1v1h-1zM567 604h1v1h-1zM568 604h1v1h-1zM569 602h1v2h-1zM570 600h1v2h-1zM571 598h1v2h-1zM572 596h1v2h-1zM573 595h1v1h-1zM574 595h1v1h-1zM575 594h1v1h-1zM576 594h1v1h-1zM577 594h1v1h-1zM578 594h1v1h-1zM579 594h1v1h-1zM580 594h1v1h-1zM581 594h1v2h-1zM582 596h1v1h-1zM583 597h1v1h-1zM584 598h1v2h-1zM585 600h1v1h-1zM586 600h1v1h-1zM587 600h1v1h-1zM588 599h1v1h-1zM589 599h1v1h-1zM590 599h1v1h-1zM591 598h1v1h-1zM592 598h1v1h-1zM593 598h1v1h-1zM594 598h1v1h-1zM595 597h1v1h-1zM596 596h1v1h-1zM597 596h1v1h-1zM598 596h1v1h-1zM599 595h1v1h-1zM600 594h1v1h-1zM601 594h1v1h-1zM602 594h1v1h-1zM603 594h1v1h-1zM604 594h1v1h-1zM605 594h1v2h-1zM606 596h1v2h-1zM607 598h1v2h-1zM608 600h1v2h-1zM609 601h1v2h-1zM610 599h1v2h-1zM611 598h1v1h-1zM612 596h1v2h-1zM613 595h1v1h-1zM614 595h1v1h-1zM615 596h1v1h-1zM616 596h1v1h-1zM617 596h1v1h-1zM618 597h1v1h-1zM619 598h1v1h-1zM620 599h1v1h-1zM621 600h1v2h-1zM622 602h1v2h-1zM623 604h1v1h-1zM624 605h1v2h-1zM625 607h1v1h-1zM626 607h1v1h-1zM627 606h1v1h-1zM628 606h1v1h-1zM629 606h1v1h-1zM630 607h1v1h-1zM631 608h1v1h-1zM632 609h1v1h-1zM633 610h1v1h-1zM634 609h1v1h-1zM635 607h1v2h-1zM636 606h1v1h-1zM637 605h1v1h-1zM638 605h1v1h-1zM639 604h1v1h-1zM640 604h1v1h-1zM641 603h1v2h-1zM642 601h1v2h-1zM643 599h1v2h-1zM644 596h1v3h-1zM645 595h1v1h-1zM646 595h1v1h-1zM647 596h1v1h-1zM648 596h1v1h-1zM649 596h1v1h-1zM650 597h1v1h-1zM651 598h1v1h-1zM652 599h1v1h-1zM653 600h1v1h-1zM654 599h1v1h-1zM655 598h1v1h-1zM656 598h1v1h-1zM657 597h1v1h-1zM658 597h1v1h-1zM659 596h1v1h-1zM660 596h1v1h-1zM661 596h1v1h-1zM662 596h1v1h-1zM663 595h1v1h-1zM664 594h1v1h-1zM665 594h1v1h-1zM666 595h1v1h-1zM667 596h1v1h-1zM668 597h1v1h-1zM669 598h1v1h-1zM670 598h1v1h-1zM671 599h1v1h-1zM672 600h1v1h-1zM673 600h1v1h-1zM674 600h1v1h-1zM675 600h1v1h-1zM676 599h1v1h-1zM677 599h1v1h-1zM678 598h1v1h-1zM679 598h1v1h-1zM680 598h1v1h-1zM681 597h1v3h-1zM682 600h1v4h-1zM683 604h1v5h-1zM684 609h1v4h-1zM685 613h1v3h-1zM686 616h1v2h-1zM687 618h1v2h-1zM688 620h1v3h-1zM689 623h1v1h-1zM690 621h1v2h-1zM691 620h1v1h-1zM692 619h1v1h-1zM693 618h1v1h-1zM694 618h1v1h-1zM695 618h1v1h-1zM696 617h1v1h-1zM697 617h1v1h-1zM698 615h1v2h-1zM699 614h1v1h-1zM700 613h1v1h-1zM701 612h1v1h-1zM702 612h1v1h-1zM703 612h1v1h-1zM704 613h1v1h-1zM705 612h1v2h-1zM706 610h1v2h-1zM707 607h1v3h-1zM708 605h1v2h-1zM709 604h1v1h-1zM710 605h1v1h-1zM711 606h1v1h-1zM712 606h1v1h-1zM713 607h1v2h-1zM714 609h1v3h-1zM715 612h1v3h-1zM716 615h1v3h-1zM717 618h1v2h-1zM718 620h1v1h-1zM719 620h1v1h-1zM720 621h1v1h-1zM721 622h1v1h-1zM722 621h1v1h-1zM723 620h1v1h-1zM724 620h1v1h-1zM725 619h1v1h-1zM726 620h1v1h-1zM727 621h1v1h-1zM728 622h1v1h-1zM729 623h1v1h-1zM730 624h1v1h-1zM731 624h1v1h-1zM732 625h1v1h-1zM733 625h1v2h-1zM734 622h1v3h-1zM735 619h1v3h-1zM736 617h1v2h-1zM737 615h1v3h-1zM738 618h1v5h-1zM739 623h1v4h-1zM740 627h1v4h-1zM741 631h1v3h-1zM742 634h1v1h-1zM743 634h1v1h-1zM744 635h1v1h-1zM745 636h1v1h-1zM746 635h1v1h-1zM747 634h1v1h-1zM748 634h1v1h-1zM749 633h1v1h-1zM750 633h1v1h-1zM751 633h1v1h-1zM752 633h1v1h-1zM753 633h1v1h-1zM754 634h1v1h-1zM755 634h1v1h-1zM756 635h1v1h-1zM757 635h1v2h-1zM758 634h1v1h-1zM759 633h1v1h-1zM760 631h1v2h-1zM761 630h1v1h-1zM762 630h1v1h-1zM763 631h1v1h-1zM764 632h1v1h-1zM765 629h1v4h-1zM766 624h1v5h-1zM767 619h1v5h-1zM768 613h1v6h-1zM769 610h1v3h-1zM770 611h1v1h-1zM771 612h1v1h-1zM772 612h1v1h-1zM773 613h1v1h-1zM774 611h1v2h-1zM775 610h1v1h-1zM776 609h1v1h-1zM777 608h1v1h-1zM778 607h1v1h-1zM779 606h1v1h-1zM780 605h1v1h-1zM781 604h1v1h-1zM782 604h1v1h-1zM783 605h1v1h-1zM784 606h1v1h-1zM785 606h1v1h-1zM786 605h1v1h-1zM787 604h1v1h-1zM788 604h1v1h-1zM789 603h1v2h-1zM790 605h1v1h-1zM791 606h1v2h-1zM792 608h1v2h-1zM793 610h1v1h-1zM794 610h1v1h-1zM795 610h1v1h-1zM796 610h1v1h-1zM797 610h1v1h-1zM798 610h1v1h-1zM799 609h1v1h-1zM800 608h1v1h-1zM801 608h1v1h-1zM802 608h1v1h-1zM803 608h1v1h-1zM804 609h1v1h-1zM805 609h1v1h-1zM806 610h1v2h-1zM807 612h1v2h-1zM808 614h1v1h-1zM809 615h1v2h-1zM810 617h1v2h-1zM811 619h1v2h-1zM812 621h1v2h-1zM813 623h1v1h-1zM814 621h1v2h-1zM815 619h1v2h-1zM816 618h1v1h-1zM817 617h1v1h-1zM818 616h1v1h-1zM819 616h1v1h-1zM820 616h1v1h-1zM821 615h1v1h-1zM822 613h1v2h-1zM823 611h1v2h-1zM824 610h1v1h-1zM825 608h1v2h-1zM826 605h1v3h-1zM827 603h1v2h-1zM828 600h1v3h-1zM829 598h1v2h-1zM830 600h1v1h-1zM831 601h1v1h-1zM832 602h1v2h-1zM833 604h1v1h-1zM834 603h1v1h-1zM835 601h1v2h-1zM836 600h1v1h-1zM837 599h1v1h-1zM838 600h1v1h-1zM839 601h1v1h-1zM840 602h1v1h-1zM841 603h1v1h-1zM842 603h1v1h-1zM843 603h1v1h-1zM844 603h1v1h-1zM845 602h1v2h-1zM846 601h1v1h-1zM847 599h1v2h-1zM848 597h1v2h-1zM849 596h1v1h-1zM850 596h1v1h-1zM851 595h1v1h-1zM852 594h1v1h-1zM853 594h1v1h-1zM854 594h1v1h-1zM855 593h1v1h-1zM856 592h1v1h-1zM857 592h1v1h-1zM858 592h1v1h-1zM859 593h1v1h-1zM860 594h1v1h-1zM861 594h1v1h-1zM862 594h1v1h-1zM863 594h1v1h-1zM864 595h1v1h-1zM865 595h1v1h-1zM866 595h1v1h-1zM867 594h1v1h-1zM868 594h1v1h-1zM869 594h1v2h-1zM870 596h1v2h-1zM871 598h1v3h-1zM872 601h1v3h-1zM873 604h1v1h-1zM874 604h1v1h-1zM875 605h1v1h-1zM876 606h1v1h-1zM877 606h1v1h-1zM878 605h1v1h-1zM879 604h1v1h-1zM880 603h1v1h-1zM881 602h1v1h-1zM882 602h1v1h-1zM883 602h1v1h-1zM884 602h1v1h-1zM885 602h1v1h-1zM886 602h1v1h-1zM887 603h1v1h-1zM888 604h1v1h-1zM889 604h1v1h-1zM890 603h1v1h-1zM891 602h1v1h-1zM892 601h1v1h-1zM893 600h1v1h-1zM894 600h1v1h-1zM895 599h1v1h-1zM896 598h1v1h-1zM897 598h1v2h-1zM898 600h1v3h-1zM899 603h1v3h-1zM900 606h1v3h-1zM901 609h1v2h-1zM902 610h1v1h-1zM903 609h1v1h-1zM904 608h1v1h-1zM905 607h1v2h-1zM906 605h1v2h-1zM907 603h1v2h-1zM908 600h1v3h-1zM909 599h1v2h-1zM910 601h1v3h-1zM911 604h1v2h-1zM912 606h1v2h-1zM913 608h1v2h-1zM914 609h1v1h-1zM915 608h1v1h-1zM916 608h1v1h-1zM917 608h1v1h-1zM918 607h1v1h-1zM919 606h1v1h-1zM920 605h1v1h-1zM921 604h1v1h-1zM922 604h1v1h-1zM923 604h1v1h-1zM924 603h1v1h-1zM925 603h1v1h-1zM926 603h1v1h-1zM927 602h1v1h-1zM928 602h1v1h-1zM929 601h1v2h-1zM930 599h1v2h-1zM931 598h1v1h-1zM932 596h1v2h-1zM933 595h1v1h-1zM934 593h1v2h-1zM935 591h1v2h-1zM936 590h1v1h-1zM937 589h1v1h-1zM938 590h1v1h-1zM939 590h1v1h-1zM940 590h1v1h-1zM941 591h1v1h-1zM942 592h1v1h-1zM943 592h1v1h-1zM944 592h1v1h-1zM945 593h1v1h-1zM946 594h1v1h-1zM947 594h1v1h-1zM948 595h1v1h-1zM949 596h1v1h-1zM950 597h1v1h-1zM951 598h1v2h-1zM952 600h1v1h-1zM953 601h1v1h-1zM954 601h1v1h-1zM955 602h1v1h-1zM956 602h1v1h-1zM957 602h1v2h-1zM958 604h1v2h-1zM959 606h1v1h-1zM960 607h1v2h-1zM961 609h1v1h-1zM962 608h1v1h-1zM963 608h1v1h-1zM964 607h1v1h-1zM965 606h1v1h-1zM966 605h1v1h-1zM967 604h1v1h-1zM968 604h1v1h-1zM969 603h1v1h-1zM970 602h1v1h-1zM971 602h1v1h-1zM972 601h1v1h-1zM973 600h1v1h-1zM974 600h1v1h-1zM975 600h1v1h-1zM976 600h1v1h-1zM977 600h1v2h-1zM978 602h1v3h-1zM979 605h1v3h-1zM980 608h1v2h-1zM981 610h1v2h-1zM982 612h1v1h-1zM983 612h1v1h-1zM984 613h1v1h-1zM985 614h1v1h-1zM986 614h1v1h-1zM987 613h1v1h-1zM988 612h1v1h-1zM989 612h1v1h-1zM990 611h1v1h-1zM991 610h1v1h-1zM992 609h1v1h-1zM993 608h1v2h-1zM994 610h1v2h-1zM995 612h1v2h-1zM996 614h1v2h-1zM997 615h1v2h-1zM998 614h1v1h-1zM999 613h1v1h-1zM1000 611h1v2h-1zM1001 610h1v1h-1zM1002 609h1v1h-1zM1003 608h1v1h-1zM1004 607h1v1h-1zM1005 606h1v1h-1zM1006 607h1v1h-1zM1007 608h1v1h-1zM1008 608h1v1h-1zM1009 609h1v1h-1zM1010 608h1v1h-1zM1011 608h1v1h-1zM1012 608h1v1h-1zM1013 607h1v1h-1zM1014 608h1v2h-1zM1015 610h1v1h-1zM1016 611h1v1h-1zM1017 612h1v1h-1zM1018 611h1v1h-1zM1019 609h1v2h-1zM1020 608h1v1h-1zM1021 607h1v2h-1zM1022 609h1v4h-1zM1023 613h1v3h-1zM1024 616h1v3h-1zM1025 619h1v2h-1zM1026 620h1v1h-1zM1027 620h1v1h-1zM1028 619h1v1h-1zM1029 619h1v1h-1zM1030 619h1v1h-1zM1031 620h1v1h-1zM1032 620h1v1h-1zM1033 620h1v1h-1zM1034 619h1v1h-1zM1035 618h1v1h-1zM1036 618h1v1h-1zM1037 617h1v1h-1zM1038 617h1v1h-1zM1039 618h1v1h-1zM1040 618h1v1h-1zM1041 618h1v2h-1zM1042 620h1v2h-1zM1043 622h1v2h-1zM1044 624h1v3h-1zM1045 627h1v1h-1zM1046 627h1v1h-1zM1047 628h1v1h-1zM1048 628h1v1h-1zM1049 628h1v1h-1zM1050 629h1v1h-1zM1051 630h1v2h-1zM1052 632h1v1h-1zM1053 632h1v2h-1zM1054 630h1v2h-1zM1055 627h1v3h-1zM1056 625h1v2h-1zM1057 624h1v1h-1zM1058 625h1v1h-1zM1059 626h1v1h-1zM1060 626h1v1h-1zM1061 627h1v1h-1zM1062 626h1v1h-1zM1063 626h1v1h-1zM1064 626h1v1h-1zM1065 625h1v1h-1zM1066 624h1v1h-1zM1067 624h1v1h-1zM1068 624h1v1h-1zM1069 623h1v1h-1zM1070 622h1v1h-1zM1071 622h1v1h-1zM1072 621h1v1h-1zM1073 619h1v2h-1zM1074 617h1v2h-1zM1075 615h1v2h-1zM1076 613h1v2h-1zM1077 611h1v2h-1zM1078 609h1v2h-1zM1079 607h1v2h-1zM1080 605h1v2h-1zM1081 604h1v1h-1zM1082 604h1v1h-1zM1083 604h1v1h-1zM1084 603h1v1h-1zM1085 603h1v1h-1zM1086 601h1v2h-1zM1087 599h1v2h-1zM1088 598h1v1h-1zM1089 597h1v1h-1zM1090 598h1v1h-1zM1091 598h1v1h-1zM1092 599h1v1h-1zM1093 600h1v1h-1zM1094 599h1v1h-1zM1095 598h1v1h-1zM1096 598h1v1h-1zM1097 597h1v2h-1zM1098 599h1v2h-1zM1099 601h1v2h-1zM1100 603h1v2h-1zM1101 605h1v1h-1zM1102 604h1v1h-1zM1103 603h1v1h-1zM1104 602h1v1h-1zM1105 601h1v1h-1zM1106 600h1v1h-1zM1107 600h1v1h-1zM1108 600h1v1h-1zM1109 599h1v1h-1zM1110 598h1v1h-1zM1111 598h1v1h-1zM1112 597h1v1h-1zM1113 596h1v1h-1zM1114 597h1v1h-1zM1115 598h1v1h-1zM1116 598h1v1h-1zM1117 599h1v1h-1zM1118 600h1v2h-1zM1119 602h1v2h-1zM1120 604h1v1h-1zM1121 604h1v2h-1zM1122 601h1v3h-1zM1123 598h1v3h-1zM1124 595h1v3h-1zM1125 593h1v4h-1zM1126 597h1v7h-1zM1127 604h1v6h-1zM1128 610h1v6h-1zM1129 616h1v4h-1zM1130 619h1v1h-1zM1131 619h1v1h-1zM1132 619h1v1h-1zM1133 619h1v1h-1zM1134 618h1v1h-1zM1135 618h1v1h-1zM1136 618h1v1h-1zM1137 616h1v2h-1zM1138 614h1v2h-1zM1139 612h1v2h-1zM1140 610h1v2h-1zM1141 608h1v2h-1zM1142 605h1v3h-1zM1143 603h1v2h-1zM1144 600h1v3h-1zM1145 598h1v2h-1zM1146 598h1v1h-1zM1147 598h1v1h-1zM1148 597h1v1h-1zM1149 597h1v1h-1zM1150 595h1v2h-1zM1151 593h1v2h-1zM1152 592h1v1h-1zM1153 591h1v1h-1zM1154 592h1v1h-1zM1155 592h1v1h-1zM1156 592h1v1h-1zM1157 593h1v1h-1zM1158 594h1v1h-1zM1159 594h1v1h-1zM1160 594h1v1h-1zM1161 595h1v1h-1zM1162 595h1v1h-1zM1163 594h1v1h-1zM1164 594h1v1h-1zM1165 594h1v1h-1zM1166 595h1v1h-1zM1167 596h1v1h-1zM1168 596h1v1h-1zM1169 597h1v1h-1zM1170 598h1v1h-1zM1171 598h1v1h-1zM1172 599h1v1h-1zM1173 600h1v2h-1zM1174 602h1v2h-1zM1175 604h1v2h-1zM1176 606h1v3h-1zM1177 609h1v1h-1zM1178 607h1v2h-1zM1179 606h1v1h-1zM1180 605h1v1h-1zM1181 603h1v2h-1zM1182 601h1v2h-1zM1183 599h1v2h-1zM1184 597h1v2h-1zM1185 596h1v1h-1zM1186 597h1v1h-1zM1187 598h1v1h-1zM1188 599h1v1h-1zM1189 600h1v1h-1zM1190 601h1v1h-1zM1191 602h1v1h-1zM1192 603h1v1h-1zM1193 603h1v2h-1zM1194 601h1v2h-1zM1195 600h1v1h-1zM1196 598h1v2h-1zM1197 597h1v1h-1zM1198 596h1v1h-1zM1199 595h1v1h-1zM1200 594h1v1h-1zM1201 593h1v1h-1zM1202 594h1v1h-1zM1203 595h1v1h-1zM1204 596h1v1h-1zM1205 597h1v1h-1zM1206 596h1v1h-1zM1207 595h1v1h-1zM1208 594h1v1h-1zM1209 593h1v1h-1zM1210 592h1v1h-1zM1211 592h1v1h-1zM1212 592h1v1h-1zM1213 591h1v1h-1zM1214 591h1v1h-1zM1215 592h1v1h-1zM1216 592h1v1h-1zM1217 591h1v2h-1zM1218 590h1v1h-1zM1219 589h1v1h-1zM1220 587h1v2h-1zM1221 586h1v4h-1zM1222 590h1v6h-1zM1223 596h1v5h-1zM1224 601h1v6h-1zM1225 607h1v3h-1zM1226 608h1v1h-1zM1227 607h1v1h-1zM1228 606h1v1h-1zM1229 605h1v1h-1zM1230 605h1v1h-1zM1231 605h1v1h-1zM1232 605h1v1h-1zM1233 605h1v1h-1zM1234 606h1v2h-1zM1235 608h1v1h-1zM1236 609h1v1h-1zM1237 609h1v2h-1zM1238 608h1v1h-1zM1239 607h1v1h-1zM1240 605h1v2h-1zM1241 604h1v1h-1zM1242 603h1v1h-1zM1243 602h1v1h-1zM1244 602h1v1h-1zM1245 601h1v1h-1zM1246 600h1v1h-1zM1247 600h1v1h-1zM1248 599h1v1h-1zM1249 598h1v1h-1zM1250 599h1v1h-1zM1251 600h1v1h-1zM1252 601h1v1h-1zM1253 602h1v1h-1zM1254 601h1v1h-1zM1255 600h1v1h-1zM1256 599h1v1h-1zM1257 598h1v1h-1zM1258 597h1v1h-1zM1259 596h1v1h-1zM1260 595h1v1h-1zM1261 594h1v1h-1zM1262 595h1v1h-1zM1263 596h1v2h-1zM1264 598h1v1h-1zM1265 599h1v1h-1zM1266 599h1v1h-1zM1267 599h1v1h-1zM1268 599h1v1h-1zM1269 599h1v1h-1zM1270 599h1v1h-1zM1271 598h1v1h-1zM1272 598h1v1h-1zM1273 598h1v1h-1zM1274 598h1v1h-1zM1275 598h1v1h-1zM1276 598h1v1h-1zM1277 598h1v1h-1zM1278 598h1v1h-1zM1279 598h1v1h-1zM1280 599h1v1h-1zM1281 599h1v1h-1z" fill="#1e90ff"/>
</g>
<g shape-rendering="crispEdges">
<rect x="1614" y="28" width="2" height="1" fill="#000" />
<rect x="1614" y="77" width="2" height="1" fill="#000" />
<rect x="1614" y="126" width="2" height="1" fill="#000" />
<rect x="1614" y="175" width="2" height="1" fill="#000" />
<rect x="1614" y="224" width="2" height="1" fill="#000" />
<rect x="1614" y="273" width="2" height="1" fill="#000" />
<rect x="1614" y="322" width="2" height="1" fill="#000" />
<rect x="1614" y="371" width="2" height="1" fill="#000" />
<rect x="1614" y="420" width="2" height="1" fill="#000" />
<rect x="1614" y="469" width="2" height="1" fill="#000" />
<rect x="1614" y="492" width="2" height="1" fill="#000" />
<rect x="1614" y="523" width="2" height="1" fill="#000" />
<rect x="1614" y="549" width="2" height="1" fill="#000" />
<rect x="1614" y="554" width="2" height="1" fill="#000" />
<rect x="1614" y="676" width="2" height="1" fill="#000" />
</g>
<g font-size="12.75" fill="#000">
<text x="1620" y="33">1282.20</text>
<text x="1620" y="82">1272.75</text>
<text x="1620" y="131">1263.30</text>
<text x="1620" y="180">1254.00</text>
<text x="1620" y="229">1244.55</text>
<text x="1620" y="278">1235.10</text>
<text x="1620" y="327">1225.80</text>
<text x="1620" y="376">1216.35</text>
<text x="1620" y="425">1206.90</text>
<text x="1620" y="474">1197.60</text>
<text x="1616.5" y="504">8.716</text>
<text x="1616.5" y="528">0.00</text>
<text x="1616.5" y="547">-7.36</text>
<text x="1616" y="566">100</text>
<text x="1616" y="595">70</text>
<text x="1616" y="645">30</text>
<text x="1617" y="674">0</text>
</g>
<rect x="1615" y="25" width="56" height="14" fill="#ff0000" shape-rendering="crispEdges"/>
<text x="1620" y="37" font-size="12.75" fill="#fff">1281.61</text>
<rect x="1615" y="40" width="56" height="14" fill="#000" shape-rendering="crispEdges"/>
<text x="1620" y="52" font-size="12.75" fill="#fff">1278.62</text>
<rect x="1615" y="109" width="56" height="14" fill="#00ff7f" shape-rendering="crispEdges"/>
<text x="1620" y="121" font-size="12.75" fill="#fff">1265.41</text>
<rect x="1615" y="188" width="56" height="14" fill="#0000ff" shape-rendering="crispEdges"/>
<text x="1620" y="200" font-size="12.75" fill="#fff">1250.32</text>
<rect x="1615" y="237" width="56" height="14" fill="#0000ff" shape-rendering="crispEdges"/>
<text x="1620" y="249" font-size="12.75" fill="#fff">1240.90</text>
<g shape-rendering="crispEdges">
<rect x="5" y="678" width="1" height="3" fill="#000" />
<rect x="101" y="678" width="1" height="3" fill="#000" />
<rect x="197" y="678" width="1" height="3" fill="#000" />
<rect x="293" y="678" width="1" height="3" fill="#000" />
<rect x="389" y="678" width="1" height="3" fill="#000" />
<rect x="485" y="678" width="1" height="3" fill="#000" />
<rect x="581" y="678" width="1" height="3" fill="#000" />
<rect x="677" y="678" width="1" height="3" fill="#000" />
<rect x="773" y="678" width="1" height="3" fill="#000" />
<rect x="869" y="678" width="1" height="3" fill="#000" />
<rect x="965" y="678" width="1" height="3" fill="#000" />
<rect x="1061" y="678" width="1" height="3" fill="#000" />
<rect x="1157" y="678" width="1" height="3" fill="#000" />
<rect x="1253" y="678" width="1" height="3" fill="#000" />
</g>
<g font-size="12.75" fill="#000">
<text x="4.4" y="693">15 Oct 2018</text>
<text x="100.4" y="693">21 Oct 23:00</text>
<text x="196.4" y="693">25 Oct 20:00</text>
<text x="292.4" y="693">31 Oct 20:00</text>
<text x="388.4" y="693" textLength="67.4" lengthAdjust="spacingAndGlyphs">6 Nov 20:00</text>
<text x="484.4" y="693" textLength="74.3" lengthAdjust="spacingAndGlyphs">12 Nov 20:00</text>
<text x="580.4" y="693" textLength="74.3" lengthAdjust="spacingAndGlyphs">18 Nov 23:00</text>
<text x="676.4" y="693" textLength="74.3" lengthAdjust="spacingAndGlyphs">22 Nov 23:00</text>
<text x="772.4" y="693" textLength="74.3" lengthAdjust="spacingAndGlyphs">28 Nov 20:00</text>
<text x="868.4" y="693" textLength="67.4" lengthAdjust="spacingAndGlyphs">4 Dec 20:00</text>
<text x="964.4" y="693" textLength="74.3" lengthAdjust="spacingAndGlyphs">10 Dec 20:00</text>
<text x="1060.4" y="693" textLength="74.3" lengthAdjust="spacingAndGlyphs">16 Dec 23:00</text>
<text x="1156.4" y="693" textLength="74.3" lengthAdjust="spacingAndGlyphs">20 Dec 20:00</text>
<text x="1252.4" y="693" textLength="74.3" lengthAdjust="spacingAndGlyphs">27 Dec 20:00</text>
</g>
<path d="M8 18 L12.5 13 L17 18 Z" fill="#000"/>
<text y="20" font-size="12.75" fill="#000"><tspan x="23" textLength="68.5" lengthAdjust="spacingAndGlyphs">XAUUSD-,H4</tspan><tspan x="92">  </tspan><tspan x="100.7">1279.61</tspan><tspan x="147"> </tspan><tspan x="150.7">1280.47</tspan><tspan x="197"> </tspan><tspan x="200.7">1278.36</tspan><tspan x="247"> </tspan><tspan x="250.7">1278.62</tspan></text>
<text y="506" font-size="12.75" fill="#000"><tspan x="8.5" textLength="31.4" lengthAdjust="spacingAndGlyphs">MACD</tspan><tspan x="40.4" textLength="53.4" lengthAdjust="spacingAndGlyphs">(12,26,9)</tspan><tspan x="94"> </tspan><tspan x="97.4">4.988</tspan><tspan x="130.5"> </tspan><tspan x="134.2">5.069</tspan></text>
<text y="568" font-size="12.75" fill="#000"><tspan x="8.7" textLength="41.6" lengthAdjust="spacingAndGlyphs">RSI(14)</tspan><tspan x="51"> </tspan><tspan x="54.9">62.2168</tspan></text>
<path d="M1284 6 L1296 6 L1290 12 Z" fill="#c0c0c0"/>
<text x="1269.8" y="185" font-size="33" fill="#ff1e0c">多空转折点<tspan x="1436.3" font-size="34.6" textLength="74.6" lengthAdjust="spacingAndGlyphs">1265</tspan></text>
<g shape-rendering="crispEdges">
<rect x="6" y="28" width="287" height="76" fill="#fff" />
<rect x="5" y="30" width="1" height="1" fill="#fff" />
<rect x="8" y="28" width="68" height="28" fill="#0000b4" />
<rect x="9" y="29" width="66" height="27" fill="url(#gTab)" />
<rect x="223" y="28" width="68" height="28" fill="#0000b4" />
<rect x="224" y="29" width="66" height="27" fill="url(#gTab)" />
<rect x="8" y="55" width="141" height="49" fill="#0000b4" />
<rect x="9" y="56" width="139" height="47" fill="url(#gBox)" />
<rect x="151" y="55" width="140" height="49" fill="#0000b4" />
<rect x="152" y="56" width="138" height="47" fill="url(#gBox)" />
<rect x="9" y="55" width="66" height="1" fill="#3c3ce6" />
<rect x="224" y="55" width="66" height="1" fill="#3c3ce6" />
<rect x="12" y="54" width="60" height="1" fill="#1010a4" />
<rect x="227" y="54" width="60" height="1" fill="#1010a4" />
<rect x="12" y="55" width="60" height="1" fill="#9494f6" />
<rect x="227" y="55" width="60" height="1" fill="#9494f6" />
<rect x="78" y="28" width="143" height="25" fill="#b2b2b6" />
<rect x="79" y="29" width="141" height="23" fill="#fff" />
<rect x="80" y="30" width="21" height="6" fill="url(#gBtnT)" />
<rect x="80" y="36" width="21" height="15" fill="url(#gBtnB)" />
<rect x="102" y="29" width="1" height="23" fill="#b8b8bc" />
<rect x="198" y="30" width="21" height="6" fill="url(#gBtnT)" />
<rect x="198" y="36" width="21" height="15" fill="url(#gBtnB)" />
<rect x="196" y="29" width="1" height="23" fill="#b8b8bc" />
</g>
<path d="M86.6 39 L94.2 39 L90.4 43.3 Z" fill="url(#gArr)"/>
<path d="M204.7 42.2 L212.3 42.2 L208.5 37.9 Z" fill="url(#gArr2)"/>
<text x="193.2" y="46" font-size="15.4" text-anchor="end" fill="#000">1.00</text>
<text x="42" y="46.6" font-size="14.8" text-anchor="middle" fill="#fff" letter-spacing="-0.6">SELL</text>
<text x="257" y="46.6" font-size="14.8" text-anchor="middle" fill="#fff" letter-spacing="-0.2">BUY</text>
<text x="37.4" y="92.6" font-size="15.5" font-weight="bold" fill="#fff" letter-spacing="0.8">1278</text>
<text x="77.5" y="93" font-size="41.5" fill="#fff" letter-spacing="-1.6">61</text>
<text x="179.9" y="92.6" font-size="15.5" font-weight="bold" fill="#fff" letter-spacing="0.8">1279</text>
<text x="220" y="93" font-size="41.5" fill="#fff" letter-spacing="-1.6">01</text>
</svg></body></html>
